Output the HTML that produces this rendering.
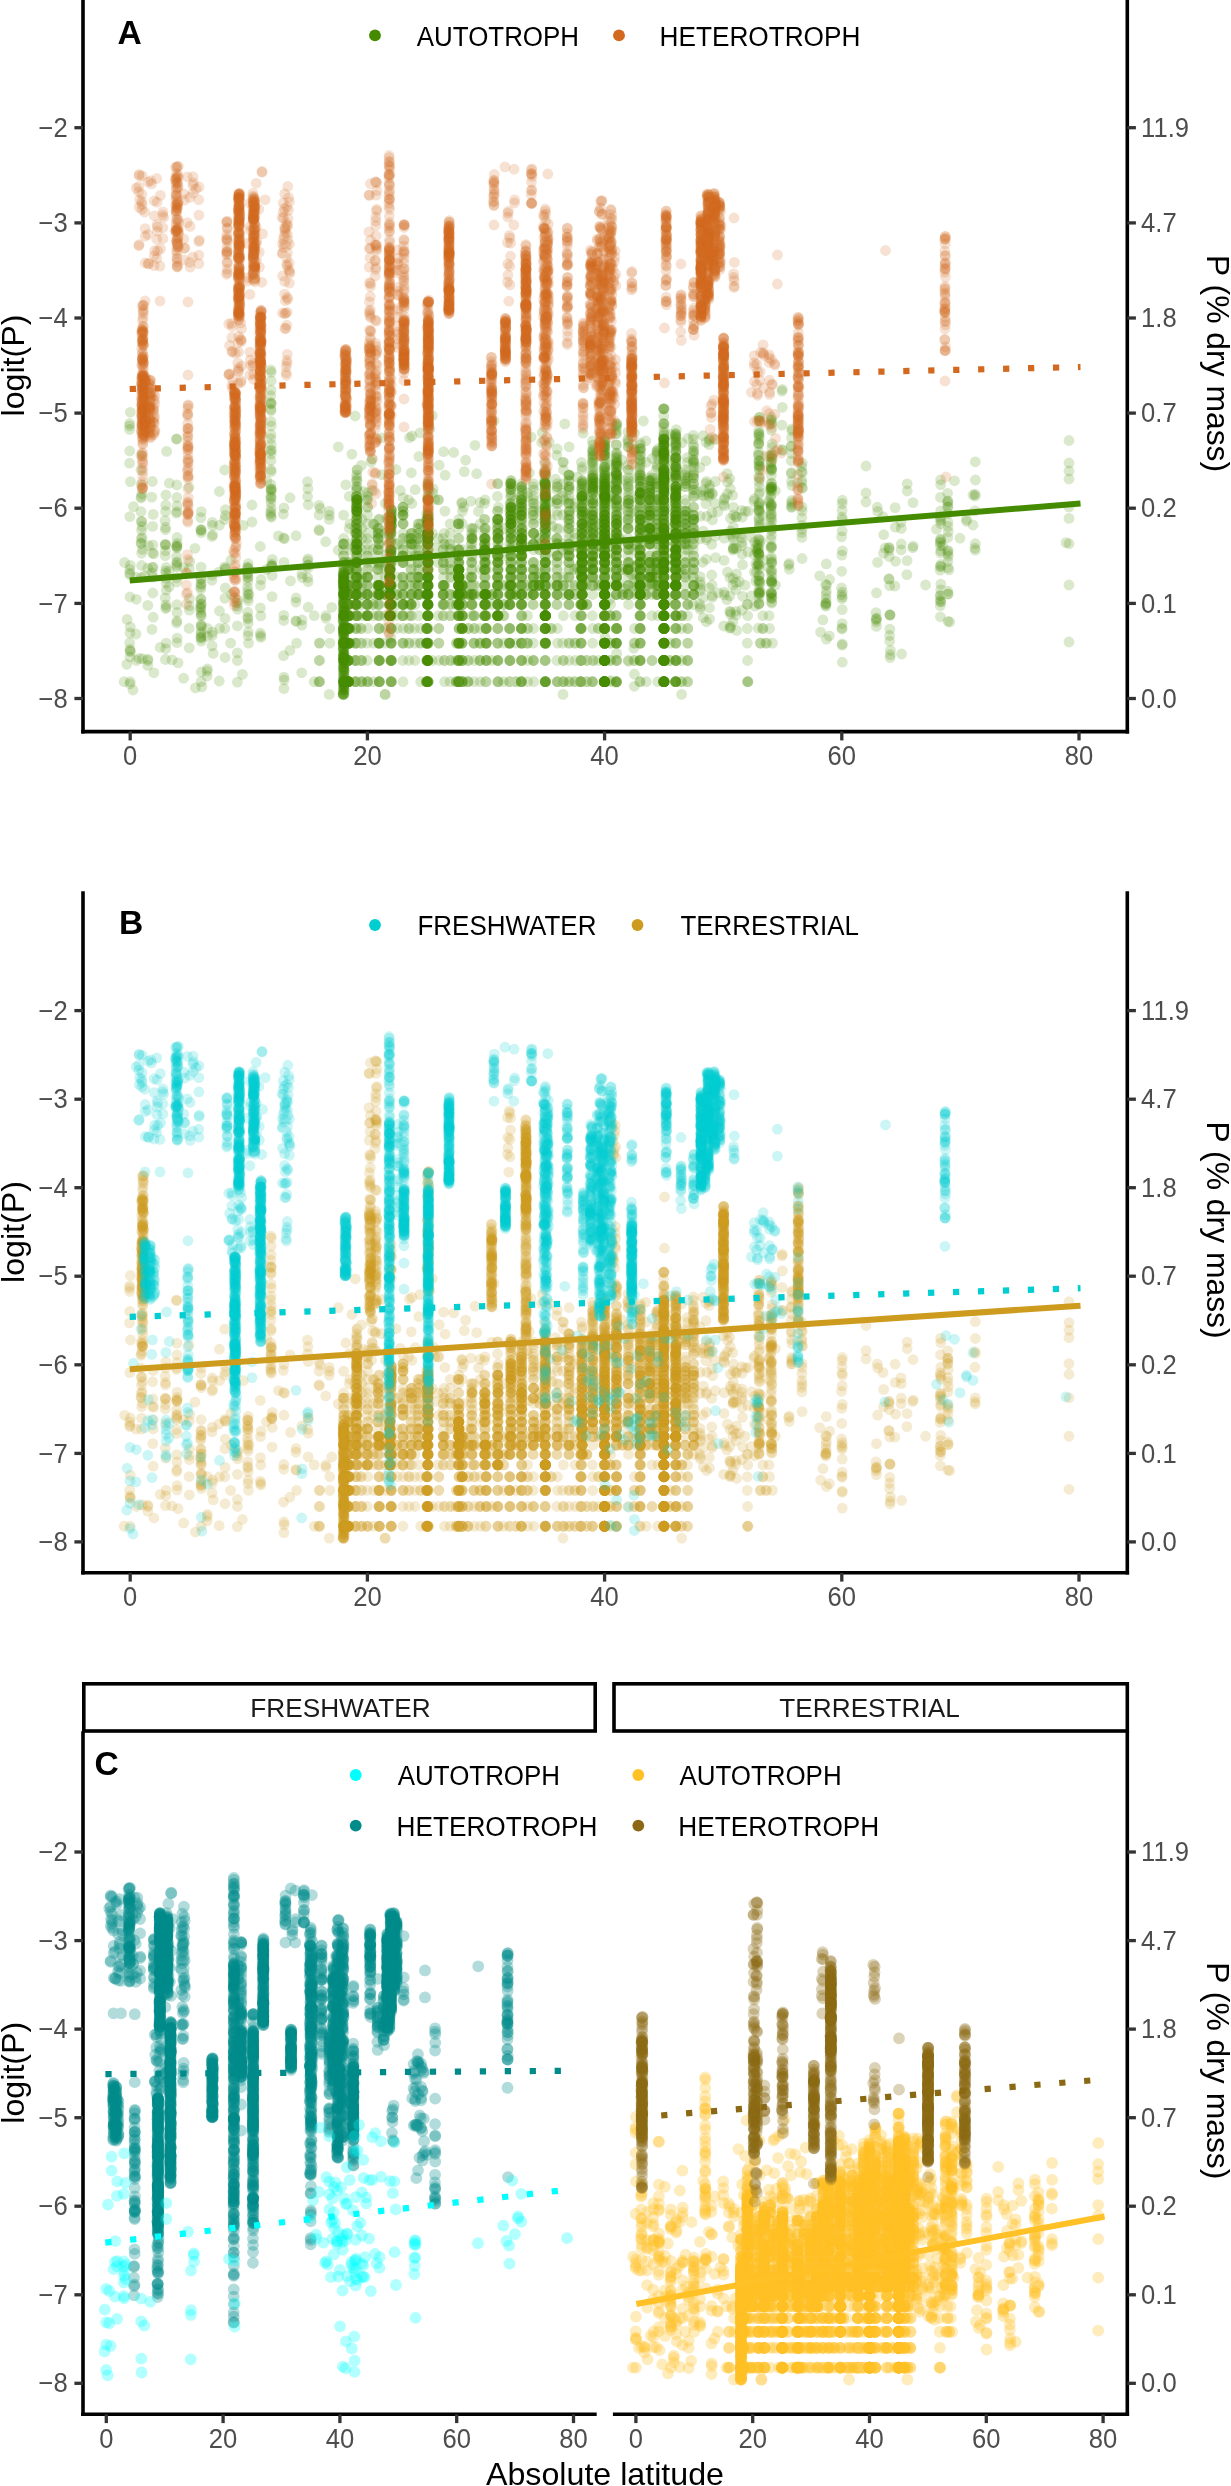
<!DOCTYPE html><html><head><meta charset="utf-8"><style>html,body{margin:0;padding:0;background:#fff}svg{display:block;will-change:transform}</style></head><body><svg width="1231" height="2486" viewBox="0 0 1231 2486"><style>.tk{font-family:"Liberation Sans",sans-serif;font-size:26.9px;fill:#4D4D4D}.lg{font-family:"Liberation Sans",sans-serif;font-size:27px;fill:#000}.st{font-family:"Liberation Sans",sans-serif;font-size:26.7px;fill:#1A1A1A}.ti{font-family:"Liberation Sans",sans-serif;font-size:32.2px;fill:#000}.tg{font-family:"Liberation Sans",sans-serif;font-weight:bold;font-size:33.6px;fill:#000}defs path{vector-effect:non-scaling-stroke}.pt{fill:none;stroke-linecap:round}</style><defs><path id="AT0" d="M124.6 562.5h0m16.7-65.9h0m11.8 70.9h0m23.7-128.3h0m.3 203.5h0m24.1-58.5h0m6 91.8h0m17.7-77.7h0m23-20.6h0m18.6-8.2h0m4.5-80.2h0m13 73.1h0m24.2 44.8h0m23.5 .1h0m11.4 86.8h0m.2-26.5h0m0-84h0m.1 34.9h0m.2-44h0m0 32.4h0m.1-12.4h0m0 87.2h0m.2-24.8h0m0-13.8h0m.1-11.7h0m4.2-15.7h0m.2 44.8h0m1-75.1h0m0 43.1h0m5.9-43.1h0m0 19.1h0m1-42h0m.3-59.1h0m.2 40.6h0m.3-24.6h0m0-49.6h0m4.2-4.4h0m6 216.3h0m.2-87.2h0m.1-98.1h0m10.3 98.1h0m.9-32h0m.4 32h0m.1 87.2h0m10.4-96.3h0m.1-22.9h0m.2 53.2h0m.1-21.2h0m0-17.4h0m.2-27.4h0m.9 78.8h0m.1-108.6h0m5.9 57.2h0m5.5-33.1h0m.3 60.5h0m5.7 38.6h0m2.7-66h0m6.9 0h0m0-53.3h0m8.6 119.3h0m.6-93.4h0m.2 27.4h0m.2-53.3h0m0-24h0m.1 115.9h0m.1 44.8h0m0-122h0m0 24h0m.1 32h0m11.1-129.3h0m4.2 104.3h0m1.1 91h0m5.5 21.2h0m8.2-38.6h0m.2-73.6h0m.1 25h0m.1-44.8h0m.1 35.7h0m.3 19.1h0m3.3 24h0m.3-43.1h0m5.2 96.3h0m3.6-104.6h0m3.5-131.8h0m9.4 140.1h0m.1-35.7h0m.5-49.9h0m.2 104.7h0m1-10h0m7.9-173.7h0m3.5 156.3h0m.2 38.6h0m.1-77.2h0m.2 122h0m.1-127.1h0m11.3 71.1h0m1.2-89.4h0m.4 54.4h0m.1 25h0m0-61.1h0m.1-46.7h0m10 173.8h0m0-164.1h0m0 66.1h0m.1-18.5h0m0-24.6h0m.2 75.1h0m9.6-157.5h0m2.1 107h0m.1 50.5h0m5.7-9.1h0m5.9-78.2h0m0 97.3h0m.1 11.2h0m0-38.6h0m.1 66h0m0-119.3h0m.1 25.9h0m.3-63h0m9.9-7.5h0m1.3 90.3h0m2.2-40.5h0m9.9-9.6h0m.2 50.1h0m0-122.6h0m5.9 122.6h0m6 59h0m.7-43.1h0m.1-74.3h0m.2 44.8h0m.1-59.5h0m0 98.1h0m.3-32h0m.1-29.1h0m4.8 16.3h0m5.1-25.9h0m.1-30.8h0m.3 62.9h0m.2-88.7h0m.1 109.9h0m11 104.6h0m.1-137.7h0m.2-24.6h0m.1 141.1h0m.1-170.7h0m0-46.9h0m.1 56.9h0m0 94.7h0m.1-17.4h0m0-21.2h0m0-80.8h0m.1 168h0m0-14.6h0m0-95.1h0m.1 71.1h0m5.5 77.2h0m5.6-66h0m.2-143.3h0m0 17.4h0m0 34h0m.2 53.3h0m.3-27.4h0m5.4 19.8h0m6.3-66.1h0m0 46.3h0m5.9-71.8h0m5.4 18.5h0m.1 27.4h0m.4 32.1h0m0 38.6h0m.2-119.4h0m0 102h0m0 38.6h0m5.2-21.2h0m3.8-66h0m.2-28.7h0m.3 62.7h0m.1 7h0m6.5-73.1h0m.1 98.1h0m.8-50.5h0m6.2 18.5h0m0-109.3h0m.1 123.9h0m0-138h0m0 204h0m0-104.6h0m.1 77.2h0m0-125.9h0m0 170.7h0m0-56h0m.1-126.6h0m.1 29.3h0m0 16.6h0m0-54h0m.1 79.9h0m0 44.8h0m.1 34h0m5.5 32h0m5.6-182.6h0m0 203.8h0m0-96.3h0m0-127.7h0m.2 66.1h0m0 80.7h0m0-35h0m.2-73.1h0m0 47.6h0m.3 11.9h0m.1-44.8h0m9.2-27.5h0m.1 54.9h0m2.5 66h0m5.5-139.7h0m.2 54.6h0m0 66h0m9.4-95.4h0m6.5 129.1h0m17.8-125.1h0m3.2 120.3h0m11.9-49.6h0m16.1-88h0m.1 76.6h0m.3 44h0m.5-180.1h0m11.9 71.8h0m.2 58.3h0m.2-124.6h0m.1 175.6h0m19.6-117h0m29.1 150.8h0m21.7-131.9h0m34.1 119.4h0m19.2-58.3h0m45-21.5h0m7.1-32.6h0m121.3-66.7h0"/><path id="AT1" d="M124.1 681.7h0m16.9-183.7h0m12.1 79.2h0m23.8-92.2h0m1.2 177.9h0m22.7-75.9h0m11.5-64.6h0m12.8 96.1h0m22.7-37.4h0m22.9-211.2h0m.6 119.8h0m12.5 125.6h0m30.4 .4h0m24.1-168.8h0m4.8 128.1h0m.2 57.9h0m.1-13.5h0m.2 48.3h0m.1-10.2h0m.1-14.4h0m.2-48.6h0m.1 87.2h0m0-73.3h0m.1-23.9h0m0 109.9h0m3.9-33.9h0m.3-44.8h0m.1 27.4h0m1.1-57.7h0m6.8-22.9h0m.3-87.4h0m.1 129.4h0m.1-101.1h0m.1 20.4h0m.1 61.6h0m0-41.4h0m4.8-24.6h0m5.4 75.1h0m.3-94.7h0m.2 181.9h0m9.9-87.2h0m.6-25h0m.1 35h0m.9 77.2h0m10.3-66h0m.1-30.3h0m.1-15.9h0m.4-19.8h0m0 27.4h0m.8 51.4h0m.2-34h0m.4-74.3h0m5.6 74.3h0m6 10h0m.1-54.8h0m5.9 93.4h0m2.1-57.7h0m6.9-8.3h0m.5-53.3h0m7.9 119.3h0m.9 17.4h0m0-44.8h0m.2-91.9h0m.1 61.6h0m0-46.9h0m.2 56h0m0-44.8h0m.2-49.9h0m.1 62.7h0m9.8-62.7h0m5.5 69.7h0m1 112.2h0m11.8-130.2h0m2 33.9h0m.1-35.7h0m.4 44.8h0m.1 10h0m0-35h0m2.9 91h0m.3-32h0m.3-43.1h0m5.3 96.3h0m3.6-104.6h0m5.3-103.4h0m7.8 29.7h0m.2 82h0m.1-35.7h0m.3 54.8h0m1.1-10h0m11.6-110.9h0m0 60.4h0m0 71.7h0m.1-38.6h0m.3 104.6h0m.1-143.2h0m11.2 66h0m1.2-117.8h0m0 28.4h0m.1 54.4h0m.1-36.1h0m.2 61.1h0m10.3-75.1h0m.1 141.1h0m.3-116.5h0m0 18.5h0m0-66.1h0m.1 98.1h0m11.5 0h0m0-50.5h0m.1-60.4h0m5.9 101.8h0m5.6-35.7h0m.3 27.4h0m.1-89.8h0m0 36.5h0m0 91.9h0m.1-11.2h0m0 38.6h0m.1-135.9h0m11.7-23.6h0m.1 85.9h0m5.5-107.2h0m6.3 12.8h0m.1 102h0m.1-53.3h0m5.8 61.6h0m5.7 57.7h0m.9-87.2h0m.1 29.5h0m.1-70.3h0m0 79.4h0m.1-94.7h0m.1 62.7h0m.1-29.1h0m4.2 36.1h0m6.1-13.6h0m.2 29.5h0m0-56.9h0m.2-35.5h0m.1-23.2h0m11 158.7h0m.1-95.1h0m0 61.1h0m.1-38.6h0m.1 21.2h0m0-57.7h0m.1 24.6h0m0 137.7h0m.1-191.9h0m.1 10h0m.1 104.7h0m0-159.6h0m.1 30.2h0m.1 185.4h0m.1-17.4h0m11-170.7h0m.1 77.3h0m0 78.8h0m.2-104.7h0m.2-30.8h0m0 84.1h0m.2-153.5h0m5.9 170.9h0m5.5-91.1h0m0 52.5h0m6.2-44.8h0m5.5-11.3h0m.2 115.9h0m.1-140.6h0m.2 119.4h0m0-66h0m.1 27.4h0m0 21.2h0m5.5 17.4h0m3.7-94.7h0m.1 28.7h0m.1 34h0m.1 14.6h0m6.4 17.4h0m.5-44.8h0m.1-53.3h0m6.6-43.2h0m0 24.7h0m.1 99.2h0m0-14.6h0m0-123.4h0m0 155.4h0m0-87.3h0m0 108.5h0m.1-125.9h0m0 48.7h0m.1 90h0m0-78.8h0m.1 93.4h0m0-38.6h0m0 56h0m.2-132h0m0-58.7h0m5.3 190.7h0m5.9-104.6h0m0-59.5h0m.1 47.6h0m0 41.4h0m0-15.9h0m.1 46.2h0m0-100.6h0m.1 166.6h0m.2-224h0m.2 20.2h0m0 50.6h0m9.1-41.8h0m.4 51.8h0m1.9 66h0m5.7-80.7h0m.7-56.6h0m0 118.2h0m9.5-89.9h0m3 126.3h0m21-49.8h0m5.5 49.5h0m12.1-36.4h0m13.9-31.8h0m.2 49.8h0m.1-185.5h0m.2 60.8h0m11.7 10.7h0m.1 59h0m.4-124.1h0m0 178h0m20.3-116.5h0m33.8 98.9h0m16.5-80.8h0m34 118.3h0m18.7-35.9h0m45.5-44.2h0m7.8-28.3h0m120.8-50.5h0"/><path id="AT2" d="M129.7 423.5h0m11.3 88.2h0m11.8 81.3h0m24.1-95.5h0m6.7 70.2h0m17.1 21.5h0m11.7-63.8h0m12.4 103.1h0m22.8-41.2h0m23.6-95.6h0m.1-119.5h0m12.4 248.3h0m30.5 61.2h0m24-131.5h0m4.9 69.2h0m.1 75.1h0m.2-100h0m0-9.9h0m0 73h0m.2 24.1h0m.1-73.1h0m.1-33.5h0m.1 93.5h0m.2-25.5h0m.2-10.2h0m3.7 27.6h0m.5-44.8h0m.1 27.4h0m.7-57.7h0m5.8-41.4h0m1.4 41.4h0m.1-61.6h0m0 80.7h0m.2-126.6h0m.3 25.5h0m.1 59.1h0m4.5-34h0m5.4-28.7h0m.2 94.7h0m4.6-135.5h0m5.8 145.5h0m.3-19.1h0m.1 19.1h0m1.2 77.2h0m10.4-112.2h0m0 25h0m.3 21.2h0m0-38.6h0m.8-56.5h0m.1 29.1h0m.5 78.8h0m.1-34h0m5.2 0h0m6 10h0m.3-54.8h0m5.8 110.8h0m2.9-66h0m6.4-9.1h0m3-61.6h0m5.3 119.3h0m0-48.6h0m.5 87.2h0m.6-157.9h0m0-24h0m.2 115.9h0m.1-53.2h0m.1 22.9h0m.1-46.9h0m0 11.2h0m10.8-49.9h0m4.7 77.3h0m10.2-124.6h0m2.7 142h0m2.2-38.6h0m.1 38.6h0m.2-9.1h0m0 19.1h0m.2-35h0m.1 91h0m2.9-32h0m0-43.1h0m8.8-84.3h0m.8 76h0m2.4-48.6h0m10.5 56.9h0m0-66h0m.2 85.1h0m0-54.8h0m1.3 54.8h0m11.4-120.9h0m0 93.5h0m.1-27.4h0m.2 66h0m.3-77.2h0m0 143.2h0m11.3-77.2h0m1.2-89.4h0m.1-25.3h0m.5 48.7h0m0 31h0m.1 25h0m10-25h0m.1-69.7h0m.2 104.7h0m.1 56h0m.2-141.1h0m.1 24.6h0m11.2-57.3h0m.1 107.8h0m.3-44.8h0m5.6 35.7h0m5.8-96.2h0m.1 115.3h0m.2-97h0m.1 135.6h0m0-93.4h0m.1-25.9h0m.1 53.3h0m.1 38.6h0m11.2-38.6h0m.3-90.4h0m6.3-24.4h0m5.2 12.8h0m.1 102h0m.3-53.3h0m5.6 61.6h0m6.6 57.7h0m.4-128h0m0 70.3h0m.1-29.5h0m.2-22.5h0m.3 29.1h0m0 32h0m0-94.7h0m4.2 85.6h0m6-29.5h0m.1-62.9h0m.2-20.6h0m0 113h0m.1-56.9h0m11.3-38.7h0m.1 170.7h0m0-104.6h0m.1-22.5h0m.1 43.7h0m0-132.2h0m.1 149.6h0m0-50.5h0m0-24.6h0m.1 123.7h0m0-139.7h0m.1 101.1h0m0-129.4h0m.1 206.6h0m.1-53.2h0m11.3-156.1h0m.1-48.8h0m.2 100.2h0m.1-27.4h0m0 80.7h0m0 51.4h0m0-78.8h0m6 44.8h0m5.9-91.1h0m0 59.1h0m5.8-18.5h0m5.4 71.7h0m.1-59.8h0m.1-80.8h0m0 119.4h0m.1-94.7h0m.3 28.7h0m0 48.6h0m6.1-114.8h0m2.9 100.2h0m0-59.1h0m.1 25.1h0m2.5 48.6h0m4.7-21.2h0m.2-56.1h0m1 94.7h0m5.7 66h0m0-170.7h0m.1 104.7h0m0 21.2h0m.1-162.5h0m0 16.6h0m0 134.7h0m.1-66h0m0 90h0m.2-189.4h0m0 38.8h0m0 71.8h0m.1 27.4h0m0-7.6h0m.1-41h0m0-21.3h0m0 174.5h0m5.7-153.2h0m5.4 56.9h0m0-29.5h0m.2-98.2h0m0 224h0m.1-137.7h0m.1-47.6h0m0 80.7h0m.1-99.2h0m.1 37.2h0m0 100.6h0m.1-87.2h0m9.2-41.8h0m.2 51.8h0m2 77.2h0m6.1-30.3h0m.1-56.9h0m0-56.1h0m12.2 31.3h0m6.5-10.5h0m17.4 102.7h0m.6 30.2h0m12.2-29.8h0m16.1-42.9h0m.2-132.7h0m0 183.3h0m.1-122.3h0m12.3-51.5h0m.1 126.8h0m.4 46.1h0m.1-112.3h0m19.8 9.6h0m34.3 103.1h0m16.1-93.1h0m34.3 116h0m24.6-104.1h0m39.4 20.6h0m7.6-20.8h0m121-51.1h0"/><path id="AT3" d="M129.5 425.9h0m12 95.5h0m11.7 95.8h0m23.8-111.3h0m6.6 172.3h0m17.4-79.3h0m11.7-64.1h0m12.4 122.7h0m22.7-66.3h0m23-95.3h0m.3-115.1h0m12.4 274.9h0m35.5-150.4h0m24.1 79.3h0m0 36h0m0 22.7h0m.1 14.7h0m0-48.8h0m.2-14.7h0m0 100.2h0m.1-61.6h0m.4 35.6h0m.2-92.9h0m0 106.1h0m1.7-197.1h0m2.3 196.9h0m.2-66h0m.3-30.3h0m.2 57.7h0m7.2-27.4h0m.3-53.2h0m.1-38.7h0m.4-16.6h0m.1 78.2h0m.2-41.4h0m0-63.3h0m4.8 57.8h0m5.2 56h0m.6-87.3h0m3.4-45.3h0m6.6 153.8h0m.6-30.3h0m1.2 19.1h0m5.9-101.1h0m4.4 66.1h0m0 25h0m.1 21.2h0m.2-38.6h0m1 51.4h0m.2-107.7h0m0 73.7h0m.1-44.8h0m5.2 44.8h0m6.5-38.6h0m.3 48.6h0m8-10h0m.5-158.6h0m6.2 92.6h0m.6 56.9h0m7.7 9.1h0m.1 87.2h0m.9-38.6h0m.4-87.2h0m.1 6.6h0m0 53.2h0m.1-30.3h0m0-61.6h0m0-12.7h0m.1 27.4h0m10.1 0h0m5.2 46.9h0m6.7-61.6h0m6.4 80.7h0m1.9 0h0m.2-48.6h0m.2 13.6h0m.1 25h0m.1 66h0m.1-75.1h0m2.9 43.1h0m.6-43.1h0m8.9-56.9h0m.2 56.9h0m2.4 0h0m10.4-35.7h0m.2-30.3h0m.3 85.1h0m0-19.1h0m1.1 19.1h0m11.4-19.1h0m0-89h0m0 53.3h0m.3 66h0m.3-77.2h0m6-10h0m5.2 100h0m.8-24h0m.5-35h0m0-50.1h0m.2-29.6h0m.4 48.7h0m10 66h0m.1 77.2h0m.2-112.2h0m0-45.7h0m.2-24h0m.3 44.2h0m11.3 18.5h0m.1 32h0m.3-104.7h0m5.6 95.6h0m5.7-77.4h0m0 15.8h0m0-34h0m.2 87.3h0m0 38.6h0m.2-11.2h0m.1-54.8h0m.2 93.4h0m11.1-66h0m.4-90.4h0m6.2-16.9h0m5.2 107.3h0m.5-102h0m.1 53.4h0m5.4 66h0m6.5 48.6h0m.6-87.2h0m.1-32.1h0m.2 61.6h0m0-52h0m0 61.1h0m.1-25h0m.3-69.7h0m4.5 85.6h0m5.6-29.5h0m.1-27.4h0m.3 56.9h0m.1-85.6h0m.1-24.7h0m11.1 168h0m0-165.2h0m0 25.5h0m.1 16h0m.1-72.5h0m0 213.6h0m.2-104.6h0m0-11.9h0m.1 84.5h0m0-34h0m0-61.1h0m.2 43.7h0m.1-84.1h0m0 111.5h0m0 77.2h0m11-209.3h0m.4 104.7h0m0-53.3h0m.2 25.9h0m0-124.5h0m0 203.3h0m.1-128.7h0m5.8 94.7h0m5.8-32h0m.1-59.1h0m5.7 46.3h0m5.7 27.4h0m0-99.2h0m.2 116.6h0m0-94.7h0m.5 115.9h0m0-87.2h0m.1 27.4h0m8.7-52.5h0m.1-25.5h0m.4 84.6h0m.1-34h0m2.5 48.6h0m4.6-21.2h0m.8-56.1h0m.2 115.9h0m5.5 12.8h0m0-138.7h0m0-11.9h0m.1 116.6h0m.1 10h0m0-48.6h0m0 59.8h0m0-87.2h0m.1 153.2h0m0-211.9h0m0-30.7h0m0 14.1h0m.1 207.3h0m0-91h0m.1-31h0m.2 38.6h0m0-69.9h0m5.9 55.3h0m5.4-12.8h0m.2 35.7h0m0 96.3h0m.1-166.6h0m0-34.4h0m0 135h0m0-87.2h0m0-32.1h0m.1 59.5h0m0-98.2h0m.2 119.4h0m8.8-33.1h0m.5-44.2h0m2.4 128.7h0m5.7-43.1h0m.1-110.3h0m.3 53.4h0m9.5 2.7h0m8.5-18.6h0m15 87.2h0m3.7 28h0m17.7-116.6h0m10.5 43.6h0m0 49.5h0m.4-183.5h0m0 66h0m11.8 4.4h0m.4 67.9h0m.8-115.3h0m.3 199.3h0m19.3-140.6h0m33.9 101.3h0m16.7-84.2h0m40.6-2.9h0m18.3 11.7h0m39 17.5h0m7.6-19.5h0m121.1-47.4h0"/><path id="AT4" d="M129.6 429.5h0m12 92.1h0m12.3 151.2h0m23.1-161.2h0m12-24.3h0m11.8 112.2h0m11.2-63h0m19 23.7h0m16.9 34h0m23.2-204.1h0m.2 107.5h0m12.6 179.5h0m36.2-168.7h0m23.1 113h0m.2 22.2h0m.1-49.1h0m.1-18.4h0m0 105.9h0m0-166.9h0m0 94.8h0m.2 23.6h0m.2-48.9h0m.1 73.4h0m.1 12.3h0m4-27.2h0m.1 38.6h0m.1-96.3h0m.1 30.3h0m.8-119.3h0m7 27.4h0m0-43.1h0m.2 88.8h0m0-25.5h0m.1 50.5h0m.4 21.2h0m.1-108.5h0m4.5 42.5h0m5.9 44.8h0m0-87.3h0m4.6-17h0m6.4 95.2h0m1 30.3h0m1.5-177.8h0m4 95.5h0m4.6 36.1h0m.1 46.2h0m.2-21.2h0m.3-17.4h0m.6-27.4h0m0 44.8h0m.3 48.6h0m.3-122.3h0m6 83.7h0m5.8-48.6h0m.1 48.6h0m8-131.7h0m.3 121.7h0m6.4-9.1h0m.2-56.9h0m8.1 66h0m.4-80.9h0m.4 168.1h0m.4-38.6h0m.1-57.7h0m.1-46.9h0m0 17.4h0m.1 59.8h0m.1-87.2h0m.3 34h0m10 0h0m5.3 22.9h0m6.7-52h0m6.4 71.1h0m1.8-48.6h0m0 104.6h0m.1-91h0m.1 25h0m.3-9.1h0m.1 30.3h0m3 27.4h0m.5-57.7h0m9.2 0h0m.2-56.9h0m2.4 56.9h0m10.2 19.1h0m.2-76h0m.4 21.2h0m.1 35.7h0m1.2 30.3h0m11.2 0h0m.2-30.3h0m.1-74.3h0m0 38.6h0m.3-5.7h0m5.7 11.9h0m6 72.6h0m.1-24h0m.7-66h0m.1-48.7h0m.1 87.3h0m.4-57.7h0m10 4.4h0m.2-24h0m.1 69.7h0m.1 112.2h0m0-137.7h0m.1 60.5h0m11.4 0h0m.4-42h0m.1-66.1h0m5.2 89h0m5.9 19.1h0m.1-27.4h0m.5-53.3h0m.1-13.2h0m0 105.1h0m.1 27.4h0m.1-151.7h0m0 58.3h0m11.2-59.9h0m.5 87.3h0m5.9-93.5h0m5.4 44.9h0m.2-53.4h0m.4 110.3h0m5.5 9.1h0m6 48.6h0m.9-119.3h0m.1 32.1h0m.2 29.5h0m0-52h0m.1 36.1h0m.2 25h0m.1-91.1h0m4.2 101.1h0m5.9-129.4h0m.2 80.8h0m.1-56.1h0m0 94.7h0m.3-61.1h0m11 109.7h0m.2 38.6h0m0-188.7h0m0 111.5h0m.2 24h0m0-181.6h0m.1 147.6h0m.1-91.1h0m.1 157.1h0m0-141.1h0m0 43.1h0m0-29.1h0m.1 43.7h0m0-99.2h0m0 66.1h0m11.3-68.9h0m0 74.6h0m0-25.9h0m.1-97h0m.1 201.7h0m.1-51.4h0m.2-77.3h0m11.3 62.7h0m.1-130.6h0m.4 75.3h0m5.5 78.2h0m6 30.3h0m0-87.2h0m.1 48.6h0m0-21.2h0m.1 38.6h0m.2-94.7h0m.1-21.9h0m8.8 29.3h0m.2 21.3h0m.1 34h0m.1-81.8h0m1.9 96.4h0m5.1-69.9h0m.4 48.7h0m.6 125.8h0m5.9-211.9h0m0 190.7h0m.1-179.8h0m0 47.8h0m0 27.4h0m.1-17.4h0m0 31h0m.1 25h0m.1-155.4h0m0 146.3h0m.1-74.3h0m0 170.6h0m.1-77.2h0m0-111.5h0m.1 122.7h0m0-162.5h0m0 175.3h0m5.9 14.6h0m5.2 38.6h0m.1-166.6h0m.1 40.8h0m.1-69.2h0m0 129h0m0-30.3h0m.2-35.7h0m0-21.2h0m.1-32.1h0m0-38.7h0m.1 119.4h0m9.2-33.1h0m.2-40.6h0m2.2 125.1h0m5.6-100h0m0-53.4h0m.1 119.4h0m9.4-32.2h0m9.7-42.4h0m17.2 91.5h0m6.1-94.6h0m12.2 35.1h0m10.9-121.5h0m.1 124.6h0m.5-62.9h0m.7 151h0m11.1-148.6h0m.5 67.2h0m.1-114.1h0m3.5 43.1h0m16.3 14h0m33.9 100.4h0m16.6-74.2h0m41.5 3.8h0m17.6 9.3h0m39.5 6.7h0m7.5-19.1h0m120.7-24.6h0"/><path id="AT5" d="M129.7 451h0m11.8 79.3h0m18.7 117.1h0m16.2-134.3h0m13.3 48.5h0m11.7 42.4h0m10.9-28.7h0m19.2 19.2h0m17.5 0h0m21.8-95.6h0m0-103.2h0m13.4 284.3h0m34.9-165h0m24.1 61.6h0m.3 8.8h0m.1-46.9h0m0 105.3h0m.1 27.2h0m.1-76.5h0m0 27.2h0m.1 61h0m.1-72h0m0 22.8h0m0 24.8h0m4.2 23.4h0m.2-66h0m.2-21.2h0m.1 48.6h0m1.2-119.3h0m6.5 70.7h0m0-25h0m.1 46.2h0m.2-108.5h0m.1 21.3h0m.2-41.8h0m.2 57.3h0m4.1 33.1h0m5.6 17.4h0m.6-79.4h0m5.8 8.7h0m4.9 61.6h0m.8 30.3h0m2.7-141h0m3 87.8h0m5 7h0m.1 46.2h0m.1-21.2h0m.3-17.4h0m.1 27.4h0m.6-82.5h0m.1 121.1h0m.3-92h0m5.3 64.6h0m6.2-59.8h0m.2 48.6h0m8.2-10h0m.7-91h0m6.2 81.9h0m.1-52h0m8.3 61.1h0m.4 87.2h0m.7-112.2h0m.4 15.9h0m0-46.9h0m0-10h0m.1 87.2h0m0-59.8h0m.1-40.8h0m.1 128h0m10-27.4h0m4.7-30.3h0m7.2-41.4h0m6.3 99.1h0m1.8 17.4h0m0-66h0m.3-38.6h0m.3 59.8h0m.1-30.3h0m0-8.3h0m3.1 66h0m0-57.7h0m9.5 0h0m.1-52h0m2.8 82.3h0m9.9-21.2h0m.2 10h0m.1-76h0m.4 27.4h0m1.2 72.6h0m11.2-117.4h0m0 104.6h0m0-30.3h0m.1-35.7h0m.5 0h0m5.6 35.7h0m6.2 43.1h0m.2-24h0m.6-27.4h0m.2-84.1h0m.1 26.4h0m.2 19.1h0m10 143.2h0m.1-77.2h0m.1-60.5h0m.1-44.2h0m.3 69.7h0m.1-41h0m11.2 76h0m.1-42h0m.2-62.7h0m8.9-67.3h0m2.8 144.6h0m.2-53.3h0m0 136.7h0m.2-168.6h0m.1 112.6h0m0 11.2h0m0-104.6h0m.1 38.6h0m11.3-49.9h0m.4 85.6h0m5.3-89h0m5.9 32.1h0m.3-47.8h0m0 113.8h0m6.1 21.2h0m5.8-30.3h0m.4 75.1h0m.6-98h0m0-34h0m.3-25.1h0m0 66.1h0m.2-31h0m0 56h0m4.5 10h0m5.6 11.2h0m.2-82.3h0m0 22.5h0m.3-56.1h0m.1-21.9h0m11.1 203.8h0m.3-87.2h0m.1-75.1h0m0 24.6h0m0 41.4h0m.1 19.1h0m0 56h0m.1-98h0m.1 66h0m0-125.1h0m0-56.5h0m0 86.5h0m0-40.4h0m.1 150.1h0m0-165.2h0m11.4 21.9h0m.2-69.6h0m.2 119.5h0m0-74.6h0m0 110.3h0m.1 43.1h0m0-100h0m11.2-17.4h0m0-72h0m.7 123.4h0m5.9 32h0m5.1-38.6h0m.1 72.6h0m.2-34h0m.1-113.8h0m.1 96.4h0m.1-77.3h0m.2 28.7h0m9-47.8h0m.3 88.8h0m.1-36.1h0m.1-26.2h0m1.8 78.2h0m4.7-29.5h0m.7-48.7h0m1.2-47.2h0m5.1 68.5h0m0 100h0m.1-12.8h0m.1-135h0m0 113.8h0m.1-83.4h0m0 74.3h0m0-115.6h0m.1-30.7h0m.1 99.4h0m.1-45.5h0m0 188.7h0m0-77.2h0m.1-151.3h0m0 102.7h0m0 13.6h0m0 91h0m11.2-164.1h0m.1 119.3h0m.1-100.6h0m.1 47.4h0m0-102.5h0m.1 117.1h0m0-143.4h0m.2 151.7h0m0-35.7h0m0-16.3h0m.1-46.7h0m5.7-43.8h0m3.2 101.1h0m.4-32.9h0m2.6 132h0m5.6-165.2h0m0 55.5h0m.3 61.1h0m9.3 3.1h0m8.5-53.2h0m18.1 83.7h0m6.9-111.2h0m10.8 87.6h0m11.3-46.2h0m.1-124.9h0m.2 60.8h0m1.5 148.9h0m10.3-146.5h0m.7 65.9h0m.3-107.7h0m3.5 130.3h0m16.2-77.9h0m34.3 99h0m16.5-55.4h0m41.1 2.4h0m17.6-3.3h0m39.5 3h0m7.2-15.5h0m121.2-19h0"/><path id="AT6" d="M129.5 463.2h0m11.8 75.5h0m24.4-33.6h0m11.4 32.4h0m12.2 31.2h0m11.6 35.5h0m11.1-23.9h0m18.6 62.8h0m17.2-45.1h0m22.8-195.6h0m.3 100.3h0m13 185.9h0m35.1-158.9h0m24.3 64.8h0m.1-50.5h0m.1 90.1h0m0-57.3h0m.2 8.6h0m.1 85.6h0m.2-25.5h0m.1-34.7h0m.1 72.2h0m0-23.9h0m.1-35.8h0m3.7 58.4h0m.1-66h0m.4-21.2h0m.7-66h0m.7 114.6h0m6.5-135.9h0m.1-20.5h0m.1 41.8h0m0 66h0m.1-44.8h0m.2 19.8h0m.2 46.2h0m4.7-38.6h0m5.3-53.3h0m.2 80.7h0m6.3-80.7h0m4.4 61.6h0m.9 43.1h0m.4-109.1h0m5.7 43.1h0m4.6 32h0m.2-25h0m.2 46.2h0m.1-11.2h0m.1-19.1h0m.7-34.3h0m0-26.6h0m.5 118.6h0m5.9-14.6h0m5.3-72.6h0m.6 59.8h0m7.9-21.2h0m.5-61.1h0m7 61.1h0m.1-61.1h0m7.9 61.1h0m.2 87.2h0m.8-143.2h0m.1 77.2h0m0 27.4h0m.1-128h0m.1 54.4h0m.1-13.6h0m0-27.4h0m.1 56.9h0m10.8 43.1h0m4.5-43.1h0m6.6-41.4h0m6.5 99.1h0m1.8-27.4h0m.2 44.8h0m0-104.6h0m.1 29.5h0m.1-8.3h0m.3 17.4h0m3-9.1h0m.1 57.7h0m9.5-48.6h0m.2-59.1h0m2.6 93.1h0m10.3-72.6h0m.5 38.6h0m.3-66h0m.2 76h0m.7 24h0m11.1-12.8h0m.1-30.3h0m.2-29.5h0m0-36.5h0m.3 30.3h0m5.8 35.7h0m5.8 43.1h0m.4 32h0m.5-122h0m0-42.1h0m0 80.7h0m.5-57.7h0m10.1 9.1h0m0 76h0m0-101.1h0m.1 40.6h0m0 25.5h0m.1 112.2h0m12.1-178.3h0m0 125.1h0m.2-59h0m11.2 7.6h0m.1-27.4h0m0-86.3h0m.1 47.7h0m.1 93.4h0m0 56h0m.1-132h0m.1 87.2h0m.1-123.5h0m11.5 7.6h0m.2 85.6h0m7.2-85.9h0m4.4 33.9h0m.2-52.7h0m.2 113.8h0m5.6 48.6h0m6.5 17.4h0m.4-66h0m.1-32h0m0-34h0m.3 66h0m.2-87.3h0m0 62.3h0m.1-31h0m4.7 66h0m5.3-42h0m.1-84.6h0m.1 150.6h0m.3-95.1h0m.2-30h0m11.1 125.1h0m.1-150.6h0m.1 203.8h0m.1-162.3h0m.1 66h0m0-52h0m0-30h0m.1 46.3h0m.1-100.7h0m0 44h0m.1 111.5h0m.1-10h0m0-32h0m0 80.6h0m0 17.4h0m11.2-75.1h0m0-56.9h0m.1-94.8h0m.1 66.1h0m0 56.1h0m.3 72.6h0m.1-153.4h0m11 36h0m.1-70.1h0m.1 128.5h0m6.5 59h0m5.3-72.6h0m.1-52.5h0m0 25.1h0m0 56.9h0m.3-104.7h0m.1 147.8h0m.2-34h0m8.9-61.1h0m.2-52.7h0m.1 26.5h0m0 62.3h0m2.1 25h0m4.9-83.4h0m.3 51.4h0m1.3-81.8h0m5.2-39.7h0m.2 144.4h0m0 30.3h0m0-160.3h0m0 83.1h0m.1-45.5h0m0 188.7h0m0-170.6h0m.1 58.4h0m0 25h0m.2-66h0m.1 27.4h0m0-83.5h0m.1 188.1h0m0-179.8h0m0 123.8h0m0 24h0m11.1-132.1h0m.1 37h0m.1-99.7h0m0 28.6h0m.2 123.1h0m0-70.3h0m.1-28.4h0m.2 90.4h0m0 38.6h0m0-66h0m0 12.8h0m5.6-51.4h0m3.2 0h0m.6 38.6h0m1.9 93.4h0m5.9-48.6h0m0-116.6h0m.6 55.5h0m9.4 84.3h0m8.4-42.7h0m18.6-86.3h0m5.9 44.9h0m11.2 70.9h0m11.2-40.7h0m.4-130.3h0m.1 69.2h0m3.8 13h0m8.4-11.8h0m.1-48.5h0m.3 107.9h0m10.6-174h0m9.2 117.9h0m31.4 112.7h0m19.4-27.8h0m46.8-44.5h0m12.5 106.4h0m39.3-89.6h0m6.8-13.1h0m121.3-7.6h0"/><path id="AT7" d="M129.8 516.6h0m11.3 26.4h0m24.5-31.5h0m11.6 31.9h0m12.2 55.2h0m11.2 8.6h0m11.8 24.9h0m25.4-32h0m10.5 .7h0m22.7-197.2h0m.1 104.6h0m18.8 142.2h0m29.4-119.6h0m23.9 115.5h0m.2-11.7h0m.2-57.6h0m.1-33h0m.1 79.8h0m0-29.3h0m.2-8.8h0m0 98.2h0m.1-72.7h0m.1 48.2h0m0 11.8h0m4.2 10.5h0m0-87.2h0m1-50.5h0m.1 71.7h0m.3 27.4h0m6.5-73.6h0m.1-62.3h0m.1 21.3h0m.1 87.2h0m.1-21.2h0m0-44.8h0m.2-59.9h0m4.9 95.6h0m5.4-52h0m.2 71.1h0m5.9-71.1h0m5.6-14h0m.5 109.1h0m.1-43.1h0m5.7-15.9h0m4.6 7.6h0m0 38.6h0m.2-21.2h0m0-9.1h0m.3 19.1h0m.5-51.3h0m0 89.9h0m.2-118.5h0m9.3-34.1h0m2.2 65.4h0m.1 59.8h0m8.4-11.2h0m.6-71.1h0m7 61.1h0m.1-56h0m7.9 56h0m.2 87.2h0m.7-125.8h0m.2 29.5h0m.2-56.9h0m0 41h0m0 46.2h0m.1-100.6h0m.1 23.4h0m.3 104.6h0m10.4-14.6h0m4.6-43.1h0m7.2-35.7h0m5.4 110.8h0m2.4 0h0m0-75.1h0m.1-8.3h0m.3 38.6h0m.3-21.2h0m0-32h0m3 80.6h0m.3-48.6h0m9.1 0h0m.7-56h0m2.2 90h0m10.1-34h0m.1-61.1h0m0 82.3h0m.1-59.8h0m1.6 72.6h0m11.2-109.1h0m.1 66h0m.1-29.5h0m.2 59.8h0m.3-66h0m5.8 54.8h0m5.4 38.6h0m.7 17.4h0m.7-141.1h0m.3 57.7h0m0-80.7h0m1.6 47.1h0m8.5 138.2h0m.1-132h0m.2-46.3h0m.1 73.7h0m.3-48.6h0m0 76h0m11.3 38.6h0m.2-139.7h0m.1 66.1h0m11.5 91h0m0-148.9h0m.2-40.4h0m.1 57.3h0m0 48.6h0m.1 27.4h0m.1 11.2h0m.1-66h0m.1-56.1h0m11.1 91.8h0m.3-85.6h0m5.6 15.3h0m6.3 79.4h0m.1-56h0m0-51.8h0m6.2 156.4h0m5.2 17.4h0m1.2-66h0m.2-61.1h0m.1 29.1h0m.1-55.3h0m.1 62.3h0m.2-25.5h0m0 50.5h0m4.6 66h0m5.4-157.1h0m.2 139.7h0m.2-109.7h0m.1-55.5h0m.1 84.6h0m11.3-55.3h0m0 174.5h0m0-21.2h0m0-66h0m.1-61.1h0m0 95.1h0m0-147.8h0m0 43.1h0m.1 25.9h0m0-98.6h0m0 209.4h0m.1-164.1h0m.1 66.1h0m.1 42h0m0-19.1h0m11.3-29.5h0m0-122.2h0m0 209.4h0m.6-57.7h0m0-85.6h0m.1-24.7h0m0 53.4h0m11.1 41h0m.2-54.4h0m.3-72.2h0m5.9 200.2h0m5.6-135.9h0m.1 26.2h0m.2 95.1h0m.1-34h0m0-113.8h0m.1 81.8h0m0 22.9h0m9.1-104.7h0m0 52.7h0m.1-22.3h0m.4 66h0m1.9 38.6h0m4.7-104.6h0m.3 51.4h0m1.3-62.7h0m5.3 160.7h0m0-205.1h0m.1 25.3h0m0 88.8h0m.1-76.5h0m.1-20.6h0m0 56.1h0m.1 76h0m0 24h0m.1-34h0m.1-56h0m0 17.4h0m.1-114.9h0m0 70.1h0m0 170.6h0m0-96.3h0m.1 30.3h0m11.2-115.9h0m0-64.4h0m.1 127.1h0m.1-47.4h0m0 70.3h0m.2-8.3h0m.1-114.8h0m.1 24.4h0m0 129h0m0-66h0m.1-16.3h0m5.3 10.6h0m3.5-32.9h0m.1 44.8h0m2.7 104.6h0m5.8-127.1h0m.2 61.1h0m.1-110.9h0m15.5-44.6h0m2.7 146h0m20.6-89.7h0m3.8 53.1h0m11.2 67.3h0m11-180.4h0m.3 129.4h0m.4-61.5h0m3.9 56.7h0m7.9-55.4h0m.3-47.2h0m.3 113.3h0m10.2-179.4h0m19.8 75.3h0m24.5 97.4h0m16.1 33h0m46.5-49h0m18.3-64.1h0m33.1 82.4h0m7.6-12.4h0m121.1 31.2h0"/><path id="AT8" d="M129.8 569.5h0m11.4-25.8h0m23.9-23.1h0m11.6 25.3h0m12.5 60h0m11.4 3.7h0m11.7 25.9h0m25.1-32.6h0m10.4 9.3h0m23-100.5h0m.5-108.1h0m18.8 94.1h0m29.2 145.4h0m23.9 28.8h0m.2-45.7h0m.1 58.1h0m.1-107h0m0 34.4h0m.1-67.7h0m0 103.6h0m.1-53.1h0m0 41.7h0m.2-50.1h0m.2 73.3h0m4.2-64.9h0m.2 48.6h0m.2 38.6h0m.5-66h0m.5-66h0m5.3-21.2h0m.4 66h0m.7-25h0m.3-79.7h0m0 17.4h0m.2 42.5h0m.1 66h0m5-21.2h0m5.4-56h0m0 66h0m5.7-54.8h0m5.5-21.2h0m.6 100h0m.1-43.1h0m6.2-8.3h0m4.5 38.6h0m.1-21.2h0m.1-17.4h0m.2 8.3h0m1-32.1h0m.1 89.8h0m.1-118.2h0m0 79.6h0m11.3 11.2h0m.2-53.2h0m.3-64.7h0m7.7 106.7h0m.5-71.1h0m7.2 5.1h0m.1 56h0m8.1 87.2h0m.8-96.3h0m.1 57.7h0m.2-27.4h0m0-59.8h0m.1 48.6h0m0-66h0m.2-23.4h0m0 54.4h0m.1-36.1h0m10.6 109.7h0m5.9-57.7h0m5.4-35.7h0m5.8 132h0m2.3-21.2h0m.1-44.8h0m0-21.2h0m.3-32h0m.2 22.9h0m.2-8.3h0m3.5 17.4h0m0 66h0m8.9-66h0m.6-56h0m2 104.6h0m10.6-104.6h0m0 77.2h0m.1-59.8h0m.3 38.6h0m.9 34h0m11.5-12.8h0m.1-59.8h0m.2 29.5h0m.1-66h0m.2 30.3h0m5.8 54.8h0m5.5 38.6h0m1.1-66h0m.2-57.7h0m.5-16h0m.1 40.6h0m4.4-44.2h0m5.8 28.7h0m.1 48.6h0m.1-27.4h0m.2-46.3h0m0 101.1h0m.2-35h0m11 0h0m.1 91h0m.5-153.3h0m11.1-13.5h0m.1 18.3h0m.1-40.8h0m0 114.2h0m.3 96.3h0m0-53.2h0m.2-24h0m.2-54.8h0m0-21.2h0m11.2-25.1h0m0 82h0m6.3-41.4h0m5.5-57.3h0m.1 57.3h0m.2 50.5h0m6.3 66h0m5.4 0h0m1-98h0m.1 42h0m.1-66h0m.1 56h0m0-25h0m.2-25.5h0m.2-32.9h0m4.2 149.4h0m5.9-122h0m0-60.6h0m.2 84.6h0m.3 98h0m.1-157.1h0m11.2 157.1h0m0 21.2h0m0-77.2h0m.1-80.7h0m0-72.7h0m.3 177.4h0m0-132.1h0m.1 37h0m0 52h0m.1-104.7h0m0 26.5h0m0 55.3h0m0 32h0m0-44.8h0m5.6-84.9h0m5.6 63.7h0m.1 56.9h0m0 57.7h0m.1-87.2h0m.1-80.8h0m.1-30.2h0m0 58.5h0m11.8-56.5h0m.1 72.5h0m0 50.1h0m6.2 73.6h0m5.2-109.7h0m0 52h0m0-22.9h0m.3-55.3h0m0 121.3h0m.1-144.9h0m.1 110.9h0m9.1-110.9h0m.1 54.9h0m.1-27.4h0m.3 66h0m2.3 83.4h0m4.5-98h0m0-47.4h0m1.3 54.4h0m5.6 35h0m0-35h0m.1-126.6h0m.1 151.6h0m0-83.4h0m0 17.4h0m0-73.1h0m.1 83.1h0m.1-57.8h0m0-8.3h0m.1 156.1h0m0 32h0m0-167.5h0m0 62.9h0m.1 59.8h0m0-30.3h0m0 96.3h0m11.2-195h0m0 98.7h0m.1-85.6h0m.1 62.7h0m0-29.1h0m.1 16.3h0m.1-114.3h0m.1 193.1h0m0-51.4h0m.2-57.7h0m.1-54.6h0m5 104.7h0m4.3-7h0m0-47.4h0m2.2 145.4h0m5.8-176.9h0m.2 54.9h0m.1 56h0m15.5-154h0m3 154.9h0m21.1-88h0m3.1 66.5h0m10.8 54.6h0m11.8-63.4h0m0-60.2h0m.3-68.1h0m3.4 178.9h0m8.3-45.1h0m.2-64.7h0m.8-47.9h0m10.3-50.7h0m19.3 64.3h0m27.9 107.9h0m12.6 30.1h0m47-59.4h0m18-59.2h0m33.5 75.8h0m7.6-10.6h0m120.7 85.8h0"/><path id="AT9" d="M129.7 573.1h0m11.9-19.8h0m23.9-25.9h0m11.5 18.5h0m12.4 64.3h0m11.6 2.5h0m11.1 33.1h0m25.2-39.6h0m10.3 11.1h0m23.2-103.7h0m.1-104.3h0m19.6 171.6h0m29.2 62.2h0m23.6-30.7h0m.1 35.3h0m.1-103.7h0m.1 93.7h0m.1-41.8h0m.1 31.1h0m.1 57.7h0m0-9.7h0m.1-97.4h0m.1 9.2h0m.1 73.2h0m4.2-97.5h0m0 80.6h0m.1-48.6h0m0 87.2h0m1.5-66h0m5.2-66h0m.6 78.8h0m.1-34h0m.8-17.4h0m0-80.7h0m0 14.7h0m.4 17.4h0m4.3 66h0m5.8 10h0m.4-60.5h0m5.7 18.5h0m5.5-34h0m.4 114.6h0m.4-57.7h0m5.4 9.1h0m4.5 21.2h0m.2-38.6h0m.3 17.4h0m.1-9.1h0m.7 75.1h0m.4-107h0m0-27.6h0m.1 78.6h0m11.6 11.2h0m0-53.2h0m.2-55.3h0m8.1 31.3h0m.1 66h0m7-10h0m.3-56h0m7.7 143.2h0m.8-21.2h0m.4-91h0m.1 46.2h0m0-59.8h0m.1 48.6h0m.2-66h0m.2-19.1h0m0 14h0m.1 52h0m10.7 57.7h0m5.5-57.7h0m5.7-22.9h0m6.6 119.2h0m1.6-87.2h0m.2-32h0m0 22.9h0m0 30.3h0m.2-38.6h0m3.3 104.6h0m0-21.2h0m.5-66h0m9.4-56h0m0 56h0m2.5 66h0m10.1-66h0m.1-56h0m0 77.2h0m.2-59.8h0m1.3 87.2h0m11.4-57.7h0m.1 30.3h0m.2-59.8h0m.1-36.5h0m.3 36.5h0m5.7 59.8h0m5.9 27.4h0m.7-94.4h0m0-24.9h0m.1-20.4h0m.1 73.7h0m4.7-62h0m5.9 34.6h0m0 66h0m.1-112.3h0m.1 73.7h0m.5-43.7h0m7.3-60.5h0m4 38.2h0m.1 149.4h0m.3-91h0m11.2-74.9h0m.2 121.1h0m.2-59.8h0m0-81.7h0m.1 37.9h0m0 73.3h0m.1 96.3h0m.1-153.2h0m0 100h0m12-43.1h0m0-82h0m5.3 46.3h0m6-5.7h0m.3-57.3h0m0 107.8h0m5.4 87.2h0m6.2 0h0m1-112.2h0m.1-31h0m.1 66h0m.2-93.4h0m0 83.4h0m.1-44.8h0m.1 27.4h0m4.6 104.6h0m5.4-143.2h0m.6 24h0m0-59.1h0m0-22.7h0m.1 179.8h0m11.3-66h0m0-44.8h0m0 35.7h0m0-78.2h0m0 97.3h0m.2-123.8h0m0-27.5h0m.1 85.3h0m0-14.7h0m0 157.9h0m.1-53.2h0m.1-66h0m0-66.1h0m0 164.1h0m5.6-182.6h0m5.7 78h0m.1-78h0m0-33h0m.1 88.5h0m.2 109.7h0m0-57.7h0m.2-78.2h0m11.2 12.2h0m.2 50.1h0m.1-122.6h0m6.2 213.6h0m5.5-153.3h0m.1 55.3h0m0 66h0m.2-43.1h0m.2-98.7h0m0 46.7h0m.1 61.1h0m8.7-56h0m.2-51.8h0m.1 90.4h0m0-66h0m2.3 149.4h0m4.7-145.4h0m.1 47.4h0m1.6 22.9h0m5.2-15.9h0m.2 46.2h0m0-172.8h0m0 151.6h0m0-9.1h0m0 19.1h0m.1-48.6h0m0-27.4h0m.1 153.2h0m0-188.7h0m.1 18.1h0m0-30.4h0m.1-25.3h0m0 205.1h0m0-122h0m.1-66.1h0m.1 156.1h0m11.1-43.1h0m.1 43.1h0m0-109.1h0m.1-19.6h0m.2-32.6h0m0-29.9h0m0 112.4h0m.1 27.4h0m.1-43.7h0m.1 29.1h0m0-75.8h0m5.3 129h0m3.6-100.6h0m.5 47.4h0m1.8 98h0m5.9-56h0m.2-66h0m.2-51.8h0m12.5-44.6h0m6.1 155.3h0m21.4-82.3h0m2.1 67.3h0m11.6 60.7h0m11.6-136.3h0m.1-67h0m.1 129.2h0m3.9 59.5h0m8.4-166.5h0m0 44h0m.1 67h0m10.5-147.9h0m19.9 55.1h0m24.7 105h0m15.6 38.4h0m47-67.1h0m17.9 4.1h0m33 9.5h0m7.8-8.8h0"/><path id="AT10" d="M129.7 642.7h0m11.9-77.2h0m23.9-35.7h0m11.3 17.3h0m12.3 81.3h0m12.1-13.2h0m12 38.2h0m24.3-44.1h0m10.5 9.6h0m22.9-102.9h0m.2-105.3h0m25 187.3h0m23.1 62.5h0m24-12.3h0m.2 12.3h0m0-110.8h0m.1 37.5h0m.1 87.9h0m0-77.8h0m.1 42.5h0m.1-12.8h0m.1 57.9h0m0-70.6h0m.2-36h0m3.9-15.8h0m.1 53.2h0m0 66h0m.1-87.2h0m.3 48.6h0m6.9-14.6h0m.5-34h0m.6-98.1h0m.1 53.3h0m.2 27.4h0m0-43.7h0m.2-22.3h0m4.2 93.4h0m6.1-54.8h0m.2 54.8h0m5.7-10h0m4.9-61.1h0m.8 109.7h0m.4-57.7h0m5.5 9.1h0m5-17.4h0m.1 17.4h0m.2-9.1h0m.6-30.6h0m.3 49.7h0m.3-95.2h0m.2 16.7h0m0 134.5h0m11.3-153.3h0m.5 121.3h0m.1-66h0m7.7 42h0m.3-66h0m7.1 5.5h0m.1 50.5h0m8.4 66h0m.6-141.1h0m0 19.1h0m0 46.9h0m.1-52h0m.1 148.3h0m.1-77.2h0m.2-48.6h0m.1 59.8h0m0-46.2h0m10.7 91h0m4.6-66h0m6.8-32h0m5.9 119.2h0m2.2-87.2h0m.2-32h0m.2 22.9h0m0 96.3h0m0-66h0m.1-38.6h0m3.3 83.4h0m.2-66h0m9.1-56h0m.3 56h0m2.4 87.2h0m10.3-87.2h0m.5-56h0m.2 77.2h0m0-53.2h0m1 80.6h0m11.4-87.2h0m.1 59.8h0m0-96.3h0m.3 75.1h0m.1-38.6h0m5.5 59.8h0m5.9 27.4h0m.6-139.7h0m.5 46.3h0m.5-25.9h0m.2 61.6h0m4.8-8.3h0m4.5-70.3h0m.8 70.3h0m.3-27.4h0m.1 66h0m.1-82.3h0m5.3-40.4h0m5.9 18.1h0m0 66h0m.7 83.4h0m11.1-44.8h0m.1-119.3h0m0 132.1h0m0-100h0m.1-53.4h0m0 80.8h0m0 29.5h0m.2-72.7h0m.3 169h0m11.3-170.6h0m.1 74.3h0m5.9-35.7h0m5.7-5.7h0m.3 50.5h0m0-104.7h0m5.8 191.9h0m5.8-77.2h0m0 77.2h0m1.3-143.2h0m0 31h0m.2 25h0m0-83.4h0m.2 38.6h0m.1 27.4h0m4.2 104.6h0m6-119.2h0m.1 119.2h0m0-143.2h0m.3-57.8h0m.1 26.5h0m11.2 87.3h0m.1 34h0m0-90h0m0-83.1h0m.1 107.1h0m0 119.2h0m.1-174.5h0m0 153.3h0m0-136.7h0m.1-43.1h0m.1 123.8h0m.1-54.8h0m.1-53.3h0m0 89h0m5.7-98.7h0m5.5 98.7h0m.1-52h0m.1 109.7h0m0-87.2h0m.2-78h0m.3-24.7h0m0 54h0m11.1 12.2h0m.3 50.1h0m.2-104.7h0m11.4 120.6h0m.1-74.3h0m.1 22.3h0m.1 61.1h0m0-107.8h0m.1-43.8h0m0 200.2h0m.1-80.6h0m9.1-47.4h0m.4 62h0m.1-38.6h0m0-51.8h0m6.9 75.8h0m.3-43.1h0m.9-70.4h0m5.6 232.7h0m0-170.6h0m0-102.3h0m.1 87.6h0m0-51.5h0m.1 198.2h0m0-114.6h0m0 87.2h0m.1-11.2h0m.1-10h0m0 66h0m.1-104.6h0m0 13.6h0m.1-114.1h0m0 88.6h0m0 41.4h0m0-113h0m0 11.2h0m11.2 35.8h0m.1-19.6h0m0 49.9h0m0 27.4h0m.1-14.6h0m0-29.1h0m.2-66.2h0m0 19.5h0m.1 141.8h0m.1-191.2h0m0 148.1h0m5.9 30.3h0m3.1-100.6h0m.4 54.4h0m2.2 112.2h0m5.8-137.7h0m.3-54.2h0m6.1-22.4h0m9.3-22.7h0m6.1 58.7h0m15.2 14.8h0m5.6 71.5h0m11.6 70.8h0m11.1-217.4h0m.4 66.6h0m.1 65.8h0m3.5 53h0m8.3-120.9h0m.1-45.1h0m.8 114.1h0m10.5-126.9h0m19.3 32.8h0m24.6 108.4h0m15.8 38.1h0m46.8-50.3h0m18-4.1h0m33.9 9.5h0m7.2-16.5h0"/><path id="AT11" d="M129.9 649.4h0m11.5-72.1h0m23.9-33.2h0m11.5 3.7h0m12.5 100.1h0m11.8-32.2h0m18.3-124.2h0m18 134.4h0m10.8-2.9h0m22.8-201.5h0m.4 95.8h0m24.5 84.8h0m23.7 58.4h0m23.8-104.6h0m.2 104.6h0m.1-20.5h0m0-12.8h0m.1-12.8h0m0-15.6h0m0 76.3h0m0-87.3h0m.2 97.9h0m0-36.3h0m.2-70.5h0m4.3-16.4h0m0 119.2h0m.2-38.6h0m.1-48.6h0m.9 21.2h0m6-21.2h0m.9-17.4h0m.2-43.7h0m.1-37h0m0 14.7h0m.2 38.6h0m.1 78.8h0m4.5-12.8h0m5.5-11.2h0m.6-48.6h0m5.6 48.6h0m5.1-71.1h0m.4 109.7h0m.4-57.7h0m6.1 9.1h0m4.3 0h0m0-17.4h0m1-21h0m.3 48.4h0m.1-95.2h0m0 151.2h0m.3-75.1h0m.2-58.5h0m11.2 35.6h0m.2-55.3h0m.3 135.9h0m8-38.6h0m.1-66h0m7.2 11.2h0m0 44.8h0m8.1 34h0m.2 32h0m.6-56h0m0-66h0m.4 46.9h0m.1-52h0m.1-14h0m0 162.3h0m0-125.8h0m.1 13.6h0m14.7 25h0m.7-142.8h0m6.7 117.8h0m8 7.6h0m.6 8.3h0m0 96.3h0m.1-119.2h0m.1 32h0m2.8-92.2h0m0 126.2h0m.3-34h0m.3 87.2h0m9.6-143.2h0m1.7 56h0m6.3-92.2h0m4.8 60.2h0m0-24h0m.3 56h0m0 21.2h0m1 27.4h0m11.3-123.7h0m.2 36.5h0m.1 72.6h0m.1-34h0m.1-32h0m5.9 80.6h0m5.5 0h0m1.2-57.7h0m.1-78.2h0m.2 42.5h0m0-25.9h0m4.8 70.7h0m6-87.3h0m.1 69.9h0m0-43.7h0m.1 82.3h0m0-66h0m5.8-53.3h0m5.5 18.7h0m.2 62h0m.4 104.6h0m10.6-151.4h0m.7 98.2h0m.1-43.1h0m0 30.3h0m0 66h0m.1-125.8h0m.1-59.5h0m.2-21.1h0m.1 38.5h0m11.5 80.7h0m.2-79.4h0m5.6 62h0m5.8 17.4h0m.3-44.8h0m.2-59.9h0m11.6 191.9h0m.2-77.2h0m.2-142.2h0m.4 81.7h0m.3 25.5h0m0-19.8h0m.3-34.6h0m0 79.4h0m.1-17.4h0m9.9-38.6h0m.1-97.5h0m0 240.7h0m0-119.2h0m.2-51.4h0m.2-30.4h0m11.5 113.8h0m0 87.2h0m0-119.2h0m.1 98h0m.1-32h0m.1-24h0m.1-93.4h0m0-55.7h0m.1 68.4h0m.1 61.6h0m0-89h0m0 53.3h0m0-11.2h0m.1-54.9h0m5.1 12.8h0m6.1-43.2h0m0 80.2h0m.2-22.3h0m.1 74.3h0m0-104.7h0m.1 81.8h0m.1 80.6h0m11.3-119.3h0m.1-54h0m.2 99.7h0m11.5-7h0m.2-24h0m.2-93.6h0m0 140.5h0m0 9.1h0m.1-107.8h0m.1 156.4h0m.2-128h0m8.7 23.4h0m.1-23.4h0m.1-28.4h0m.1 90.4h0m7.1-126h0m.1 68.3h0m.4 50.1h0m6.4-54.4h0m.1-31.5h0m0-11.2h0m.1-27.5h0m0 198.2h0m0-114.6h0m0-70.8h0m.1 104.8h0m0-66.1h0m.1 73.1h0m.1 15.9h0m0-176.6h0m.1 195.7h0m0-60.5h0m0 137.7h0m.1-66h0m0-21.2h0m0 66h0m11.1-221.4h0m0 64.3h0m.2 59.1h0m0-12.8h0m.2 27.4h0m.1-43.7h0m0-14h0m0 66h0m0-118.2h0m.1 22.6h0m0 138.7h0m5.9-12.8h0m3-96.3h0m.2 50.1h0m2.4 112.2h0m5.7-137.7h0m.2-54.2h0m7.3 2.4h0m5.3-31.4h0m9.3 75.3h0m18-9.3h0m2.5 84.5h0m12.1 70.4h0m10.7-171.9h0m.3-66.3h0m.1 132.1h0m6.8 67.5h0m5.1-177.8h0m.2 44.8h0m.7 70.3h0m10.6-130h0m19.6 56.5h0m24.1 87.6h0m16.2 49.5h0m46.7-64.8h0m24-76.6h0m27.7 87.2h0m7.1 1.4h0"/><path id="AT12" d="M130.3 412.3h0m11.9 114.1h0m23.5 18.4h0m10.9 11.8h0m18.4-8.3h0m6.4 76.4h0m18.1-99.4h0m17.9 127.6h0m10.9-20.9h0m22.9-206.1h0m1.1 133.5h0m23.5 61.4h0m23.5 60.9h0m23.9-101.9h0m0 69.8h0m.3 10.9h0m.1-45.7h0m.1-15.6h0m.1 41.2h0m.1-11.9h0m.1-72.6h0m0 119.9h0m0-87.7h0m0 97.9h0m4.2-91.5h0m.2 34h0m0-59h0m0 73.6h0m.3 38.6h0m6.7-87.2h0m.5 48.6h0m.3-146.7h0m.2 37h0m.4 43.7h0m.2-27.4h0m.1-38.6h0m4.1 117.4h0m5.9-72.6h0m.4 59.8h0m5.4-11.2h0m5.5-71.1h0m.7 52h0m.2 57.7h0m5.6-48.6h0m4.7-17.4h0m.3 17.4h0m.3-66h0m.5 132h0m.1-56h0m.5-47.1h0m0 28h0m.1-75.3h0m11.3 67h0m.2 66h0m.4-132h0m8 32.9h0m0 71.7h0m7.2-66h0m.2 66h0m8.1 44.8h0m.3-32h0m.4 53.2h0m0-148.3h0m.5 71.1h0m.2-27.4h0m0-57.7h0m0 36.5h0m0-17.4h0m.1 46.9h0m15 9.1h0m1.8-119.3h0m5.6 94.3h0m7.6 0h0m.2 7.6h0m.3 8.3h0m0 96.3h0m3-178.3h0m.1 125.1h0m.1-34h0m.1 87.2h0m0-77.2h0m9.4-60.5h0m2.5 50.5h0m4.5-83h0m6 27h0m.2 56h0m.1 21.2h0m.2-53.2h0m1.3 80.6h0m11.2-119.3h0m.1 104.7h0m.1-34h0m.2-38.6h0m.3 6.6h0m5.3 119.2h0m6-38.6h0m1-87.2h0m.2-48.7h0m.4 78.2h0m.2-61.6h0m4.6 70.7h0m5.3 34h0m0-43.1h0m.2-52h0m.2-26.2h0m.2 42.5h0m7.3-3h0m4-31.6h0m.3 62h0m8.3-134.6h0m3.3 37.1h0m0 136.1h0m.3-82.3h0m.1 29.1h0m.1 119.2h0m0-96.3h0m0-71.2h0m.1-17.8h0m0 132.1h0m11.4-100h0m.4 66h0m6.1-9.1h0m5.3-35.7h0m.1 54.8h0m.4-108.1h0m11.2 185.3h0m.4-77.2h0m1-35h0m0-25.5h0m0-63.3h0m.2 69h0m0 27.4h0m0 27.4h0m.4-89.4h0m9.9-31.5h0m.1 198.1h0m0-112.2h0m0-58.4h0m.2 27.4h0m.2-93.6h0m11.4 215.6h0m0-136.7h0m0-12.7h0m.1 74.3h0m.1-35.7h0m.1 44.8h0m0 10h0m0-108.1h0m.1-12.8h0m0 159.5h0m.1-80.6h0m0 119.2h0m.1-143.2h0m0-83.1h0m5.9 41h0m5.3 146.7h0m.4-57.7h0m.1-52h0m.1-78h0m0 107.1h0m.1-51.4h0m0-30.4h0m11.5 96.4h0m.1-48.6h0m.1-58.7h0m11.3 68.7h0m.2 46.9h0m0-136.4h0m.2 194.1h0m0-48.6h0m.1-79.4h0m.2 47.4h0m0-75.8h0m8.8 51.8h0m.4 38.6h0m.2-62h0m0-25.3h0m6.9 79.7h0m.1-45.7h0m.2-72.7h0m6.3 164.6h0m.1-206.9h0m.1 185.7h0m.1-110.9h0m0-8.5h0m0 21.3h0m.1 108.1h0m0-42h0m.1-29.1h0m0-88.5h0m0 140.5h0m.1-15.9h0m0-109.5h0m.1 84h0m0-28.9h0m0 128h0m.1 38.6h0m.1-21.2h0m11.2-66h0m0-127.3h0m.1 118.2h0m.2 57.7h0m.1-202.1h0m.1 78.4h0m0 43.1h0m0-12.8h0m.1-46.3h0m0 30h0m0-43.6h0m5.4 138.7h0m3.6-109.1h0m.3 57.7h0m7.8-27.4h0m.2-114.3h0m0 57.6h0m7.1 2h0m5.5-11.7h0m18.7 14.7h0m5.7 33.1h0m5.7 83.8h0m11.9 66.8h0m10.5-101.5h0m.1-135.8h0m.5 66.6h0m9.7-54.9h0m2.4 124.9h0m.2-67.2h0m.1-45.7h0m17.7 95.3h0m12.7-45.7h0m24.2 81h0m16 46.5h0m47.6-59.4h0m23.5-39.7h0m27.4 49.2h0m7.6-1.4h0"/><path id="AT13" d="M130.4 481.6h0m11.7 55.8h0m23.1 7.6h0m11.8 16.8h0m18.4 126.1h0m5.6-62.3h0m17.8-53.5h0m18.6 88.4h0m10.6-24.7h0m23-201.3h0m.8 129.5h0m24.5 57.4h0m23.4 60.3h0m23.5-32.1h0m.1-69.4h0m.1 35.5h0m.2 44.8h0m0-19.2h0m.2 45h0m0-57.8h0m.1-29.1h0m0-36.9h0m.2 116.1h0m.1-90.4h0m3.8 54.9h0m.1-48.6h0m.1 87.2h0m.1-53.2h0m.1-59h0m6.9 73.6h0m.2-48.6h0m.2-17.4h0m.7-27.4h0m.2-16.3h0m.3-22.3h0m.2-11.3h0m3.9 128.7h0m6.3-66h0m.3 53.2h0m5.8 0h0m4.7-77.2h0m.8 104.6h0m.7-57.7h0m5.3 30.3h0m4.8-21.2h0m.1-17.4h0m.9-48.4h0m.2 30h0m.4 26.7h0m.1-74.9h0m.1 150h0m0-56h0m11.1-27.4h0m.3 66h0m.1-132h0m8.3 32.9h0m.2 71.7h0m7.2-59.8h0m1.7 72.6h0m6.5 0h0m.1 32h0m.6-116.5h0m.1 11.9h0m.1 125.8h0m0-96.3h0m.1 19.1h0m0-85.1h0m.1 14h0m.2 43.7h0m15.2 17.4h0m1.5-83.4h0m5.9 66h0m7.5-7.6h0m.1 7.6h0m.5 27.4h0m0-85.1h0m.2 162.3h0m0-96.3h0m2.9 43.1h0m.1 53.2h0m.5-77.2h0m8.8-60.5h0m2.6 50.5h0m6.2-70.7h0m4.3 14.7h0m.4 24h0m.3 32h0m.5 21.2h0m.4 27.4h0m11.4-48.6h0m.1-70.7h0m0 38.7h0m.3 66h0m.3-59h0m11.5 91h0m.1-149.4h0m1.3 12.7h0m.2-16.6h0m0 78.2h0m0-29.5h0m4.7 38.6h0m5.6-38.6h0m0 72.6h0m.1-121.3h0m.1 26.2h0m0 52h0m5.5 0h0m6.2-8.3h0m.1-57.7h0m5.7-8.3h0m5.7 74.3h0m0-88.6h0m0 184.9h0m0-200.2h0m.2 147h0m0-66h0m.1-29.1h0m.3 82.3h0m.1-100.6h0m11.1 23.4h0m.1 56h0m6-9.1h0m5.9-85.6h0m0 104.7h0m.5-54.8h0m11.3 132h0m.5-77.2h0m.6-27.4h0m.2-93.5h0m.1 60.4h0m0-28.9h0m.1 40.8h0m0 21.2h0m.1 27.4h0m10.4-155.5h0m0 95h0m.3-60.4h0m.1 85.9h0m0-58.4h0m6.1-64.2h0m5.1 234.8h0m0-143.2h0m.1 24h0m.1-107.1h0m.1 55.7h0m.1-14.7h0m0 164.1h0m.1-176.9h0m0 159.5h0m.2-57.7h0m.1 19.1h0m0-48.6h0m0 38.6h0m0-70.7h0m5.6-20.4h0m5.6 82h0m.1-127.7h0m.1 104.8h0m0 80.6h0m.1-162.4h0m0 34.4h0m.3 18.3h0m11.3-4.9h0m.1-50.6h0m.4 107.5h0m11.2-22.9h0m.2-47.4h0m0 70.3h0m0 9.1h0m0 48.6h0m0-104.6h0m.4-48.7h0m.1-40.8h0m6.1 136.4h0m2.8-70.3h0m.5-25.3h0m0 48.7h0m6.9 31h0m.1-116.3h0m1 70.6h0m5.6 136.7h0m0-176.9h0m0-8.5h0m.1 58.3h0m.2 36.1h0m0 112.2h0m.1-96.3h0m0-125.4h0m0 39.8h0m0 115.9h0m0-206.9h0m0 153.7h0m.1 32h0m.1-50.5h0m0 60.5h0m0-89.4h0m.1 128h0m.1-198.2h0m11.1-2h0m.2 142.5h0m.1-82h0m0 59.1h0m0-29.1h0m0-66.2h0m.1 52.2h0m.1 123.7h0m.1-93.4h0m0-59.9h0m.1 104.7h0m5.4 66h0m3.9-83.4h0m.2-53.3h0m7.7-84.7h0m.2 57.3h0m.2 59.5h0m6.7-39.7h0m9.2-30.9h0m14.7 14.4h0m6.4 34.7h0m5.9 96h0m10.7 51.3h0m11.4-230h0m.4 129.4h0m.3-69.1h0m10.3-22.7h0m1.4 25.8h0m.1-46.9h0m.1 112.9h0m17.3-16.1h0m13.2-39.7h0m24.4 77.2h0m16.1 59.7h0m47.6-47.5h0m22.8-66.9h0m27.4 48.1h0m7.8-1.8h0"/><path id="AT14" d="M130.3 565.4h0m12.2-16h0m22.9 1.4h0m11.3 12.2h0m24.6-51.4h0m.1 115.2h0m18.1 1.7h0m17.9 53.6h0m11.1-39h0m22.3-204.5h0m1 127.1h0m24.8 77.4h0m22.4 38.6h0m24.1-92.8h0m.2 53.3h0m0 36.5h0m0-63h0m.1 71.6h0m.1-26.8h0m.1-32h0m.1-48.2h0m0 69.4h0m0-49.4h0m.1-37.8h0m4.1 80.6h0m0 38.6h0m.1-77.2h0m0 24h0m.5-59h0m7.3 73.6h0m0-66h0m.8-66h0m0 83.4h0m0-61.1h0m0 16.3h0m.5-49.9h0m4.1 143.3h0m6.3-27.4h0m.1-46.2h0m6 73.6h0m4.8-104.6h0m.5 46.9h0m.3 57.7h0m6.2-14.6h0m4.2-51.4h0m.3 27.4h0m1.1-74h0m0 130h0m.1-75.1h0m.2-24.8h0m.2 43.9h0m.1-91.8h0m11.2 147.8h0m.2-145.4h0m.1 62h0m8.5-33.1h0m3.6-54.3h0m3.4 66.2h0m1.8 87.2h0m6.4-14.6h0m.7-51.4h0m.1-43.7h0m.1 71.1h0m.1 56h0m0-66h0m.1-50.5h0m.2 137.7h0m.1-162.3h0m.1 36.5h0m14.9 38.6h0m1.1-61.1h0m6.5 43.7h0m7.6 0h0m0 104.6h0m.1-157.9h0m.3 45.7h0m.1 15.9h0m0 19.1h0m.2 24h0m3.5 53.2h0m0-77.2h0m9.1-54.8h0m.4 54.8h0m8.4-35h0m4-7h0m.5 32h0m.6-56h0m.2 77.2h0m.6 44.8h0m11.2-98h0m.1 42h0m.1 38.6h0m.2-114.6h0m0 41h0m11.5 91h0m.2-116.5h0m1 41.4h0m.2-61.6h0m.1 32.1h0m.3-48.7h0m4.6 135.9h0m5.5-14.6h0m.2-117.4h0m.1 74.3h0m0-29.5h0m.2-17.4h0m5.2 46.9h0m6.5-8.3h0m.1-53.3h0m5.9 14.7h0m4.6-55.8h0m.9 145.8h0m.2-66h0m0 53.2h0m.1-82.3h0m0-36.6h0m0 18.3h0m.2 79.4h0m.1 87.2h0m11.4-87.2h0m.2-56h0m6.1 46.9h0m5.3-82h0m.1 46.3h0m.4 54.8h0m11.8 0h0m.7-117.8h0m.2 90.4h0m0-33.1h0m.1 33.1h0m.1-109.9h0m0 137.3h0m.2-48.6h0m.1-36.5h0m10.1-4.3h0m.2 54.4h0m.1-118.4h0m.3 32.5h0m0 60.4h0m5.8-20.2h0m5.4 136.7h0m0-164.1h0m0 59.5h0m0-72.3h0m0 159.5h0m.1-104.6h0m0-80.8h0m.1 224h0m.1-119.2h0m0-38.7h0m.2-12.7h0m0 104.6h0m0-21.2h0m.1-9.1h0m5.4-15.9h0m5.9-7h0m.1-104.8h0m0 127.7h0m0-70.3h0m.3 18.3h0m0-52.7h0m.2 179.8h0m11.1-75.1h0m.1-56.9h0m.7-47.8h0m11.3 179.8h0m0-66h0m0-56h0m0 31h0m.1-54.4h0m0-22.1h0m.3 92.4h0m.1-134.3h0m5.7 134.3h0m3.3-95.6h0m.4 25.3h0m.1 23.4h0m6.5-10h0m.3-73.1h0m.3 114.1h0m6.5-36.1h0m0-18.3h0m0-55.1h0m0 15.1h0m.1-59.2h0m0 169.5h0m0-85.6h0m.1 128.7h0m0-84.5h0m0 25.5h0m.1 112.2h0m.1-38.6h0m0-198.2h0m0 41.8h0m.1 117.8h0m0-42h0m0 32h0m.2 66h0m11.1-66h0m.4-151.6h0m0 46.9h0m0 72.7h0m0-12.8h0m0-46.3h0m0 139.7h0m.1-57.7h0m.1-115.6h0m.1 49.6h0m0 14h0m5.7 148.3h0m3.2-157.9h0m.1 61.6h0m8.3-140.5h0m.1 111h0m.3-59.5h0m6.2 42.4h0m9.3-50.4h0m14.6 15.6h0m9.3 33.1h0m8.5-26.8h0m12.1-9.2h0m4.7-46h0m.5 62.3h0m.5 63.8h0m9.4-80.5h0m2.5 16.6h0m.1-48h0m.3 113.1h0m17.5-13.2h0m12.4-36.6h0m27.6 103.3h0m36.7-169.9h0m24 149h0m35.6-30h0m14.8 14.7h0m7.6 21.6h0"/><path id="AT15" d="M130 574.7h0m12.4 84h0m22.8-103.1h0m11.4 9.7h0m24.2-47.7h0m.1 116.4h0m18.3 47h0m24-155.6h0m17.1 21.1h0m11-101.9h0m.6 121.2h0m30 8.1h0m23.8-32.2h0m17.6 137.3h0m.1-36.5h0m0-62.1h0m.2 21.9h0m0 58.2h0m.1-98h0m.1 126.4h0m.1-73.2h0m0 12.8h0m.1-39.6h0m.1 64.7h0m3.6-10.5h0m.4 38.6h0m.2-53.2h0m0-59h0m.3 35h0m6.8-71.1h0m.9 109.7h0m.1-66h0m.2 17.4h0m.1-83.4h0m0 44.8h0m.1-56.1h0m4.8 143.3h0m5.9-73.6h0m0 46.2h0m5.9 66h0m4.7-143.2h0m.1 56h0m1.1 48.6h0m5.7 0h0m4.8-66h0m0 27.4h0m1-72.3h0m0 53.2h0m.6 75.1h0m0-56h0m.1-42.7h0m0-47.8h0m11.1 71.4h0m.4 96.3h0m.2-166.6h0m8.4 28.9h0m2.9 0h0m3.7 18.5h0m2.4 80.6h0m6.5-14.6h0m.5-84.5h0m0-10.6h0m.1 43.7h0m.1-21.2h0m.1 48.6h0m0-85.1h0m.1 75.1h0m.1 66h0m.2 21.2h0m14.8-143.2h0m.2 56h0m6.8 0h0m8.3-70.7h0m.2 53.3h0m.3 104.6h0m.1-112.2h0m0 35h0m.2 24h0m2.8-43.1h0m.4 19.1h0m6.2-27.4h0m3.3-27.4h0m.2 54.8h0m7.5-10h0m4.9-50.5h0m.2 25.5h0m.4 25h0m.6 34h0m.7 32h0m11.1-132h0m0 34h0m.2 80.6h0m.3-38.6h0m0-19.1h0m11.4 96.3h0m.6-96.3h0m.6 0h0m.2-29.5h0m.1-32.1h0m.2-16.6h0m4.7 174.5h0m5.5-53.2h0m.1-72.6h0m.2 29.5h0m.3-74.3h0m.1 27.4h0m5.7 56h0m5.6-70.7h0m.3 61.6h0m5.7-46.9h0m5.5 77.2h0m.1-21.2h0m.1 87.2h0m0-166.6h0m.2 113.4h0m0-145.5h0m.1 13.8h0m.4 65.7h0m0-29.1h0m11.6 10.6h0m.2 50.5h0m5.7 0h0m5.7 48.6h0m0-87.2h0m.4-52.5h0m12 40.6h0m.1-54.2h0m.5 125.9h0m0-38.6h0m.3-107.3h0m0 86.1h0m0-36.5h0m.1 57.7h0m0 27.4h0m10.3-120.9h0m.1-32.5h0m0 64h0m.1 54.4h0m.2-25.5h0m5.7-10.6h0m5.7 148.3h0m0-112.2h0m0 46.2h0m.2 44.8h0m.1-104.6h0m0 87.2h0m.1-159.5h0m0 44.9h0m0 66h0m.1-56h0m0 46.9h0m0-89h0m0-36.4h0m.1 51.1h0m5.1 74.3h0m6-46.9h0m.4 24h0m.1 22.9h0m.1-125.4h0m.1 200.5h0m0-145.4h0m0-31.5h0m11.2 44.9h0m.1-44.9h0m.3 101.8h0m11.5 75.1h0m.1-167.5h0m0 92.4h0m0-130h0m.2 114.1h0m0-25.5h0m.1-24.6h0m0 75.1h0m5.8 0h0m3.6-75.1h0m.2-26.4h0m0 51h0m7 33.1h0m.2-112.3h0m0 63.7h0m6.5 41h0m0-109.5h0m0-36.4h0m.1 258.1h0m0-162.3h0m.1 141.1h0m0-17.4h0m0-109.7h0m0-33.6h0m.1 62.7h0m0 32h0m0 34h0m.1-84.5h0m.1 60.5h0m0-19.1h0m0-140.5h0m.1 30.2h0m0 11.6h0m11.2 16.7h0m0 46.3h0m.1 110.8h0m0-66h0m.1-56h0m.1 24h0m.2-43.1h0m.1 66h0m0-140.5h0m.1 44.9h0m0-20h0m5.2 211.9h0m4.3-87.2h0m0-70.7h0m8-76.9h0m.2 60.3h0m0 55.3h0m6.2 14.1h0m9.3-83.2h0m15 12.5h0m9.1 34h0m8.4-5.8h0m9.7 3h0m7-81.9h0m.4 64.4h0m1.3 63h0m9.1-79.9h0m2 16.3h0m.4-49.2h0m.1 113h0m20.1-154h0m10 108.6h0m24.5 101.7h0m39.6-146.1h0m23.8 136.1h0m50.8-149.3h0m.2 121.9h0m8.9 20.3h0"/><path id="AT16" d="M130.3 626.9h0m17.6 32.2h0m17.7-88.1h0m11.3-4h0m23.9-37.4h0m.5 107.2h0m23.4-166.8h0m17.7 204.4h0m18.7-94.9h0m10.2-129.6h0m.5 116.3h0m35.7-84.5h0m18.4 134h0m17.4-49h0m.1 113.4h0m.1 9h0m0-99.5h0m.1 26.1h0m0 26.8h0m.1-40.1h0m.1 51.4h0m0-73.2h0m.2 47.9h0m.1 34.1h0m4-93.1h0m0 91h0m.3-56h0m.1 77.2h0m.1-53.2h0m7.2 32h0m.4-66h0m.3-56h0m.1 17.4h0m.1 21.2h0m.1-66h0m.3-11.3h0m4.4 160.7h0m5.8-44.8h0m.1-38.6h0m6.6-52.6h0m4.1 70h0m.3-50.5h0m.5 116.5h0m6.3 33.9h0m4.7-109h0m.1 19.1h0m.8-71.6h0m.2-18.8h0m.2 71.3h0m.1 96.3h0m.3-77.2h0m0-42.1h0m11.4-47.3h0m.3 70.3h0m6.2-147.7h0m2.1 106.3h0m3.5 11.9h0m3.1 6.6h0m2.5 119.2h0m5.8-53.2h0m.2-109.1h0m.2 36.5h0m.7 38.6h0m.1 66h0m0-116.5h0m.2 33.1h0m0-43.7h0m0 148.3h0m.1-77.2h0m15.5-60.5h0m0 60.5h0m6.6-10h0m8.5-70.7h0m0 157.9h0m0-112.2h0m.1 7.6h0m.1 27.4h0m.1 24h0m3.1-43.1h0m.4 30.3h0m6.2-21.2h0m2.8-38.6h0m.5 48.6h0m8.3 24h0m4.3-59h0m.4 25h0m.2-50.5h0m.9 84.5h0m0 32h0m11.5-17.4h0m0-114.6h0m0 76h0m.3-42h0m.3 32h0m11.7 87.2h0m.1-96.3h0m.9-61.6h0m.1 61.6h0m0-78.2h0m.4 48.7h0m4.6 125.8h0m5.3-96.3h0m0-29.5h0m.1-17.4h0m.3 90h0m.2-117.4h0m5.8 104.6h0m5.8-30.3h0m0-52h0m5.9 10.6h0m5.6 71.7h0m.1-21.2h0m0-32h0m0-79.1h0m.1 55.1h0m.4 90h0m.1-130.3h0m.1 17.9h0m3.5-73.7h0m7.9 162.1h0m.2-60.5h0m6.1 71.7h0m5.3-112.3h0m.4 52.5h0m.2 87.2h0m11.6-27.4h0m.8-122.7h0m.2 84.1h0m.1-27.4h0m.2-25.9h0m0 53.3h0m.1-21.2h0m0 48.6h0m.1-123.8h0m10.1-27.5h0m.1 90.8h0m0-28.9h0m.1 54.4h0m.2-82.8h0m5.8 98.7h0m5.5-56.9h0m.2 27.4h0m0-59.5h0m0 42.1h0m0 143.2h0m.1-87.2h0m0 48.6h0m.1 17.4h0m.1-75.1h0m0-15.9h0m.1-82.8h0m0 28.4h0m.1-50.3h0m.1 150.9h0m5.6-11.2h0m5.6 56h0m0-98h0m.1-78.9h0m0 31.5h0m.1 70.3h0m0-123.1h0m.2 76.2h0m11.5 0h0m0 56h0m.2-107.8h0m11.6 32.7h0m.1 141.1h0m.1-75.1h0m.1-41.4h0m0 25.5h0m.2-76.5h0m.1-37.6h0m.1 139.1h0m5.6 87.2h0m3.3-137.7h0m.2-51h0m.3 26.4h0m6.6 57.7h0m.4-109.9h0m.1 61.3h0m6.4 132h0m0 21.2h0m0-234.8h0m.3 72.5h0m0 66h0m0 57.7h0m.1-168h0m0 68.9h0m.1 25.5h0m0 46.2h0m0-82.3h0m0-33.6h0m0 62.7h0m0-138.9h0m.1 63.1h0m0-26.7h0m.1 144.5h0m0 24h0m11.2-138.7h0m0 29.6h0m.1 75.1h0m.1-44.8h0m0-77.3h0m.2-27.5h0m0 93.6h0m.1 122h0m0-153.3h0m.1 78.2h0m0-15.9h0m5.6 124.9h0m3.6-99.9h0m.3-70.7h0m7.9-16.6h0m0-56.1h0m.5 111.4h0m6.5 19.4h0m8.6-87.1h0m15.2 43.3h0m9.2 9.5h0m8.3-9.6h0m9.4 58h0m7.6-135.4h0m.5 123.5h0m.1-61.7h0m9.6 2.1h0m2.6-53.8h0m.2 112.5h0m.2-61.1h0m19.9-91.3h0m10.4 32h0m39.8 54.4h0m24-15.2h0m23.6 133.5h0m51-33.7h0m.1-117.2h0m34.6-22.8h0"/><path id="AT17" d="M130.2 650.9h0m17.7 9.6h0m17.4-62.7h0m11.2-19.9h0m24.4 59.3h0m.2-107.5h0m24.3-20h0m22.8 53.9h0m12.3 21.8h0m10.3-134.6h0m1.4 124.7h0m35.7-86.7h0m18 129.5h0m17.3-37.2h0m0 22.1h0m.3 25.3h0m.1 52.7h0m0-27.4h0m.3-38.1h0m.1-48.2h0m.2 22.6h0m0 52.9h0m0 47h0m0-27.2h0m3.6-93.3h0m.6 112.2h0m0-77.2h0m.2 56h0m1.2-32h0m5.9 32h0m1-56h0m0-48.6h0m.1 21.2h0m.1-77.3h0m0 11.3h0m.1 27.4h0m4.1 122h0m6.6-44.8h0m.1-38.6h0m10.1-48.6h0m1.4 132h0m.1-116.5h0m.1 50.5h0m5.5 99.9h0m4.5-109h0m.3 19.1h0m.4 11.2h0m.1-21.2h0m.5-32h0m.1-47.5h0m.5 18.1h0m.1 148.6h0m11.3-166.6h0m0 70.3h0m5.9-85.6h0m2.9 49.9h0m3.5 35.7h0m3.1-22.9h0m8.2 66h0m.2-109.1h0m.9 24.6h0m.1 50.5h0m0-61.1h0m0 43.7h0m.3 83.4h0m.1-56h0m.1-42h0m1.8-134h0m2.3-12.9h0m11 188.9h0m1.6-60.5h0m5.7 50.5h0m8.1-70.7h0m0 80.7h0m0 38.6h0m.2-48.6h0m.2-17.4h0m0-7.6h0m.2 112.2h0m3.4-66h0m5.2-21.2h0m4 10h0m.5-47.7h0m8 86.3h0m4.3-73.6h0m.3-25.5h0m.9 50.5h0m.1 48.6h0m.4 17.4h0m11.2 0h0m.3-127.1h0m.2 71.1h0m0-42h0m0 32h0m11.6-9.1h0m1 0h0m.2-78.2h0m.3 16.6h0m0 38.7h0m.1-81.8h0m10.1 104.7h0m0-46.9h0m.1 90h0m0-117.4h0m.4-27.5h0m.2 72.3h0m5.6 72.6h0m5.6-95.1h0m.3 52h0m6.1-35.7h0m5.3-66.1h0m.1 78.9h0m.2-24h0m0-21.6h0m0 77.6h0m.2 34h0m.1-12.8h0m.3-117.3h0m5.2 21h0m3.5 32.1h0m2.4 53h0m5.8 38.6h0m6.2-87.2h0m.2 104.6h0m0-149.4h0m11.9 104.6h0m.8-119.3h0m.1 53.3h0m0 27.4h0m.2-21.2h0m.1-32.1h0m.1 53.3h0m.1-93.5h0m.1 120.9h0m10-89.4h0m0 28.9h0m.5-57.3h0m0-31.3h0m.1 114.1h0m5.7 15.9h0m5.6-56.9h0m.1 66h0m0-25h0m0-73.1h0m0-29.2h0m0 175.9h0m0-87.2h0m0-17.4h0m.1-23.4h0m.2-28.4h0m.1 129h0m0 66h0m.1-96.3h0m.1 75.1h0m5-44.8h0m6-46.2h0m0 112.2h0m.1-195h0m.2 51.8h0m0 46.9h0m.2-66h0m.1-57.1h0m11.4 24.4h0m.1 57.3h0m.2 50.5h0m11.4-44.8h0m.1 44.8h0m.2-101.5h0m.1-33h0m.2 125.4h0m0 75.1h0m.1-141.1h0m0 50.1h0m9.2-25.5h0m0-51h0m0 30.8h0m2.3-48.7h0m4.4-5.3h0m.1 63.6h0m.1 43.7h0m6.9 8.3h0m.1-15.9h0m0-82.8h0m0-8.8h0m.1-31h0m0 234.8h0m0-181.9h0m0-37.5h0m.1 153.4h0m0-96.3h0m0 14h0m0 95.1h0m.1-204.9h0m.1 219.5h0m.1 17.4h0m0-98h0m0-18.5h0m.1 60.5h0m11.3-132.1h0m.1 97.1h0m0-122.6h0m.2 213.6h0m0-122h0m0-31.3h0m.2 78.2h0m.1-92.4h0m0 62.9h0m0 38.6h0m.1-75.1h0m8.7 75.1h0m.3-66h0m.4-58.7h0m7.6 92.7h0m.4-47.4h0m.1-64h0m6.6 133.5h0m8.5-88.1h0m15.3 63.9h0m9.5-11.7h0m8.3-6h0m12.5-43.9h0m4.5 91h0m.4-129.1h0m.1 64.4h0m9.4 42.4h0m2.1-41.8h0m.2 67.1h0m.3-117.2h0m20.1-37.9h0m10.8 34.8h0m39.3 64.4h0m35.7-29.7h0m12.4 134h0m50.6-35.5h0m.2-108.3h0m34.9-17.4h0"/><path id="AT18" d="M130.4 651.6h0m17.3 13.8h0m18-56.9h0m11.1-26.5h0m24.3 56.4h0m.2-107.8h0m24.1-15.1h0m22.3 51.6h0m12.7 40.8h0m10.8-153.9h0m.9 142.6h0m35.5-100.1h0m21.7 14.6h0m13.8 70.3h0m.2 72.6h0m.2-62h0m.1 11.3h0m0 25.9h0m0 13.9h0m.2 19.9h0m.1-47.3h0m0-47.6h0m.2 113.1h0m.1 8.8h0m3.8-8.3h0m.4-21.2h0m.1-56h0m0 24h0m1.1-59h0m5.9 91h0m1.1-145.4h0m.1 70.3h0m.1 19.1h0m.1-48.6h0m.1-56.1h0m.1 38.7h0m4.6 122h0m5.3-44.8h0m.7-38.6h0m10.1-38.6h0m1.5 5.5h0m.1 50.5h0m.2 66h0m7.2-142.7h0m2.7 86.7h0m.1-19.1h0m.4 30.3h0m.2-46.2h0m.1 25h0m.6 87.2h0m.1-147.5h0m.2-17.2h0m11.8 6.8h0m.2 61.6h0m5.9-46.9h0m1.8 17.4h0m4.3 48.6h0m3.2-35h0m9.2 35h0m.2-71.1h0m.1-49.8h0m.1 93.5h0m0-14.6h0m.1 32h0m0 66h0m0-116.5h0m.1-20.2h0m.1 104.7h0m4.9-139.6h0m9.9 60.8h0m.3 54.8h0m7.2 0h0m8-76h0m0 66h0m0-25h0m0 35h0m.2-27.4h0m.1 66h0m3.1-27.4h0m3.7-155.5h0m2.2 134.3h0m3.6 10h0m.1-42h0m8.1 80.6h0m5-99.1h0m0 25.5h0m1 25h0m.1 87.2h0m.6 0h0m11.2-21.2h0m.1-56h0m.2-71.1h0m.1 36.1h0m.2 35h0m11.5-10h0m1-9.1h0m.1-104.7h0m0 47.8h0m.1 34h0m.4-51.4h0m10.1 44.8h0m.1-69.2h0m0 156.4h0m.2-128h0m0 79.4h0m.1-56h0m5.7 90h0m5.6-43.1h0m.7-52h0m5.7 16.3h0m5.4 44.8h0m0 34h0m.2-90h0m.2 77.2h0m.1-53.2h0m.1-45h0m0-33.9h0m.1 16.5h0m6.4 26.1h0m5.4 29.7h0m0 72.6h0m6 32h0m5.6-104.6h0m.3 125.8h0m0-170.6h0m11.7 104.6h0m.7-38.6h0m0-27.4h0m.2-53.3h0m.1 27.4h0m.1-40.2h0m.2 101.8h0m.1-29.5h0m4.1-66.1h0m6.2 54.2h0m.1-57.3h0m.1 82.8h0m.2-50.1h0m0-64h0m5.3 173.1h0m6-113.4h0m0-28.4h0m.2 82.8h0m0 15.9h0m0-29.5h0m.1 59.8h0m0-87.2h0m0 153.2h0m0-87.2h0m0 66h0m0-193.3h0m.2 71.3h0m0-42.1h0m.2 146.7h0m5.2-27.4h0m5.8-129h0m0 51.8h0m0 31h0m.2-50.1h0m.1 75.1h0m.1 87.2h0m.3-219.4h0m11.4 81.7h0m.3 50.5h0m.2-104.7h0m11.1 114.7h0m.2-35h0m0-109.5h0m.1 200.5h0m.1-75.1h0m0-66h0m.4-26.4h0m0 56.7h0m8.9-5.7h0m.2-15.5h0m.2-32.1h0m2-15.7h0m4.6-2.8h0m.3 55.5h0m.1 52h0m6.5 96.3h0m.1-66h0m0-96.3h0m0 85.1h0m.1 56h0m0-110.8h0m0-87.4h0m.1 15.6h0m0-51.1h0m.2 150.3h0m.2 66h0m0-109.7h0m0-33.6h0m.1 85.6h0m0-136.4h0m0 179.5h0m.1-66h0m0-75.8h0m11.2 107.8h0m.1-38.6h0m.1-17.4h0m.1 31h0m.1 91h0m0-75.1h0m.2-92.4h0m0 30.8h0m0-76.9h0m0 28.2h0m0 32.1h0m9.1 21.3h0m.4-56.1h0m1.6-14.7h0m6.3 57.4h0m.1-61.9h0m.1 116.3h0m6.4 18.9h0m6.6-72.1h0m17.5 75.8h0m9.2-43.4h0m8.5-3.3h0m12.8-3.4h0m4.6-15.1h0m.2-65.2h0m1 130.1h0m8.6 23.9h0m2.1-22.7h0m.5-109.8h0m.2 45.2h0m19.6-82.5h0m10.5 41.8h0m39.8 67.4h0m36-43.6h0m12.2 103.6h0m50.4 1.7h0m.4-105.9h0m34.3-16.7h0"/><path id="AT19" d="M130.2 681.7h0m23-167.3h0m12.6 134.4h0m11-44.1h0m24.4-72h0m.1 108.5h0m23.4-121.7h0m22.9 48.2h0m13.2 48.2h0m10.1-155.4h0m7.5 75.4h0m29.8-31.1h0m21.1 10.3h0m13.9 115.1h0m.1-38h0m.1 98h0m.1-86.9h0m.1-31.2h0m0 91h0m.1-81.5h0m.1 61.5h0m0-27.4h0m.1 65.6h0m0-26.7h0m3.8-26.1h0m.5-24h0m.1-27.4h0m.1 104.6h0m.3-21.2h0m6.8 0h0m1-56h0m0-42h0m.3-47.4h0m.1-15.3h0m.1 38.7h0m.1 46.9h0m4.7 96.3h0m5.4-66h0m0-38.6h0m10.6-27.4h0m.5 0h0m.6 110.8h0m.5-66h0m10.2 10h0m0-80.7h0m.2 61.6h0m.2-15.9h0m0 25h0m.8-76.9h0m.1 164.1h0m.3-66h0m0-77.2h0m11.6 56h0m.1-70.7h0m6.1 61.6h0m1.9-22.9h0m3.7 66h0m4.1-59h0m8.7 59h0m.1-104.7h0m.1 136.7h0m.3-176.9h0m.1 78.9h0m0-18.5h0m0 33.1h0m.1 17.4h0m.1-61.1h0m.1 71.1h0m4.4-111.5h0m10.2 111.5h0m.3-54.8h0m7.3 54.8h0m7.9 0h0m0-10h0m0-17.4h0m.6-38.6h0m0 31h0m.2 73.6h0m2.9-27.4h0m2.2-144.1h0m4.2 156.9h0m3.2-12.8h0m.1-53.2h0m8.6 80.6h0m3.9-96.3h0m.9 22.7h0m.4 112.2h0m.2-87.2h0m6 0h0m5.7-25h0m.2-36.1h0m.1 71.1h0m.1 56h0m.1-56h0m11.6-10h0m1.1-83.4h0m.1 51.4h0m0-78.9h0m.2 44.9h0m.1 56.9h0m10.1-70.3h0m.4 40.8h0m0-69.2h0m0 51.8h0m.1 104.6h0m.2-48.6h0m5.5 48.6h0m6.3-109.7h0m.1 52h0m5.9-15.9h0m5.1-51.7h0m.2 76.7h0m0-93h0m.2 37h0m.2-54.9h0m.1 78.9h0m.1 80.6h0m.1-27.4h0m5.6-30.3h0m6.2 57.7h0m0-87.2h0m5.8 104.6h0m5.6 21.2h0m.5-125.8h0m0-44.8h0m11.3 38.6h0m.3 78.8h0m.7-132.1h0m.1 80.7h0m.2 8.3h0m.1-22.9h0m.1-75.8h0m.3 37.1h0m4.4-8.7h0m5.5-57.4h0m.1 111.8h0m0-82.8h0m.6 32.7h0m0 30.3h0m5.2 78.8h0m6.1 32h0m0-75.1h0m0 30.3h0m0-129h0m.1 82.8h0m0 73.6h0m0-87.2h0m.1-40.8h0m.1 89.4h0m0-66h0m0-71.3h0m.1 29.2h0m.1 32.1h0m.1 153.2h0m5.5-66h0m5.7-21.2h0m.1-56h0m0-73.7h0m.2 216.9h0m0-112.2h0m0-50.1h0m.1-29.6h0m11.5 104.7h0m.4-50.5h0m.1-51h0m11.2 188.7h0m.1-162.3h0m.1 66h0m.2-123.1h0m.1 30.7h0m0 56.7h0m.1 54.8h0m.1-35h0m8.9-41h0m.5 15.5h0m.1-47.6h0m0 3.4h0m6.4 38.7h0m.2-54.9h0m.1 101.8h0m6.9-66h0m0 43.1h0m.1 98h0m0-44.8h0m0-115.9h0m0-48.7h0m.1-19.2h0m.1 117.8h0m0-16.3h0m0-71.1h0m.1 114.8h0m0 51.4h0m.1-138.7h0m0 153.3h0m0 38.6h0m0-96.3h0m.1 19.1h0m.1-126.6h0m11.1 91.6h0m.1-45.7h0m.2 61.6h0m0-29.5h0m.1-17.4h0m0 56h0m0-101.5h0m.1-41.9h0m.1 56.1h0m.1-32.1h0m0 185.4h0m8.8-185.4h0m0 58.3h0m2.6-71.1h0m5.8 52.8h0m0-59.7h0m.1 114.1h0m6.8 21.2h0m6.2-53h0m18.1 57.2h0m8.5-44.8h0m9 4h0m15-1.7h0m1.6-13.7h0m.1-73.9h0m.7 127.3h0m10.2 36.4h0m1.6-144.9h0m.3 109.6h0m.1-62.9h0m19.5-83.8h0m11.3 41.7h0m39.3 83.1h0m35.9-8.9h0m12.8 88h0m49.9-133.4h0m7.3-23.7h0m27.6 2.7h0"/><path id="AT20" d="M135.8 577.1h0m16.8-50.7h0m12.8 133.1h0m11.6-47h0m24.1 69.2h0m0-114.6h0m23.7-.3h0m23.3 1.9h0m12.2 64.5h0m10.7-163.5h0m12.9 38.2h0m24.2 57.1h0m21.2-45.6h0m14.1 111h0m.1 62h0m.2-49.3h0m.1-27.4h0m0 66h0m0-88.7h0m.1 71.5h0m0-82.2h0m.1 21.3h0m0 51.3h0m.1-82.6h0m3.9 4.8h0m.1 51.4h0m.1 32h0m.1 21.2h0m.3-77.2h0m6.8 77.2h0m0-77.2h0m.9-60.5h0m.1-44.2h0m.2 62.7h0m.2 22.9h0m.2-70.3h0m4.8 166.6h0m5.6-104.6h0m.4 51.4h0m10-59h0m.4-19.8h0m1 110.8h0m.3-66h0m10.2-66h0m0 76h0m.1-19.1h0m.3 9.1h0m.2-25h0m.3-51.8h0m.1 98h0m.2-73.8h0m.5 139.8h0m11.4-87.2h0m.6-70.7h0m5.5 80.7h0m2.1-35h0m4.1 73.6h0m3.2-66h0m8.6 66h0m.6-38.6h0m0 56h0m.1-66h0m.2-61.1h0m.1-46.7h0m0 37.1h0m0 20.2h0m.2 33.1h0m.1-14.6h0m4-29.1h0m11.4 22.5h0m1.1 48.6h0m5.4 11.2h0m8.2-77.2h0m.3 31h0m.2 73.6h0m0-66h0m.1 17.4h0m.2 10h0m3.4 11.2h0m1.2-108.5h0m4.6 121.3h0m3.4-66h0m2.3 53.2h0m6.1 44.8h0m4.6-110.8h0m.1 54.8h0m.1-35h0m1.4-7h0m5.9 32h0m5.4 87.2h0m.3-77.2h0m0-66h0m0 31h0m.3 35h0m11.4-10h0m.4-9.1h0m.5-101.8h0m.2 78.9h0m.1-51.4h0m.4 17.4h0m10-13.4h0m.1 79.4h0m0-56h0m.1 104.6h0m.1-156.4h0m.3 69.2h0m5.3 87.2h0m5.9-57.7h0m.6-52h0m5.6 43.7h0m5.7-74.4h0m.1-19.1h0m.3 159.5h0m0-48.6h0m.1-25h0m.1 46.2h0m.1-71.7h0m0-24.6h0m5.9 109.1h0m5.3-72.6h0m0 104.6h0m6.5 21.2h0m5.4-119.2h0m.7-47.4h0m5.5-11.7h0m5.7 125.1h0m.1-78.8h0m1 27.4h0m.2-80.7h0m.2 27.4h0m.1 38.7h0m.1-72.7h0m0 95.6h0m4.2-66h0m5.8 57.7h0m.4-87.3h0m0 29.6h0m.2-59.4h0m.2 89.7h0m5.2 110.8h0m5.8 21.2h0m.1-66h0m0-145.9h0m.1 190.7h0m.1-75.1h0m.1-85.6h0m0 143.3h0m0-128h0m.1 89.4h0m0-35h0m0-13.6h0m0-17.4h0m0-10h0m.2-41.8h0m5.8 156.4h0m5.6-48.6h0m.1-129.7h0m.1 104.7h0m0 112.2h0m.2-191.9h0m0 29.6h0m.1 24.6h0m11.2 0h0m.3-47.6h0m.3 108.1h0m11.4-54.8h0m0 19.8h0m0 15.9h0m.1 19.1h0m0-111.5h0m.2 188.7h0m.3-162.3h0m0-54.6h0m9 91.1h0m.2-59.5h0m.1 32.1h0m.2-17.4h0m6.4-27.5h0m.5 54.9h0m1.1 46.9h0m5.6-61.6h0m0 25.9h0m0 27.4h0m.1 27.4h0m0 24h0m.1-12.8h0m0 27.4h0m0 17.4h0m.1-160.7h0m0 62.7h0m0 22.9h0m.1-107.5h0m0-44.2h0m0 31.1h0m.1 216.9h0m.1-191.9h0m0 43.6h0m0-82.3h0m11.2 72.7h0m0 80.7h0m0-35h0m.1-58.4h0m.2 74.3h0m0-29.5h0m.1-62.9h0m0 45.5h0m.1-87.4h0m.2 209.4h0m0-185.4h0m9.3 2.8h0m.1 55.5h0m1.7-22.3h0m6.2-51.1h0m0 109.5h0m.2-50.1h0m6.1 84.6h0m6.6-64.2h0m17.4 86.2h0m6.3-48.3h0m9.3 3.9h0m14.9-26.9h0m4.6 37.8h0m.2-52.5h0m.4-74h0m7.3 177.1h0m4.8-107.8h0m.2-48.4h0m.1 106.9h0m20.1-140.1h0m10.2 57.3h0m39.5 76.9h0m34.9 5h0m13.8 61.8h0m50.1-135.2h0m7.2-18.5h0m27.3 9.9h0"/><path id="AT21" d="M136.5 660.5h0m16.3-115.5h0m13.4 98.1h0m10.8-22.1h0m24-42.2h0m6.6 49.7h0m17.8-60h0m22.3 4.8h0m13 62.3h0m10.5-163.9h0m12.2 42.5h0m24.7 51h0m21.7 63.3h0m13.4 65.1h0m.2-89.4h0m0 26.4h0m.1-58.1h0m0 20.8h0m.1 63h0m.1-73.9h0m0 33.7h0m.1 48.6h0m.1 17h0m.2-38.6h0m3.9 17.4h0m.1-56h0m0-19.1h0m.3 43.1h0m3.5-174.4h0m3.5 150.4h0m.3 77.2h0m.8-181.9h0m0 85.6h0m.1-22.9h0m.2-43.1h0m.2 24.6h0m4.4 137.7h0m5.7-38.6h0m.3-57.7h0m10.3-15.9h0m.5-19.8h0m.8 44.8h0m.5 66h0m10-75.1h0m0-52h0m.1 82.3h0m.4-21.2h0m.3-25h0m.4-27.4h0m0 73.6h0m.6-97.7h0m4.7-48.5h0m7.2 125h0m.1-61.1h0m5.9 82.3h0m1.9-46.2h0m3.8 91h0m3.8-83.4h0m8 66h0m.9-80.6h0m0-38.7h0m.1 70.7h0m.2-17.4h0m.1-33.1h0m0 116.5h0m0-56h0m.1-71.1h0m.1-44h0m4.1 171.1h0m11.2-98h0m0 53.2h0m7.3 0h0m7.6-66h0m.3 93.4h0m0-73.6h0m.3 7.6h0m.1 27.4h0m0-10h0m3 21.2h0m.4-104.6h0m6.1 149.4h0m3.4-91h0m1.8 46.2h0m6.2 44.8h0m4.8-83.4h0m.2-27.4h0m0 54.8h0m1.4-35h0m5.6 25h0m5.7 10h0m.1-27.4h0m0-38.6h0m.4 77.2h0m.1-108.5h0m11.4 87.3h0m.9-66h0m.1 66h0m.4-110.9h0m.1 27.5h0m0 58.4h0m10-31h0m.2 56h0m.1-79.4h0m.1 128h0m0-87.2h0m.3-66.1h0m5.6 153.3h0m6-48.6h0m.2-50.5h0m5.3 33.1h0m6-57.7h0m0 24.6h0m0-40.6h0m0 66.1h0m0 73.6h0m.1-48.6h0m.1 21.2h0m.5-131.2h0m5.2 144h0m6.2-72.6h0m.2 125.8h0m6.2 0h0m5.6-119.2h0m.1-47.4h0m5.5-7.9h0m5.9 121.3h0m1.2-51.4h0m.1-21.2h0m0-59.5h0m.3-3.4h0m0 92.4h0m.1-56.9h0m0 34h0m4.1-38.7h0m6.2-61.5h0m0 57.1h0m.1 57.7h0m.1-87.3h0m.1 59.9h0m11.3-21.2h0m0 132h0m.1-145.4h0m.1 166.6h0m0-112.2h0m0-69.7h0m.1-13.1h0m0-16.9h0m0 145.9h0m0-11.2h0m0-167.2h0m.1 205.8h0m0-87.2h0m0-17.4h0m.4 46.9h0m5.7 57.7h0m5.6-153.3h0m0 54.2h0m.1-79.2h0m.2 216.9h0m.1-112.2h0m0 25h0m.1-75.1h0m11.3 141.1h0m.2-160.7h0m.3 44.2h0m11.2 41.4h0m0-118.2h0m.3 82.5h0m.2-30.3h0m.1-26.4h0m0 111.5h0m0-35h0m5.4-128.5h0m3.5 58.8h0m.6 56.1h0m0-27.4h0m.2-13.4h0m6.4 23.4h0m0-51.8h0m1.4 98.7h0m5.7-118.2h0m0 148.5h0m0-66h0m0 12.8h0m0 14.6h0m.2-141.7h0m.1 15.7h0m0 26.8h0m0 182.6h0m.1-17.4h0m0-109.7h0m.1-30h0m0-13.6h0m.1 114.7h0m0-80.7h0m.1 104.7h0m.1-43.1h0m5.3-125.4h0m5.7 144.5h0m.2-129.4h0m0 36h0m.1 27.4h0m0-87.4h0m.1 72.7h0m.1 32.1h0m0 125.8h0m.1-185.3h0m0 89h0m.1-15.9h0m8.9-88.8h0m.3 52.7h0m2 10.6h0m5.9-24.6h0m.1 57.7h0m.3-117.1h0m6.6 146.9h0m6.1-47.7h0m20.9-85.5h0m6 104.8h0m8.6 31.6h0m15.3-44.4h0m1.7 27.2h0m.6-126.4h0m1.3 74.2h0m10.4-1.4h0m.3 55.8h0m.1-108.2h0m0-69.4h0m19.8 43.3h0m10.9 68.3h0m39.5 65.7h0m34.3 17.8h0m14.1 45h0m50.7-136.9h0m7.2-19.3h0m27.3 42.3h0"/><path id="AT22" d="M141.1 484.6h0m11.4 68.4h0m19.5 106.9h0m4.6-36.9h0m24.5-43.8h0m6.3 89.7h0m18-100.1h0m22.2 5.6h0m13.2 63h0m10.1-152.9h0m12.7 53.5h0m24.1 39.6h0m22.1 65.5h0m13.4 50.8h0m.1-50.8h0m.1-70.6h0m.1 32.7h0m0 11.5h0m0 13.9h0m.1 51.1h0m.1-15.1h0m.2-83.7h0m0 73.6h0m.4-63h0m3.4 67h0m.5-32h0m.2-43.1h0m.2 19.1h0m6.6-188.5h0m0 265.7h0m.6-96.3h0m0 19.1h0m.7-42h0m.1-43.1h0m.3-16h0m.1 40.6h0m7.2-52.4h0m3 93.8h0m.1 75.1h0m10.7-83.4h0m.4-21.2h0m.8 125.8h0m.4-87.2h0m9.1-59.5h0m1 80.7h0m.3-30.3h0m.1 9.1h0m0-25h0m.5-26.6h0m.1 72.8h0m.1-97.4h0m6.6 25.7h0m5.6-5.5h0m.3 56h0m5.9 34h0m2-51.4h0m6.8 0h0m2-144.3h0m6.7 210.3h0m.7 17.4h0m.1-66h0m.2 10h0m.1-27.4h0m0-53.3h0m.1 9.6h0m.1 29.1h0m.1-66.1h0m.1 47.6h0m6.5-44.6h0m8.4 116.3h0m.1-53.2h0m7.4 98h0m7.8-66h0m.2-25h0m.1 35h0m.1-27.4h0m.3-27.4h0m.1 93.4h0m3.1-119.3h0m.1 104.7h0m5.5 32h0m3.6-91h0m2.4 73.6h0m5.8 17.4h0m5.1-56h0m.3-54.8h0m0 27.4h0m1 17.4h0m5.5 10h0m6.1-27.4h0m.2-38.6h0m0 66h0m.1-85.1h0m.1 96.3h0m11.9-21.2h0m.5-110.9h0m.2 85.9h0m.1 25h0m.3-61.1h0m.2-18.3h0m10 0h0m0 47.4h0m.1-24h0m.2 104.6h0m.1-153.3h0m.2 104.7h0m5.9 66h0m5.3-116.5h0m.4 50.5h0m5.6-9.1h0m5.8 57.7h0m.1-73.6h0m0 25h0m.1-50.5h0m.4-39.2h0m0-18.4h0m.1 129.3h0m0-96.3h0m11.4 43.1h0m.2-113.5h0m.2 232.7h0m5.8 0h0m5.6-162.3h0m0 43.1h0m6-29.1h0m6.5 95.1h0m.4-43.1h0m.1-29.5h0m.1-48.7h0m.3 55.3h0m0-34h0m.1 56.9h0m0-89h0m4.7 32.1h0m5.3-66.2h0m.1 87.4h0m.1-59.9h0m.2 34h0m.1 53.3h0m11.5 66h0m.1-153.3h0m0 125.9h0m.1-71.7h0m0 11.9h0m.1 104.6h0m0 21.2h0m.1-112.2h0m0-54.4h0m.1-74.1h0m0 58.8h0m0 85.6h0m0 19.1h0m.2-132.1h0m0 56.1h0m5.4 132h0m6.1-44.8h0m.1-125.9h0m.1-22.6h0m0 56.6h0m0 20.2h0m0 33.1h0m5.3-117.1h0m6.3 39.8h0m.4 49.9h0m5.2 110.8h0m5.8-75.1h0m0-35.7h0m.1 27.4h0m.1-107.3h0m.2 23.2h0m.1 111.5h0m.4-80.7h0m5.3-8.7h0m3.6 47.4h0m.2-62.7h0m0 28.7h0m.3 0h0m6.6-41.8h0m.6 107.8h0m.7-56h0m5.6-60.6h0m.1 150.6h0m0-158.7h0m.1 124.7h0m0-157.2h0m0 167.2h0m0 56h0m.1-110.8h0m.1 66h0m0-125.9h0m0 34h0m0 9.6h0m.1-82.3h0m0 52.3h0m.1 139.7h0m.1-66h0m0-14.6h0m5.2-92.7h0m6 41.3h0m0 12.7h0m.1 32.1h0m0-80.8h0m0 94.4h0m0 15.9h0m.1 19.1h0m.1-108.1h0m.1-43.2h0m.1 228.5h0m.2-137.7h0m8.9-10.6h0m.6-52.7h0m2.5 69h0m5.2 27.4h0m.2-114.8h0m.2 57.1h0m6.4 89.6h0m9.2-20.9h0m20.5-109.3h0m3.1 106.3h0m12.4-73.8h0m9.1 60.9h0m4.8-28.8h0m.1 50.4h0m0-124.9h0m12 18.2h0m0 110.2h0m.2-177.5h0m0 126h0m20-73.4h0m10.6 86.1h0m39.8 40.3h0m34.8 19.2h0m18.4-110.4h0m45.7 16h0m7-20.3h0m27.1 44.8h0"/><path id="AT23" d="M141.9 493.8h0m11.9 60.1h0m22.6-115.1h0m.7 199.3h0m23.9-54.2h0m6.1 87.3h0m18.2-83.2h0m22.7-11h0m18.9-96.1h0m4.3 7.8h0m13.3 50h0m23.7 43.1h0m21 112.6h0m14-37.8h0m.1 37.5h0m.1-27h0m.1-94.3h0m.1 108.9h0m.2-51.1h0m.1 12.5h0m0-36.5h0m0-23.2h0m.2 33.7h0m.1-23h0m3.8 66.4h0m.2-44.8h0m.2-30.3h0m1.2 43.1h0m5.7-43.1h0m.3 19.1h0m.1 77.2h0m.7-137.7h0m.1-24.6h0m.3 43.1h0m0-59.1h0m.3-33.6h0m10.2 23.2h0m0 92.4h0m.2 96.3h0m10.2-96.3h0m.7-22.9h0m.9 32h0m.1 87.2h0m7.1-126.6h0m3 30.3h0m.1 30.3h0m.6-46.2h0m.1 25h0m.3-51.5h0m.6 72.7h0m0-96.7h0m6.2 25h0m5.8 60.5h0m.1-66h0m5.3 90h0m2.4-51.4h0m7.8 0h0m.1-120.6h0m7.5 186.6h0m1.2-146.7h0m0 27.4h0m.3 25.9h0m0-16.3h0m0 61.1h0m.1-32h0m.1 53.2h0m.1 44.8h0m0-83.4h0m6.2-29.2h0m8.7 14.6h0m1.2 98h0m6.2 0h0m8-83.4h0m.4 66h0m.1-48.6h0m0-44.8h0m0 19.8h0m.1 35h0m3.3 24h0m.3-78.8h0m5.6 132h0m3.7-104.6h0m1.8 66h0m6.5 38.6h0m4.6-77.2h0m0-27.4h0m.3-27.4h0m.9 44.8h0m5.6 66h0m5.9-83.4h0m.1 38.6h0m.3-77.2h0m.2 77.2h0m0-82.3h0m11.4 71.1h0m1-71.1h0m.3 61.1h0m0-79.4h0m.3-31.5h0m.1 85.9h0m10-7h0m.1-47.4h0m0 79.4h0m.2 66h0m.1-122h0m.1-45.5h0m5.9 188.7h0m5.5-87.2h0m.3-50.5h0m6 41.4h0m5.5-78.2h0m0-20.7h0m.1 108h0m.1-74.7h0m.2 123.3h0m.1-27.4h0m0-71.7h0m.1 25.5h0m11.2-114.1h0m.1 107.1h0m.4 119.2h0m5.7 12.7h0m6-124.9h0m.3-50.1h0m5.5 19.1h0m6.4 90h0m.6-43.1h0m.1-78.2h0m0 48.7h0m.1 29.5h0m.1-89h0m.3 66.1h0m0-34h0m4.3 4.9h0m5.7-9.6h0m.1 53.3h0m0-112.3h0m.3 25h0m.1 66.1h0m11.4-83.5h0m0 188.1h0m.1-83.4h0m.1 66h0m0-153.3h0m0 66.1h0m.1 59.8h0m0-174.7h0m0 103h0m0-24.6h0m.1 75.1h0m.1-94.7h0m.1 28.7h0m0 76h0m.1 77.2h0m5.3-21.2h0m5.8-44.8h0m.1-38.6h0m.4-27.4h0m.2-82.5h0m0 56.6h0m0-34h0m5.7 79.7h0m5.4-19.8h0m.8-49.9h0m5.7-48.7h0m5.5 45.3h0m.1-24h0m.2 122.1h0m0-38.6h0m.2-32.1h0m.1 53.3h0m.1 27.4h0m5.1-42h0m3.6-62.7h0m.3 62.7h0m0-34h0m.4 15.5h0m6.5 50.5h0m.1-50.5h0m.5-57.3h0m6.5 90.4h0m.1-107.3h0m0 20h0m0-38.7h0m0 153.4h0m.1-165.4h0m0 84.7h0m0 14.7h0m.1 104.6h0m0-139.7h0m0 59.1h0m.1 98h0m0-110.8h0m.1-71.8h0m.1 137.8h0m0-21.2h0m.2 34h0m5.5-90h0m5.5 5.5h0m0 11.9h0m.2-59.5h0m.1 185.3h0m.1-203.8h0m0 126.6h0m0-19.1h0m.1-61.6h0m0 45.7h0m0-58.4h0m0-53.4h0m9.6 75.7h0m.1-49.8h0m2 120.9h0m6-142.2h0m0 57.1h0m.3 66h0m9.2-149.7h0m6.4 172.1h0m18-125.9h0m3 130h0m11.9-94.6h0m12.3 88.9h0m3.9-57.8h0m.8-78.1h0m.1 123.7h0m11.4-47.4h0m0-126.5h0m.6 67.2h0m.1 110.8h0m19.7-124.5h0m28.4 102.2h0m22.2 52.1h0m34.1-8.9h0m19.3-91.8h0m45.3 11.6h0m7.4-32.3h0m27.3 43.7h0"/><path id="AF0" d="M130 597h0m35.8 7.8h0m141.8-44h0m282-17.8h0m26.9-37.1h0m20.4 70h0m26.9-32.9h0m92 38.1h0"/><path id="AF1" d="M127.1 619.4h0m39.5-168h0m141.7 116.4h0m278 16.7h0m29.4-39.4h0m18.9 33.6h0m32.8 20.7h0m90.7-54h0"/><path id="AF2" d="M130 633h0m39.3-149.8h0m210 81.8h0m213.3-77.4h0m24.1 165.8h0m20-67.1h0m33.7-152h0m87.8 114.6h0"/><path id="AF3" d="M130 657h0m36.1-89.5h0m224.6-.6h0m201.1-52h0m24.4 167.5h0m20.5-88.9h0m33.5-113.5h0m88 148.2h0"/><path id="AF4" d="M126.8 664.3h0m42.4-93.2h0m222 41.5h0m201.5-81.1h0m26-65.1h0m15.7 207.8h0m41.9-244.5h0m208.7 118.3h0"/><path id="AF5" d="M130 684h0m36-105.8h0m224.8 59.4h0m201.3-77.5h0m26.8-54.7h0m15.4 180.9h0m41.5-126.9h0m260.7-30.2h0"/><path id="AF6" d="M133.5 506.6h0m32.6 76.3h0m378.1-62.2h0m51.1-38.1h0m24.4 55.2h0m20.8-89.3h0m38.6 121h0m263.7-23.9h0"/><path id="AF7" d="M133 690h0m36.1-103.2h0m380.9-84.8h0m44.8 24.1h0m23.9 12.1h0m21.4-8.5h0m45.2 33.2h0m262.9-12.3h0"/><path id="AF8" d="M136.3 599.3h0m29.9-9.1h0m390.1-51.4h0m42.2-47.3h0m20.9 91.8h0m21 4.2h0m44.7-13h0m263.8-4.6h0"/><path id="AF9" d="M136 634h0m30.3-26.7h0m390.2-64.1h0m44.6-7h0m23.6-56h0m18.7-59.2h0m44.5 17.5h0m266.6 42.3h0"/><path id="AF10" d="M141 455h0m59.9 152.5h0m361-114.7h0m36.7 52.9h0m26.4 43.3h0m24.2-95.6h0m38.8-16.7h0m272 61.5h0"/><path id="AF11" d="M141 470h0m60.2 161.9h0m363.6-208h0m33.8 122.3h0m29.7 22.3h0m17.9-42.6h0m60.3-44.6h0m260.1 38h0"/><path id="AF12" d="M139 658.4h0m62.3 13.6h0m369.6-124.6h0m27.6 1.5h0m29.5 22.6h0m21.1-31.8h0m63.1-45.5h0m254.2 27.1h0"/><path id="AF13" d="M144.8 575.8h0m57.1 111.1h0m375.2-209.8h0m24.1 106.7h0m27.4 77.3h0m20.9-91.1h0m65.6-130.5h0m257.9 55.5h0"/><path id="AF14" d="M148.5 545.7h0m58.9 90.7h0m369.6-68.8h0m27.5 9.1h0m26.6-64h0m18.3 71.4h0m65.9-102.6h0m257.7 43.5h0"/><path id="AF15" d="M147.8 568.2h0m71.7 42.8h0m354.9-41.8h0m30.6 68.1h0m26.7-62.7h0m20.5-116.1h0m65.6 53.2h0m348.2 30.9h0"/><path id="AF16" d="M147.8 605.4h0m104.2-100.4h0m328.1 66h0m26.9-83.3h0m26.8 160.6h0m18.6-170.5h0m63.1 79.8h0"/><path id="AF17" d="M152.4 481.5h0m99.6 40.5h0m331.1-88.8h0m24.6 110.3h0m26.7-110.6h0m17.4 139h0m66.6 21h0"/><path id="AF18" d="M151.8 497.1h0m144.2 38.6h0m287-53.9h0m30 17.9h0m21.5-50.2h0m17.4 134.5h0m104.8-39.1h0"/><path id="AF19" d="M152.5 567.2h0m149.4 57.9h0m281.4-129.9h0m27.3 44.2h0m26.4-41h0m20.9 .6h0m97.8 49.3h0"/><path id="AF20" d="M152.1 572.9h0m149.6 99.9h0m281.6-161.3h0m26.7 34.8h0m26.7-1.9h0m18.8 18.7h0m101.8-12.7h0"/><path id="AF21" d="M152 629.4h0m150.2-51.9h0m287.1-77.6h0m21.2 55.2h0m26.9 9.4h0m17.4 19.9h0m103-20.9h0"/><path id="AF22" d="M165.9 494.9h0m136.1 125.1h0m287.5-97.1h0m20.6 76.1h0m26.8-32.6h0m21.2-61.2h0m97.7 58.6h0"/><path id="AF23" d="M165.8 573.3h0m142.2-14.4h0m278.7-33.3h0m23.8 155h0m23.9-113.9h0m30.2-86.4h0m91.9 91.9h0"/><path id="HT0" d="M141.9 330.9h0m0 85.8h0m.2 9.5h0m.1-91.4h0m.1 133.4h0m.3-81.7h0m.2 20.2h0m0-46.1h0m226.4-11.9h0m.2 64.4h0m.7-75.7h0m.1 106.5h0m.3-44.1h0m5.3-154.7h0m.1 136.6h0m.7 58h0m51.1-60.1h0m1.2-64.9h0m62.4 53.4h0m.2 49.8h0m.1-26.7h0m.3 52.6h0m33.7-45.6h0m0-56.2h0m.2-33.7h0m.1 140.2h0m0-161.5h0m0-30.3h0m.1 46.8h0m0-34.2h0m.1 63.2h0m0 68.7h0m.2 47.9h0m86.3-53.4h0m110.6 18.1h0m0-12.9h0m.2 43.6h0m.1-59.7h0m0-28.9h0m0 70.6h0m.1-80.6h0m.2 24.5h0m74.1-32.5h0m.1 85h0m.1-69.5h0m.1 33.3h0m.2 74.3h0"/><path id="HT1" d="M141.5 332.5h0m.4 90.9h0m.2 3.3h0m0-90.3h0m.6 134.7h0m.1-83.8h0m.6 20.4h0m0-45.7h0m226 52.8h0m.6-66h0m.4 96.5h0m.1-106h0m.2 60.8h0m5.2 41.7h0m.5-195.2h0m.2 135.4h0m51.6 .8h0m.5-64.5h0m62.9 50.5h0m.1 77h0m0-27.3h0m.2-27.1h0m33.8 8.1h0m.1-112.5h0m0 55.6h0m.1-33.4h0m0-50.5h0m0 190.8h0m.2-177h0m0 128.9h0m.1 48.8h0m0-146h0m.1 30.2h0m88.9-83.6h0m108 194.4h0m.1-74h0m.1 29.7h0m.1-16.1h0m.1 43.3h0m.1-14.2h0m.1-67.7h0m.1 10.2h0m74.1 10.1h0m0-12.2h0m.1 107.5h0m.3-37.9h0m.2-36.9h0"/><path id="HT2" d="M141.6 347.9h0m.2 77.9h0m.3 .9h0m.1-18.2h0m.2-20.4h0m.4 87.6h0m.4-137.4h0m.2 24.3h0m225.9 53.7h0m.3-64.9h0m.8-5.6h0m.2 104.3h0m.4-48.7h0m4.8 41.1h0m.1-57.9h0m.6-135.9h0m51.7 73.1h0m.8 61.9h0m62.2 36.1h0m.2-48.4h0m.3 74.4h0m.1-53.1h0m33.9-104.5h0m0-28.4h0m0 52.8h0m.1 137.8h0m.1-107h0m0 57.6h0m.2-126h0m0 60.6h0m.2 68.1h0m0 47.1h0m.1-146.3h0m88.4-47.6h0m108.4 128h0m.3 16h0m0 47.7h0m.1-76.1h0m.1-25.8h0m0 67.4h0m0 14.5h0m.1-71.8h0m74.1 20.3h0m.1 47h0m.1-68.9h0m.3 107.5h0m.1-75.6h0"/><path id="HT3" d="M141.5 430.4h0m.1-65.2h0m.6 23.4h0m.2 93.3h0m.3-72.8h0m.3-69.7h0m.1 89h0m.2-64.7h0m226.1 55h0m.3-66.6h0m.7 50.4h0m.1 48.2h0m.5-101.7h0m4.3 93.5h0m.3-57.1h0m.8-134.6h0m51.9 133.1h0m.1-59.7h0m62.9 68.7h0m.1 27.7h0m.4 25.6h0m.2-74.3h0m33.8-108.9h0m0 189.8h0m0-106.5h0m0-57.9h0m.1 30h0m0 83.3h0m.1-65.4h0m0 68.8h0m.1-100h0m0 147.4h0m.1-175h0m88.2-16h0m108.7 152.9h0m.1-40.9h0m.1-26.7h0m0 39.6h0m0 62.3h0m.1-91.7h0m.3 45h0m0 27.9h0m74.2-33.7h0m.5 28.4h0m0-68.7h0m.1 33.8h0"/><path id="HT4" d="M141.6 430.8h0m.2-53.1h0m.3 12.1h0m.2 38.6h0m.1-88.6h0m.4 145.2h0m.2-75.7h0m.3-45.3h0m226.4-11.7h0m0 67.4h0m.6 32.1h0m.2-47.4h0m.3-52.8h0m4.7-91h0m0 212.1h0m.3-82.4h0m52.1-2.4h0m.4-63.4h0m63.3 159.5h0m.1-63.2h0m.1-27.5h0m0-20.3h0m33.9-80h0m.1 27.8h0m0 133.2h0m0-50.1h0m0-57.2h0m0-83.6h0m.3 142.8h0m0 47.6h0m.1-116.9h0m.1-57.7h0m0 28.3h0m89.5-33.1h0m107.3 175.5h0m.1-34h0m.1-41.1h0m.1 12h0m0 15.6h0m0-54.9h0m.2 84.7h0m.3-74.7h0m74 48.8h0m.2 18.6h0m.3-68.5h0m.1 38.9h0"/><path id="HT5" d="M141.7 379.3h0m0 53.8h0m.5-69h0m.2 123.1h0m.3-57.5h0m.1-89.7h0m.2 69.4h0m.2-18.4h0m226.7 33.5h0m0-66.1h0m.2 93.4h0m.4-98h0m.4 51.2h0m4.2-144.3h0m0 134.6h0m.1 78.6h0m51.9-146h0m1.6 61h0m62.8 31.9h0m.2-47.6h0m.3 20.9h0m17.3-158.7h0m16.4 57.8h0m0 169.7h0m.1-115.4h0m.1 56.7h0m0-138.4h0m0 58.6h0m.1 130.7h0m.1-45.9h0m.1-70h0m0-59.2h0m.1 28.8h0m87.7-32.1h0m109.2 155.3h0m0-15.6h0m0-69.1h0m.1 10.9h0m.2 44h0m.1-15.5h0m.2 63.1h0m.1-74.8h0m74 40.4h0m.5-59.1h0m.1 71.5h0m.2-32.2h0"/><path id="HT6" d="M141.8 379.4h0m.4 108.7h0m.3-148h0m.2 51h0m.1 18.5h0m.1-42.3h0m.1 63.3h0m.5-125.6h0m225.7 129.6h0m.1-75.8h0m.9 46.3h0m.6-51.3h0m1.7 105h0m1.6 32.1h0m1.7-223.7h0m.1 129.1h0m51.9-5.1h0m.5-62.1h0m63.4 92.2h0m0-47.6h0m.2 21h0m18-156.8h0m15.8 87.3h0m.1 28.3h0m0 52.2h0m.1-137.9h0m.1 26.6h0m0 173.3h0m0-11.8h0m.1-45.5h0m0-101.4h0m.2-28.1h0m.1 60.8h0m89.5-56.1h0m107.2 116.9h0m.1-44h0m0 17.2h0m.1 59h0m.1 15.7h0m.1-103h0m.2 69.1h0m.2-29.5h0m74 40.4h0m.2-28.8h0m.3-37.6h0m0 67.4h0"/><path id="HT7" d="M141.7 383.1h0m.5-41.6h0m.1 147h0m.6-57h0m.1-39.7h0m0 18.9h0m.3-105.4h0m.1 63.5h0m226.5 66h0m0-73.6h0m.4-6.5h0m.6 51.8h0m1.9 65.6h0m2.9-202.6h0m.3 224.1h0m.8-97.2h0m51-4.9h0m.7-51.7h0m63 83.3h0m.3-27.8h0m0-21h0m15.7-131.7h0m18.1 167.9h0m0 60.2h0m.1-175.9h0m.1 30.5h0m0-56.3h0m0 84.7h0m.3 57h0m0 51.3h0m.1-181h0m.1 28.6h0m0 32.3h0m89.2 17.8h0m107.6 56.9h0m.1-69h0m.1 28.2h0m0 75.4h0m0-92.2h0m.1 28.2h0m.4 47.8h0m.1-32.1h0m74 30.4h0m.6-71.2h0m0 67.1h0m.2-26.3h0"/><path id="HT8" d="M141.6 384h0m.6 49.8h0m0-127.7h0m.4 66.6h0m.1 115.9h0m.1-146.3h0m.1 68.5h0m.1-16.8h0m226.3 41.6h0m.4-73.6h0m.6-6.3h0m.3 51.3h0m1.5 76.8h0m3-82.6h0m0-125.2h0m15.9 102.6h0m37.4-29h0m.2 48h0m62.8-23.2h0m.3 49.6h0m.1-26.9h0m16-133h0m17.9 61.5h0m.1 31.7h0m.2 114.9h0m0-177.4h0m0-25.2h0m0 141h0m.1-127.8h0m0 180.3h0m.1-119.7h0m0-29.2h0m.1 97.2h0m88.7-44.8h0m108.2 69.4h0m0-47.6h0m.1 63h0m.2-91.7h0m0 57.7h0m.1-40.4h0m.2-29.1h0m0 55.4h0m74.1 46.7h0m.2-44.8h0m.5-42.9h0m0 67.6h0"/><path id="HT9" d="M141.6 385h0m.6-42.6h0m.2 68.8h0m.2-15.9h0m.1 38.8h0m.6-124.5h0m0 64.7h0m225.8 66.7h0m.2-245.9h0m.3 169.4h0m1.2-3.5h0m.2 49.1h0m1.3 75.1h0m2.9-165h0m1.8 81h0m14.3-16.1h0m36.2-32.7h0m1.2 45.6h0m62.9 .3h0m0 26.5h0m.3-50.1h0m18-108.6h0m15.7 59.7h0m.2-27.3h0m0-28.3h0m0 87.2h0m.1 56.6h0m0 59h0m.1-158.8h0m.1 151h0m.3-182.1h0m0 129.1h0m0-61.7h0m89.2 22.2h0m107.5 4.6h0m0-17.2h0m.2 92.4h0m0-64h0m.2-40.5h0m.1 88.3h0m0-32.4h0m.1 14.3h0m74.4-53h0m.4-47.4h0m.1 88h0m.1 24.6h0"/><path id="HT10" d="M141.6 391.1h0m1.1 23.1h0m.1-39.6h0m.4-63.1h0m0 123.4h0m.1-39.2h0m.1-52h0m225.7-148.5h0m.5 250.3h0m.1-72.2h0m.4 38.1h0m.8-45.2h0m.7 137.2h0m3.9-97.1h0m1-85.3h0m14.9 71h0m35.8-38.2h0m.1 46.6h0m63.9 25h0m.5-27h0m.3-23.4h0m16-99.9h0m17.6 200.4h0m.1-148.9h0m.1 32.7h0m0-88.8h0m.1 146.2h0m0-115.1h0m.1 51.6h0m.1-36.6h0m0-31.8h0m.1 182.4h0m.1-53.8h0m88.9-32.3h0m108.1 37.3h0m.1-40.6h0m.1 59.2h0m.1-45.8h0m.2 61.3h0m0-92.1h0m0-11.2h0m.1 55.3h0m74.2 26.5h0m.3-24.4h0m.2-87.6h0m0 46.9h0"/><path id="HT11" d="M141.7 391.2h0m.7-15.5h0m0 38.8h0m.7 20.9h0m0-90.5h0m.1-31.5h0m.1 83.7h0m225.7-165.2h0m.1 142.8h0m.4 71.7h0m.5-79.8h0m.2 49.5h0m5.4-234.3h0m.2 161.5h0m.7 65h0m14.6-16.2h0m35.9 12.2h0m1.6-48.6h0m63.1 73.8h0m.1-54.1h0m0 24.9h0m15.7-118.2h0m18.2 140.7h0m.1-118.7h0m0 57.9h0m0-90.4h0m.1 205h0m0-146h0m.2-13.7h0m.1 40.5h0m.1-68.9h0m0 134h0m.1 45.2h0m89.2-84.1h0m107.6 35h0m.1-26.5h0m.1 45.3h0m.1-86h0m.1 54h0m.1-42.3h0m.1 14.8h0m.1 76.8h0m74.2-133.4h0m.1 45.6h0m.1 64.3h0m.3-22.8h0"/><path id="HT12" d="M141.8 396h0m.3-20.2h0m.2 61.9h0m.3-20.6h0m.2-19.9h0m.2-52.2h0m0-27.4h0m226.4-69.1h0m.4 199.8h0m.1-73.5h0m.4-7.8h0m.4 49.3h0m4.8-70h0m0 64.7h0m.4-229h0m15.4 223.1h0m35.7 .2h0m.9-43.9h0m63.6 14.7h0m.1 54.3h0m.4-26.9h0m17.9-118.6h0m15.8 19.3h0m.1-32.3h0m0 91.2h0m0 116.7h0m0-148.9h0m.1 93.1h0m.1 45.5h0m.1-45h0m.1-105.7h0m0-30.2h0m0 69.3h0m88.1 39.7h0m108.8-5.1h0m.1 62.4h0m0-17.4h0m0-59.4h0m.1 27.6h0m.2-42.1h0m.2 56h0m.1-67.7h0m74.4 80.7h0m0-24.2h0m.3-84.5h0m.1 43.8h0"/><path id="HT13" d="M141.7 397.7h0m.7 19.4h0m.1-96.7h0m.2 55.5h0m.1 62.7h0m.2-41h0m.5-52h0m225.7-78.5h0m.5 112.5h0m.7-195.9h0m.2 234.5h0m.2-46.2h0m5.8-21.9h0m.2 61.1h0m.1-228.2h0m14.2 223.2h0m36.5-.5h0m.5-43.7h0m63.3 68.7h0m.3-52.6h0m.2 25.4h0m16.9-102.3h0m16.8 3.1h0m0 122.8h0m.1-153.4h0m.1 94.3h0m0-33.4h0m.3 24.6h0m.1 110.7h0m0-179.9h0m0 29.9h0m.1-63.5h0m0 172.7h0m88.3-24.9h0m108.5 15.4h0m.3-66.7h0m0 103.4h0m.1-77.6h0m.1 58.9h0m.1-72.6h0m.1 27.8h0m.1 13.2h0m74.1 5.4h0m.3-87.4h0m.1 110h0m.1-65.2h0"/><path id="HT14" d="M141.9 399.7h0m.3-23.5h0m.3-23.4h0m0 64.6h0m.2 22.7h0m.1-41.7h0m.1-72h0m226.7-43.8h0m.2 98.2h0m.6-140.6h0m.2 183.2h0m.3-46.2h0m4.2 35.4h0m1.7-222.1h0m.1 161.3h0m14 54.4h0m37-41.2h0m.4 44.3h0m62.9-30.4h0m.4 51.9h0m.3-27.2h0m18.7-160.5h0m15 185.5h0m.1-56.6h0m.1-97.7h0m.1 60.5h0m0-30.3h0m.1 166h0m0-211.3h0m.1 100.5h0m.2-33.2h0m0-36.2h0m0 144.2h0m87.8-14.1h0m109-.4h0m.1-40.6h0m.1 58.4h0m0-30.8h0m.3-54h0m0 103.8h0m.1-91.7h0m.1 27.8h0m74.3 42.5h0m0-21.8h0m.5-88.3h0m.1 47.2h0"/><path id="HT15" d="M141.8 400h0m.5-47.2h0m.1 46.8h0m.1 19.6h0m.2-42.6h0m.1 67h0m.6-116.8h0m226-24.9h0m.5 81.5h0m.3-135.2h0m.2 176.9h0m.4-45.7h0m4.9 33.3h0m.4-217.5h0m0 158.8h0m15.2 61.2h0m35.8-49.6h0m1.6 50.9h0m62.9 15.2h0m0-51.3h0m.2 23.8h0m18.7-148h0m15.2 118.9h0m.1-37.1h0m.1 91.6h0m0-124.5h0m.1-29.5h0m0 86.6h0m.1 72.7h0m0-174.7h0m.1 67.6h0m0-37.2h0m.2 185.3h0m138.1-147.9h0m58.8 52.6h0m.1 39.5h0m.1-13.1h0m0-13.5h0m.1 45h0m.1-85.2h0m0 104.2h0m0-91.1h0m74.4 70.4h0m.3-22.9h0m0-76.7h0m.3 35.5h0"/><path id="HT16" d="M141.8 403.8h0m.5-74.5h0m.3 47.4h0m.1 67.3h0m0-23.6h0m.2-20.1h0m0-44h0m226.4-44.9h0m0 76.9h0m.7-130.6h0m.4 167.6h0m.2-39.2h0m4.8-31.5h0m.9 61.1h0m.4-206.4h0m51.7 156.9h0m.4-66.1h0m0 125.1h0m62.4-43h0m.1 22.4h0m.3 29.8h0m34-158.2h0m0 29h0m0 74.1h0m.2-134.6h0m.1 93.4h0m.1 91.8h0m.1-66.2h0m.1 114.4h0m0-40.9h0m.1-146.2h0m0-27.7h0m0 65.8h0m138.2 53.9h0m58.7 25.9h0m0 49.4h0m0-62.2h0m.1 42.5h0m.1-16.9h0m.1-40.7h0m.2-27.4h0m0 13.5h0m74.5 48.3h0m.2-77.5h0m.1 36.3h0m.1 62.8h0"/><path id="HT17" d="M141.6 405.2h0m.4 15.5h0m.4-90.8h0m0 122.8h0m.8-74.8h0m.1 22.5h0m.2-43.9h0m226.4-43h0m0 85.4h0m.2-11.6h0m.3 39h0m.2-142.7h0m4.9 79.8h0m.6 54.8h0m.5-207.3h0m51.2 90.5h0m.6 67.3h0m.1 61.2h0m62.9-45.8h0m0 51.1h0m.5-29.9h0m33.7-128h0m0 28.4h0m0 75.7h0m.2-43.2h0m0 92.1h0m.2-184.4h0m0 17.8h0m0 65.4h0m0-37.7h0m.2 147.3h0m.1-65.3h0m85.9-124.5h0m111 173.3h0m.2-13h0m0 49.4h0m0-91.4h0m.1-13.4h0m.1-15.8h0m0 103.2h0m.1-43.7h0m.1-15h0m74.3-5.8h0m0 39.1h0m.1 22.3h0m.4-97.8h0"/><path id="HT18" d="M141.9 406h0m.3 47.5h0m0-122.5h0m0 26.2h0m.1 63.8h0m.3-20.3h0m.8-21.7h0m225.7 23.5h0m.7-86.8h0m.6-29.3h0m.3 146.3h0m.1-44.3h0m4.8 30.2h0m.2-201.5h0m1 147.7h0m50.8 4.3h0m1.1-67.4h0m62.6 85.4h0m0 20.5h0m.2-50.3h0m.2 79.7h0m34-157.8h0m.1 26.7h0m0 126h0m.1-93.5h0m0 46h0m0-134.1h0m.1 13.8h0m.2 176.7h0m.1-111.3h0m0 48.3h0m0-85.3h0m86.8-24h0m110.1 153.9h0m.1-68.3h0m0 104.6h0m0-60.3h0m.3 11.3h0m0-71.7h0m.1 29.4h0m0 73.9h0m.1-58.2h0m74.3-5.2h0m.2 38.5h0m.1 24.8h0m.1-96.4h0"/><path id="HT19" d="M141.9 410.5h0m.1-28.1h0m.3 19.6h0m0 21.5h0m0 32.2h0m0-97.2h0m.8-27.3h0m226.5-1.3h0m.2 78.1h0m.3-14.7h0m.2-96.8h0m.2 136.8h0m5.3-212.3h0m.6 200.9h0m0-51h0m51.3-1h0m.7-67.7h0m62.9 55.2h0m.4 52.1h0m.1-22.2h0m.2 49.7h0m33.7-156h0m.1 57.5h0m0 95.8h0m0-182.8h0m.1 54.7h0m.1 79.8h0m.1-56.4h0m.1-65h0m0 116.9h0m.1 60.8h0m.1-149.4h0m87.1-12.1h0m109.8 117.7h0m.1 24.7h0m0-12.2h0m.1-72.8h0m.2 29.4h0m0 15.7h0m.2 58.4h0m0-87.5h0m0 104.9h0m74.2-41.9h0m.1-72.2h0m.2 99.7h0m0-65.8h0"/><path id="HT20" d="M141.5 411h0m.8 45.5h0m.1-53.2h0m.1-20.4h0m.2-50.8h0m.2 26.5h0m0 65.5h0m226.3-80.8h0m0 64.7h0m1.1-98.1h0m.5 83.4h0m.1 40.1h0m4.8-207.8h0m0 148.1h0m.2 50.8h0m51.3-120.6h0m.5 66.1h0m63.8 41.4h0m0-49.8h0m0 76.7h0m.3-50.1h0m33.8-136.4h0m.1 188.8h0m0-53.8h0m.1-47.8h0m.1-32.6h0m0-24.3h0m.1-14.7h0m.1 177.2h0m.1-62h0m.1-52.6h0m0-36.2h0m87.4-10.7h0m109.4 141.3h0m.3 35.1h0m0-48.5h0m.1-12.1h0m0-44.5h0m0 13.8h0m.2 15.6h0m0 58.7h0m0-103.6h0m74.4 78.5h0m.2 27.6h0m.2-98.7h0m.2 33.6h0"/><path id="HT21" d="M141.9 414.2h0m.2-9.5h0m.1 54.7h0m.2-34.7h0m.1-65.7h0m.7 26.5h0m.3-53.1h0m225.8 12.9h0m.3 62.9h0m.9 31.1h0m.1-44.7h0m.2-76.8h0m4.4 111h0m.1-54.2h0m.8-138.8h0m51.5 70.4h0m1.1 70.6h0m62.9 34.9h0m.2-22h0m.2-25.4h0m0 75.7h0m33.6-184.9h0m.2 27.3h0m0 158.7h0m0-134.5h0m.1 33.4h0m0 51.4h0m.1-123h0m.1 28.9h0m0 148.1h0m.3-52.3h0m0-62.7h0m85.8 45.4h0m110.9 68.1h0m.1-44.8h0m.1-15.2h0m0-29.3h0m.2 14.3h0m.1 56.3h0m.2-82.9h0m0 69.1h0m.1 48.8h0m74.2-109h0m.3 33.2h0m0 66.9h0m.1-31.8h0"/><path id="HT22" d="M141.9 414.4h0m.4-54.3h0m0 45.7h0m0-20.2h0m.5 76.5h0m.1-37h0m.1-92.4h0m226.3 15h0m.1 62.4h0m1.2 29.3h0m.1-44.4h0m.2-64h0m4.2 46.8h0m.2 60.1h0m.1-193.1h0m52.2 67.5h0m.3 65.6h0m63.6 35.3h0m0-23h0m0-25h0m.4 76.1h0m33.8-186.2h0m0 190.2h0m.1-161.7h0m0 23.3h0m.1 85.2h0m.1-51.9h0m.1-71.7h0m0 29.2h0m0 148.3h0m.1-51.8h0m.1-63.4h0m86.7 60.7h0m110.1 69h0m.1-91h0m.2 42.1h0m0 14.8h0m.1-42.4h0m.1-29h0m.1-11.1h0m0 100h0m.2-43.9h0m74.2-13.8h0m0 69.8h0m.1-36.1h0m.5-67.4h0"/><path id="HT23" d="M141.6 416.1h0m.4 9h0m.1-38.8h0m.2-26.1h0m0-26.8h0m.3 72.9h0m.2 57.3h0m226.4-115.6h0m.3 62.4h0m.8-79h0m.1 108.8h0m.3-42.1h0m5.7-17.7h0m0-135.5h0m.2 194.2h0m51-125.6h0m1.2 66h0m62.4-13.2h0m.2 48.9h0m.2-24.9h0m.2 52h0m33.8-156.7h0m0-30.3h0m.2 140.4h0m0-88.8h0m.1 34.1h0m.1 106.3h0m0-144.4h0m.1 145.7h0m.2-179.7h0m0 130.7h0m.1-68.3h0m87 62.4h0m109.7 6.4h0m.2-15.4h0m0 59.3h0m.1-99h0m.1 81.4h0m0 50.6h0m.1-64.8h0m.1-42.3h0m0-14.5h0m74.3 31.2h0m.5 33.7h0m0 39.2h0m.2-106.7h0"/><path id="HF0" d="M136.2 188.1h0m8.8 217.3h0m.5-25h0m2.6-198.5h0m1 236.3h0m1-9h0m7.1-177.9h0m18.7 .6h0m.9-65.3h0m.9 37.7h0m.5 23.8h0m8.4 375.9h0m1.2-188h0m0 60.5h0m39.2-236.6h0m4.9 145.5h0m2.3 216.2h0m.1-186.6h0m.1 73h0m.6 47.6h0m0-20.1h0m.3-69.4h0m.1 26.5h0m.3-74.3h0m.1 101.3h0m0-43.7h0m.1-25.1h0m2.6-133.7h0m0 14.7h0m.4-27.9h0m.2-50.9h0m.1-28.6h0m.1 43.1h0m.3 19.7h0m.2-49.4h0m1.7 148.2h0m8.9-6.1h0m2.9-128.4h0m.1 26h0m.5-48.6h0m.2 10h0m.9 33.1h0m4.8 124.2h0m.4-54.7h0m0 118.2h0m.1-102h0m.1 11.8h0m.2 73h0m.1 31.9h0m.1-92.2h0m.1 106.6h0m0-78.6h0m0 17.8h0m1-235.8h0m22.5 36.4h0m2.8 103.7h0m.6-125.9h0m57.7 224.9h0m.2-44.5h0m.3 21.4h0m0-4.1h0m42.7 114.8h0m.3-88.8h0m.1-29.5h0m.2 89.3h0m0-37.3h0m0 102.2h0m0-207.9h0m.1-35.2h0m0-44.5h0m.1 102.7h0m.1-175.1h0m0 92.2h0m8.3 41.5h0m5.8 52.6h0m0-29h0m.5-28.8h0m.1 47.6h0m.1-99.6h0m23.5 123.3h0m.1 17.6h0m.2 15.9h0m0 14.7h0m0-118.9h0m.1 27.6h0m.1 28.9h0m.1 106.3h0m0 33.2h0m.1-156.5h0m0 103h0m.1 85.2h0m20-270h0m0 22.1h0m0 25.5h0m0-60.7h0m.1 48.5h0m.3-63.5h0m45.2-42.8h0m11.2 156.4h0m0 11.7h0m.2-29.4h0m25.9-126.2h0m13.1 155h0m.1-81.5h0m.4 197.3h0m.2-168.5h0m.5 30h0m0-88.8h0m.1 151.5h0m.2 74.3h0m1-92.8h0m.5-136.1h0m.1 88.2h0m.5-61.1h0m.2 29h0m18.7-15.5h0m16.1 38.8h0m.1 43.8h0m7-22h0m.4 26.5h0m.4-88.8h0m.6-28h0m.2 62.1h0m5.2 39.4h0m.1-70.6h0m1.8 85.6h0m.4-25.1h0m.1-106.9h0m.1 40.3h0m.1 124.1h0m1.7 30.2h0m.2-121.4h0m.4 9.1h0m.2 39.3h0m.1-146.6h0m.2 69.8h0m5.5 115.5h0m.4-59.2h0m.6-64.4h0m.2-46.6h0m.8-7.2h0m0 171.4h0m.1-123.9h0m1.1 60.6h0m20.2 91.4h0m.1-148.4h0m0 87.9h0m.3 14.9h0m.1 31h0m.1 30.4h0m.1-46.1h0m34-180.3h0m.1 28.4h0m.1 65.7h0m27.4-10.7h0m6.8 14.5h0m.4-20.9h0m0-66.3h0m.1 12.9h0m.1 39.6h0m.1-22.9h0m0 14.3h0m4 27.2h0m1.9-49.9h0m.2-15.4h0m.3 23.8h0m.3 33h0m0-20.5h0m.3-68.9h0m.5 16.6h0m.1 88.1h0m3.3 104.6h0m1.7-171.4h0m.6 23.3h0m.3-46.6h0m.1 25.5h0m.5 41.4h0m3.5-48.6h0m.6 26.2h0m37.3 110.4h0m12.4-6.3h0m12.2 95.1h0m16.8 52.8h0m147.1-209.2h0"/><path id="HF1" d="M139.1 174.4h0m6.6 232.3h0m0-25.5h0m2.2-146.7h0m1.7 184.7h0m3.8-8.8h0m3.4-171.1h0m19.2-34.6h0m1.1-37.5h0m.9 70.2h0m.4-5.9h0m9.3 192h0m.5 53.2h0m4.9-300h0m34.2 64.9h0m5.1 146.5h0m1.8 112.6h0m.1-27h0m.3-74.3h0m.1 116.8h0m.1-83.3h0m.1 13.7h0m.6 90.7h0m0-80.3h0m.1 32.5h0m.1-74.4h0m.1 187.4h0m2.4-369.5h0m.2 135.2h0m0-70.8h0m.4 14.7h0m.1-107.4h0m.1 43.3h0m.3 20h0m.1-49.7h0m.2 67.5h0m13.4-76.9h0m.1 154.3h0m.2-128.1h0m.1 22.9h0m.7-.3h0m.2-34.7h0m4.6-13.8h0m.9 231.4h0m.4-32.6h0m.1-16.5h0m0 63h0m0-77.4h0m.1-54.3h0m0 15.7h0m.1 13.6h0m.1 72.3h0m.1-61.6h0m.2 106.3h0m22.3-257h0m3.6 113.1h0m1.8-127.6h0m56.3 213.8h0m.4-22.3h0m.3-19.7h0m.5 19.9h0m42.7 109.7h0m.1-64.9h0m.1-258.5h0m.1 153.6h0m0 52.4h0m0-113.5h0m.1 205.6h0m0-226.4h0m0 294.4h0m.1-249.4h0m.1 57.8h0m.1 63.1h0m8.4-96h0m5.9 33.8h0m.1-98.6h0m.1 109.2h0m0-29.3h0m.4-26.7h0m23.5 102.8h0m0-16.1h0m.2-16.6h0m.1-12.7h0m0-52.6h0m.1 224.1h0m0-202.8h0m0 135.2h0m.1-20h0m0 53.1h0m.2-77.1h0m0-79h0m20.1-58.5h0m0-51.8h0m0 16.6h0m.1 59.5h0m.1-46.9h0m.3 34.3h0m45-103.3h0m10.9 165.2h0m.2-29.5h0m.3 18.2h0m26.3-143.9h0m11.9 154.5h0m.2 44.9h0m.1-126.4h0m.2-30.1h0m.1 61h0m1.3 167.2h0m.2-138.9h0m.3 45.6h0m0-42.4h0m1.5-95h0m.1 55.5h0m.2-28.9h0m19 14.5h0m.2-57.3h0m15.9 139.8h0m.4-43.3h0m6.7 20.6h0m0 27.3h0m.3-55.5h0m.9-56.2h0m.5 22.4h0m5.5 4.1h0m.4 71.2h0m.9 46h0m1.5-162.8h0m.2 38.2h0m.5 67.1h0m.1 24.2h0m.2 64.1h0m.4-122.7h0m.5-27.5h0m.1 76.6h0m.2-131.4h0m1.5 92.6h0m4.5-45.8h0m.5 65.2h0m.6-109.4h0m.3 166.7h0m.3-127.5h0m.1 58.1h0m.6-104.7h0m.6 168.5h0m20.2 13.4h0m0-44.6h0m.1 13.4h0m0 15.1h0m.2 52.6h0m0-21.7h0m.1-139.2h0m34.2-71.4h0m.2 29.2h0m14.6 23.3h0m12.5 32.4h0m7.3-74.3h0m.1 87.8h0m.2-74.2h0m0 30.6h0m.2 23.6h0m0-38.8h0m.1 23h0m3.3 19.1h0m2.3-98.4h0m.3 69.6h0m.3-51.6h0m.8 38.6h0m.1-23.7h0m.2 15.3h0m.1 42h0m2.2 120.8h0m2.4-172.4h0m.4-39.8h0m.5 16.9h0m.5 66.7h0m.2-20.7h0m.1-20.5h0m3.4 18.2h0m.7-25.2h0m35.1 137h0m15-3.5h0m28.6-45.4h0m87.6-66.6h0m59.8 51.6h0"/><path id="HF2" d="M139.2 175.6h0m5.2 231.4h0m.4-25.4h0m3.5-118.1h0m1.1 158.8h0m4.4-8.9h0m.8-162.7h0m21-83.3h0m1.7 70.2h0m.2-32.8h0m.9 28.8h0m9.9 194.6h0m0 50.9h0m5.2-296.3h0m33.3 64.7h0m6.8 303.2h0m.9-116.8h0m0 84.8h0m.1 87.1h0m.1-116.1h0m.2 11.6h0m.2-54.5h0m.4-47.3h0m.1 16.5h0m0 58.5h0m.1 63.1h0m.1-80.3h0m2.5-86.8h0m.1-152.2h0m.1 31.3h0m0 36.6h0m0-17.8h0m.1 29.5h0m0-64.4h0m.1 78.7h0m.5-106.9h0m11.4 160h0m2.5-107h0m.4-48.1h0m.2 25.2h0m1.1-11.4h0m1.7 36.1h0m2.8-8h0m.5 125h0m.1 31h0m0-55.6h0m0 102.1h0m0-91.7h0m.1 79.4h0m.2-103.7h0m.2-14.6h0m.3 69.6h0m.1 77.4h0m0-46.3h0m21.3-207.1h0m5.2 136.7h0m2.1-152.5h0m56 188.3h0m.2 21.5h0m.3-42h0m.2 21.3h0m42.6 108.8h0m.2 43.5h0m.1-189.7h0m0 29.4h0m.2-205.3h0m.1 259.2h0m.1-106.4h0m0 143.4h0m0-224.8h0m.1 164.3h0m.1-143.5h0m0 26.6h0m8.1 29.6h0m6-19.3h0m.1 26.4h0m.4 18.4h0m0-97.2h0m0 107.9h0m23.7 .8h0m.1 179.9h0m0-95.5h0m0-102.4h0m.1 64.3h0m0-16h0m.1 29.7h0m.1 47h0m.3-153.9h0m0 60.1h0m.1-44.3h0m0 168.3h0m20.1-213.4h0m.2 23h0m.1-46.6h0m.2-12.5h0m0-16.7h0m0 63.2h0m44.7-91.6h0m11.3 142.4h0m0-16.8h0m.1 28.6h0m38.2-23h0m.4 22.3h0m.1-81.6h0m.9 30.3h0m.3 98.7h0m0-159h0m0-38.5h0m.4 277.7h0m1-95.9h0m.2-146h0m.9 27h0m.2 69.1h0m.2-38.6h0m18.8-16.3h0m.4-57.4h0m16.2 97.8h0m.1 42.4h0m6.3 4.2h0m.1-87.8h0m0 59.9h0m1.1-82.6h0m.3 55.9h0m5.8-22.8h0m.6 68.3h0m.6-83.3h0m.4 90.5h0m.5 35h0m.4-93.1h0m.6 122.5h0m.3-87.1h0m1-106.5h0m.6 121.5h0m1.2-75.8h0m.4 36h0m.3-86.5h0m4.1 41.8h0m.4-44.5h0m.7 167.8h0m.3-59.1h0m.5 54.3h0m.7-119.7h0m.3 54h0m.8-104.8h0m19.4 196.3h0m.2-15.7h0m.1-124.6h0m0 165.8h0m0-85.9h0m.3 28.4h0m.1-14.5h0m34-161.6h0m.5 25.6h0m14.5 53.9h0m12.7 1.9h0m6.8-29.8h0m0 23.9h0m.1-39.4h0m.2 59.1h0m.2-32h0m0-39.7h0m.3-16.3h0m3.9 72.8h0m1.9-67.3h0m.1-32.2h0m.4 47.8h0m0 42.1h0m.1-20.8h0m.6-51.8h0m.5 38.5h0m1.9 161.5h0m2.9-179.4h0m.2-39.2h0m.5 16.5h0m.4 47.2h0m.1-21.9h0m3.6-6.8h0m.2-27.2h0m.6 52.6h0m38.2 117.2h0m12 8.3h0m28.4-59.6h0m146.9-17.7h0m.5-66.6h0"/><path id="HF3" d="M138.7 186.5h0m7 220.8h0m0-24.8h0m2.9-118.6h0m.9 158.8h0m4.1-4.2h0m4.1-167.6h0m18.1-45.7h0m.7-31.7h0m.3 66.6h0m1.2-.4h0m9.8 188.8h0m.1 60.2h0m5-303.5h0m34.1 66.1h0m6.6 323.5h0m.8-73.5h0m.1-11.6h0m0-15h0m.1-27.9h0m.4 91.3h0m.1-138h0m.3 57.3h0m0-23.3h0m.2 84.7h0m.1-102.1h0m2.8-45.2h0m.3-178.2h0m0 40.6h0m.1 64.3h0m0-48h0m.1-44.9h0m.2 13.2h0m0 50.8h0m.2 43.7h0m.1-26.3h0m13.4 79.1h0m.7-128.2h0m0 21.2h0m.4-47.5h0m.4 13h0m.5 36.9h0m4.5 5.9h0m.4 72.1h0m.2 132h0m0-118.6h0m.1 102.1h0m.2-76.9h0m0 47.1h0m.1-30.2h0m.4 48.2h0m0-118.9h0m0 85.2h0m.2-46.2h0m22.5-145.2h0m3.3 142.7h0m.1-153.2h0m58.5 205.1h0m.1-22.1h0m.4-20.5h0m.4 27h0m42.5 147.1h0m.1-189.4h0m0 82.3h0m.2-140h0m0-25.9h0m0 229.3h0m.1-317h0m0 291h0m0-143.2h0m.2-81.9h0m.1 134.1h0m.1 30.2h0m8.1-74.7h0m5.9-4.4h0m.4 29h0m0-104.9h0m.2 50.4h0m.1 43.8h0m23.6 94.8h0m0 53.9h0m.1-181.6h0m0 150.6h0m0-46.8h0m0-47h0m.3-42.7h0m.1 216.2h0m0-204.7h0m.1 17.9h0m0 46.2h0m0-15.8h0m20.2-157.7h0m.3 62h0m.1 12h0m.1-22.6h0m.1-35.7h0m.1 12.5h0m44.6-39.1h0m11 123.1h0m.2-14.2h0m.6 26.3h0m37.8 51.1h0m.2-100.8h0m.2 27.4h0m1-60.4h0m0-29.1h0m.2 110.8h0m0 135.2h0m.1-283.3h0m1.1 36.6h0m.2 24.6h0m.5 70.8h0m.3 48.3h0m.9-86.5h0m18.7-18.4h0m.1-53.2h0m16.4 93.2h0m.1 45h0m6.8-86.1h0m.1-22.9h0m.8 82.8h0m.4-25.7h0m.2 53.5h0m5.6-76.7h0m.2 69h0m1.2 42.1h0m.6-34.4h0m.1-60.1h0m.3-67.2h0m.2 35.3h0m.4 156h0m.6-88.2h0m1.2-24.6h0m1-83.3h0m.6 47.5h0m.5 80h0m3.6-134h0m.4 111.4h0m.3-67h0m.1 124.5h0m1.5-71.4h0m.4-54.2h0m.9-50.9h0m.2 173.2h0m19.7-8.7h0m.1 58.5h0m0-86.7h0m.1 44.4h0m0-30.9h0m.3-90.2h0m.1 137.1h0m33.9-207.4h0m.1 26.6h0m14.9 52.8h0m12.4 14.8h0m7.3-17.1h0m.2-70.9h0m0 44.8h0m.3-15h0m0-13.5h0m.1 39.8h0m.1 32.1h0m3.8-12.3h0m1.8-101.9h0m.4 89.3h0m0-33.6h0m.3-39.1h0m.2 52.3h0m.1-37.1h0m.9 15.4h0m2.3 169.4h0m2.4-216h0m.3 36.7h0m.6 2.7h0m.5 23.4h0m.1-48.8h0m3.6 44.7h0m.9-53.4h0m.3 27h0m34.5 152.2h0m15.3 10.6h0m28.2-51.1h0m147.1-37.4h0m.4-67h0"/><path id="HF4" d="M138.8 191.8h0m5.9 192.5h0m.6 26.3h0m4.3 12.5h0m.4-42.9h0m.4 38.8h0m3.8-163h0m22.4-15.5h0m.5-63.3h0m.1 29.9h0m.9 39.1h0m9.7 182.8h0m.5 68.6h0m4.7-304.4h0m33.9 58.5h0m7.1 340.5h0m.4-157.9h0m.1 41.5h0m.3-27.9h0m.4 71h0m.1-14.7h0m.3-14.2h0m0 48.6h0m.1-138.1h0m.1 16.5h0m.1 43.6h0m2.5-147.2h0m.1-61.7h0m.1-32h0m.5 50h0m.3-76.2h0m0 104.8h0m.4-63.6h0m0-28.3h0m0 80.4h0m1.4 93.8h0m12-168.1h0m.1 25.4h0m.3 136.3h0m.2-114.9h0m.6 4.5h0m1.9-36.6h0m3.9 97.6h0m.1 119.5h0m0-80.2h0m.1 31h0m.1 30h0m0-85.4h0m.2 13.1h0m0 119.9h0m.1-94.9h0m.2 77.7h0m.2-46.1h0m.6-127.1h0m22.8-54.7h0m2.4 135.6h0m1.5-152.9h0m56.7 202.3h0m.5-42.4h0m.1 20.6h0m.3 7.1h0m42.9 15.9h0m0 60.9h0m.1-203.7h0m0 231.8h0m0-117.2h0m0-29.3h0m.1-58.3h0m0 252.9h0m.1-301.2h0m0 82h0m.2-147h0m.1 252.7h0m8.2-93.5h0m6.2-80.9h0m.1 72.2h0m.1 17.9h0m0-36.6h0m0 47.4h0m23.7-.4h0m.2-29.3h0m0 59.4h0m0 108h0m0-124.6h0m0-30.4h0m0 210.8h0m.1-109.1h0m0-37.5h0m.1 59.8h0m.1-150.4h0m.1 104.5h0m20.2-172.9h0m.2 35.6h0m.2-50.9h0m.2 27.7h0m0 34.6h0m.1 11.1h0m55.5-143h0m.4 182.9h0m0 12.1h0m.5-27.1h0m38.1-86.2h0m.4 63.4h0m.3-33.8h0m.4 134.5h0m.3 81.7h0m.5-156.2h0m0-124.1h0m.2 151h0m.6 27.4h0m.5-143.2h0m.2 23h0m1 33.3h0m.2 37.9h0m18.7-106.6h0m.4 59.2h0m15.3 78.3h0m.1-45.9h0m7.1-7.6h0m.1-35.3h0m.2 60.6h0m1.3 27.8h0m.2-111.2h0m4.7 34.2h0m0 73.2h0m2.5-123h0m.7 127.8h0m.1 66.5h0m.2-159h0m0 32.5h0m.5 96.6h0m.6-62.5h0m1.5-23.9h0m.5-36.4h0m.3-44.6h0m0 124.5h0m4.6 37h0m.1-170.7h0m.4 46.8h0m.9 64.3h0m.6-63.5h0m.1 118.4h0m.7-170.8h0m0 103.1h0m20.5 30.2h0m.4 28.2h0m0 32.6h0m.2 28.2h0m.1-75.7h0m0 31.6h0m.1-120.2h0m33.9-43.8h0m.4-27.9h0m14.2 81.6h0m13.1 14.8h0m6.8-60.6h0m0 26.5h0m.1-55.9h0m0 16.3h0m.2 28h0m0 27.9h0m.5 15.5h0m3.9-12h0m1.7-46.3h0m.2-21h0m.6 54.5h0m0-20.3h0m.3-21.8h0m.1-29.7h0m.3-17.4h0m2.9 220.9h0m2.4-180.6h0m.2-39.5h0m.6 62.5h0m0-23.1h0m.5-25.8h0m4.7-8h0m.5 55.7h0m.2-29.3h0m36.2 155.4h0m12.9 9.6h0m28.3 25.6h0m147.4-181.3h0m.1 68.7h0"/><path id="HF5" d="M141.9 194.3h0m3.1 190.3h0m.8 27.6h0m3.4 16.5h0m.7-47.7h0m3.2 40.7h0m3.7-163.3h0m19.5-81.1h0m.3 30.7h0m.4 33.2h0m1.1 5.5h0m9.7 255.3h0m0-69.3h0m2.2-206.3h0m36.9 25.5h0m7.4 209.7h0m.2-13.6h0m.1 28.5h0m.1 13.7h0m.2-72.9h0m.3 19.3h0m.2 82.4h0m0-165.9h0m.5 47.9h0m.1 104.6h0m.5 37.6h0m2-244.7h0m0-46.5h0m.1-15.6h0m.1 34.3h0m.1-64.1h0m.6 80.3h0m.2-93.1h0m.2 26.5h0m0 93.4h0m1 68.9h0m12.2-143.7h0m.3 21.6h0m.2 118.8h0m.4-166.5h0m.9 52.6h0m.2-37.4h0m4.9 197.3h0m0-15.6h0m.1-84.7h0m.5 149.4h0m.1-29.8h0m.1-80.5h0m.2 14.4h0m.1-68.3h0m.1 43h0m.1 43.3h0m0 59.3h0m0-116h0m24-111.4h0m1 138.3h0m1.9-148.2h0m57.1 152.9h0m.1 41.3h0m.6-20h0m.4 6.2h0m42.4 78.7h0m0 25.3h0m0 55.1h0m.2-259.6h0m.2 115.6h0m.1-26.9h0m0-114.9h0m.1-86.6h0m.1 146.9h0m0 107.7h0m.2-189.4h0m.1 106.7h0m8.4-99.1h0m5.6 78.4h0m.5 27.6h0m.1-44.9h0m0-50.9h0m.1 85.5h0m23.5-7.3h0m0 154.8h0m.1-167.2h0m0 234.7h0m0-158h0m0 14.8h0m.1-31.8h0m.1 55.8h0m0-129.3h0m.2 45.7h0m.3 105.1h0m0-94.4h0m20-66.9h0m.2-21.6h0m.1-23.4h0m.2-13.1h0m.1 47.7h0m0-62.5h0m56 112.6h0m.1-31.3h0m.3 17.7h0m2.7-125h0m35.1 3.7h0m.8 98.6h0m.6-64.7h0m.3 90.7h0m.2-60h0m.1 233.3h0m.3-98.2h0m.1-47.1h0m.2-23.3h0m.7-33.9h0m.1 87h0m1-147.9h0m.4 27.1h0m18.8-39.1h0m.2 59h0m15.9 81.3h0m.5-47.3h0m6.3 43.9h0m1.2-52.2h0m0 25.3h0m.3-60.6h0m.4-23.8h0m4.8 108h0m.6-70.1h0m1 49.4h0m.2-33.7h0m0 61.8h0m.2-94.1h0m.8 157.5h0m.3-29.8h0m1-164.7h0m1.3 121.9h0m.1-79.5h0m.6-43.3h0m1.6 80h0m3.9-89.2h0m.2 44.9h0m.8 127.3h0m.1-62.4h0m.8-11.7h0m.6 68.6h0m.4-115.6h0m.5-57.5h0m19.7 161.7h0m0-28.8h0m.1-73.8h0m.2 87.6h0m0 47.1h0m.1-15.6h0m.3 43.6h0m34.3-235.4h0m.2 28.8h0m14.6 52.6h0m12.2 16.3h0m7.4-62.4h0m0-12.7h0m0 27.9h0m.2 44.6h0m0-89.4h0m.2 56.2h0m.2 16.4h0m3.6 4.3h0m2.3-84.8h0m.1 28.9h0m.5 22.6h0m.2 19.6h0m.2-54.4h0m.2 21.2h0m0-56.2h0m1.7 232.7h0m3.7-229.8h0m.1 38.7h0m0 22.2h0m.4-47.8h0m.6 24.1h0m3.8 22.4h0m.1-55.8h0m1.1 32.7h0m37.3 157.3h0m9.4 17.3h0m31.3 39.6h0m146.8-141.4h0m0-69.8h0"/><path id="HF6" d="M139.6 199.8h0m5.3 186h0m.2 26.5h0m4.3 19.5h0m.1-48.3h0m4.4 38.8h0m.2-156.6h0m21.5-87.3h0m1.2 64.1h0m.4-34.5h0m1.2 39h0m9.2 256.1h0m.4-66.8h0m4.8-179.2h0m33.9-3.5h0m7.4 165.4h0m.1 101.5h0m0-14.9h0m.3-28.4h0m.5-40.2h0m.1 24.7h0m.3-13.6h0m.1 42.6h0m.1-86.6h0m.3 142.6h0m1.9-183.8h0m.2 20.6h0m.2-69.8h0m.2-60.1h0m.1 45.5h0m0-11.6h0m.2-93h0m.1 26.4h0m.1 51h0m.1-65h0m.5 31.7h0m13.9-24.5h0m.3 48.9h0m.2-21.8h0m.3-12.7h0m.6 37.3h0m1.4-82.5h0m3.6 170.1h0m.1 25.6h0m.1 17.9h0m.3-56.7h0m.2 117.6h0m.1-47.7h0m.1 15.9h0m.1 48.9h0m0-149.9h0m.2 119.8h0m0-134.3h0m.3 54.8h0m23.5-134.8h0m1.4 142.3h0m.4-149.6h0m58.5 169.7h0m0-20.5h0m.3 40.3h0m1-13.5h0m42.4 78.8h0m.1 25h0m0-170.1h0m.2 81.2h0m.1-163h0m0 307h0m.1-199.8h0m.2 30.4h0m0 52h0m0-250.3h0m.1 114.1h0m0-32.3h0m8.6-2.2h0m5.5 68.1h0m.1 16.1h0m0-34.6h0m.1-50.6h0m.2 95.5h0m23.9 14.4h0m0-12.4h0m.1 83.4h0m0-54.6h0m0-74.4h0m0 185h0m.3-170.9h0m0 91.1h0m.2 46.9h0m.1-61.1h0m0-64.9h0m19.9-36.4h0m.1-21.8h0m.1-36.8h0m.1 13.5h0m0-27.9h0m.2 63.6h0m.2-80.6h0m55.8 130.5h0m.3-32.6h0m.2 18.4h0m2.3-123.8h0m35.8 36.8h0m.4-33.1h0m0 151.7h0m.4-87.9h0m.2 60.5h0m.6 74.2h0m.2 99.5h0m.1-201.2h0m.6-34.8h0m.6-28.6h0m.1 152.7h0m.5-92.4h0m.3 35.7h0m19.6-108.5h0m0 60h0m15.8 34.1h0m.1 52.8h0m6.9-37h0m.5-54.9h0m.1 81.8h0m.3-51.5h0m.6-59.7h0m6.3 39.8h0m0 70.3h0m1.1 9.1h0m.1-65.7h0m.4 33.9h0m.2 91.2h0m.1-25.8h0m.6-130.9h0m1.4-37.7h0m1.8 122.1h0m.2-43.1h0m.3-36.7h0m.2-38.7h0m4.7 32.7h0m0 126h0m.4-60.6h0m.1-111.1h0m.9 99.4h0m.4-47.6h0m0-57.8h0m.6 178.2h0m20.1-76.8h0m.2 44.5h0m.2 31h0m0-16.1h0m.1 32.1h0m0-60.4h0m.2 90.6h0m34-237.7h0m.2 31.3h0m14.6 51.9h0m12.8 14.9h0m6.9-19.8h0m.1-42.2h0m.1 14.4h0m.1 45h0m.1-72.7h0m.2-17.1h0m0 57.3h0m3.6 20.6h0m2.2-86h0m.4-17.6h0m.1 89.2h0m.6-19.9h0m.3-22.8h0m.2 10.3h0m.1-22.4h0m3.3 205.4h0m1.4-237.4h0m.1 40h0m1.2-25.9h0m.2 46.9h0m.4-21.8h0m3.9-33.9h0m.1 56.8h0m.2-25.2h0m38 158.5h0m11.5 18.3h0m28.8 60.9h0m146.8-165.1h0m.3-70.2h0"/><path id="HF7" d="M141.8 201.6h0m3.1 186.1h0m.5 27.1h0m4.1-30.5h0m.1 48h0m1.4-9.4h0m3.8-27.3h0m21.1-216.5h0m1.2 30h0m.6 34.5h0m6.1-49.8h0m3.8 243.2h0m.4 67.4h0m2.2-237.3h0m36.7-12.2h0m7.5 137.3h0m.1 131.7h0m.1-62.2h0m.2-24.7h0m.4 70.2h0m.1-87.9h0m.1 128.6h0m.1-70.4h0m.2 13.6h0m0-86h0m.1 43.4h0m2.5-160.3h0m.1 25.8h0m0-13.7h0m.4-79.4h0m.1 17.8h0m.1-31h0m.2-13.2h0m.1 77.9h0m.2-18.6h0m10.3-50.6h0m3.3 11h0m0 27.9h0m0 21.7h0m.9-66.4h0m.2 68.6h0m.3-36.6h0m5.6 197.2h0m0-72.9h0m.1 43.4h0m0 61h0m.1-92.4h0m.1 45.4h0m.5 63.9h0m.1-133.7h0m.1 103.5h0m.1-64.6h0m0-68.8h0m0 13.9h0m24.5-91.9h0m.7 141.9h0m1.5-149.7h0m57.6 169.3h0m.1-21.2h0m.4-24h0m0 50h0m43-95.1h0m0 53.9h0m0 120.2h0m.1-89.5h0m.1-115.8h0m.1 289.9h0m0-370.7h0m0 312h0m0-253.1h0m.1 162.6h0m0-79.1h0m0 105.7h0m9-170.4h0m5.2 94.5h0m0-92.6h0m.4 82.1h0m.2-34.4h0m0 18.3h0m23.8 57.6h0m0 110.2h0m.2-93h0m.1-90.8h0m.1 13.9h0m.1 140h0m0-129h0m0 79.3h0m0 23.9h0m.1-70.5h0m.1-13h0m20-99.4h0m.1 21.6h0m.1-50.8h0m0 63.4h0m0 9.3h0m.1-88.7h0m.3 30.3h0m55.8 84.5h0m.1 14.1h0m.6-31.7h0m2-102.4h0m35.8 35.9h0m.9 88.8h0m.8-25.3h0m0-33.4h0m.1 86.4h0m.1 147.9h0m.3-99.2h0m0-197.1h0m.3 29.3h0m.2 154.9h0m.1-58.1h0m1.1-68h0m.7 33.9h0m18.9-14.7h0m.4-57.9h0m15.4 91.4h0m.6 55.8h0m6.8-94.8h0m0 54.9h0m0-22.6h0m.4-59.9h0m1.1 110.4h0m4.9-67.6h0m.8 69.1h0m1.2 65.5h0m1.6-26.3h0m.2-163h0m0 64.1h0m.1-31.8h0m.9 67.8h0m.3 29.5h0m.8-130.5h0m.4 39.5h0m.3 78.3h0m.1-43.6h0m4.8 30.9h0m.4-69.9h0m.6-49.1h0m.1 172.3h0m1.4 .1h0m0-177.1h0m.4 113.1h0m.5-56.3h0m19.9 119.9h0m0-71.4h0m.1 55.5h0m.2 62.6h0m0-78.1h0m.3-13.7h0m0 59.6h0m34.1-205.9h0m.2 30.9h0m14.9 54.7h0m12.6 11.1h0m6.7-47.8h0m0 45.7h0m.1-72.4h0m0 55.1h0m.3-15.6h0m.2-57.2h0m.1 30h0m4 47.7h0m2-33.2h0m.2 19.3h0m0-71.3h0m1 38.2h0m.2-56.8h0m0 46.9h0m.2-12.4h0m4.5-29.6h0m.1 43.4h0m.5 193.1h0m.4-224.7h0m.6 25h0m.2 21.8h0m4.1-24.1h0m.3-31.7h0m.2 57.1h0m37.5 158.5h0m11.9 3h0m28.4 58.8h0m147.2-171.3h0m.4-67.4h0"/><path id="HF8" d="M141.9 204.6h0m3.1 183.9h0m.4 29.8h0m3.9 17h0m.4-47.1h0m.5 36.3h0m4.3-24.3h0m21-220h0m.4 30.3h0m1.2 33.4h0m7.4-43.7h0m3.2 240.8h0m.3 64.8h0m8-316.9h0m31.3 73.5h0m7.2 129.9h0m.3 14.3h0m.1 84.8h0m.1-71.9h0m.1 104.5h0m0-62.1h0m.3 45.4h0m.1-69h0m.1 11.2h0m0 103.2h0m.3-72.5h0m2.4-191.7h0m0-33.7h0m.1 59.9h0m.1-106.4h0m.4 13.3h0m.1 51.3h0m.1-78.3h0m.3 44.5h0m.3 61.5h0m7.8-57.3h0m5.5-.6h0m.1-26.9h0m.6 49.8h0m.5-67.1h0m.5 67.8h0m.2-35.7h0m5 180.6h0m0-29.7h0m.1 16.4h0m.1 77.3h0m.1-30.1h0m0 13.6h0m.3-104.9h0m.3 74.5h0m.2-62.3h0m.1-24.6h0m.1-15.8h0m.1-13.7h0m22.8-76h0m2.7-9.9h0m58.5 169.8h0m.4-21.6h0m.2-24.9h0m.2 1.6h0m.2 53.3h0m42.7 101.2h0m0-145.9h0m.1-164.5h0m0 58.7h0m0 228.1h0m.1 90.4h0m0-267h0m.1 141.4h0m.1-31.8h0m0-78.9h0m.1 54.6h0m0-116.9h0m8.5-.8h0m5.7 81.7h0m.1-79.1h0m.4 89.6h0m0-26.4h0m.1-17.4h0m23.7 74.7h0m0 31.6h0m0-13.7h0m.1-33.3h0m.1 125.8h0m.1-27.1h0m0-142.8h0m.1-14.1h0m.1 44.8h0m0 83.5h0m.1-102.9h0m20.2-45.9h0m.2-33.6h0m0 43.3h0m.1-72.9h0m.1 14.5h0m0-30.7h0m.1 67.2h0m56.1 61.5h0m.3-13.8h0m0-16.6h0m8.1-95.7h0m29.7 1.3h0m0 90.3h0m.9-61.8h0m.6 163.4h0m.1-134.6h0m.2 240.8h0m.4-181.9h0m.3 27h0m.2-117h0m0 155.3h0m.3-127.3h0m0 32.6h0m1.3 36.6h0m19.3-108.6h0m.1 60h0m16.1 32.2h0m.2 54.5h0m6.9-10.1h0m0-112.3h0m.2 83.2h0m0-55.7h0m.9 34.8h0m5.1-19.2h0m.9 69.5h0m.5-59.6h0m.3-28.6h0m.3 127.5h0m1.8-158.9h0m0 185.1h0m1.3-59.4h0m0-30.1h0m1 17.3h0m.8-79.2h0m.4-33.1h0m.2 70.7h0m4.4-41.6h0m.2 122.8h0m.3-171.7h0m.2 125.6h0m1.1-73.2h0m.3-55.7h0m0 175.7h0m.6-55.9h0m20.3 54.9h0m0-31.1h0m0-38.8h0m.1 118.4h0m.3-93.6h0m.1 60.4h0m0-29.8h0m34.3-144.9h0m.2-27.5h0m14.1 81.2h0m12.8 15.1h0m7.3-5.9h0m.1-17.3h0m.2-72.7h0m0 57h0m.2-27.4h0m0-12.1h0m0 27.1h0m3.5 33.3h0m2.9-47.3h0m.4-21.9h0m.1 55.9h0m.3-44h0m.4-47.1h0m0 20.2h0m.1 51.4h0m4.7-65.8h0m.1 44.5h0m.3-32.9h0m.2 46.5h0m.2-68.1h0m.4 45.9h0m3.9 .2h0m.8-34.1h0m.9 57.1h0m34.2 159h0m15 3.4h0m28.3 62.7h0m146.9-175.6h0m.1-60.9h0"/><path id="HF9" d="M139.2 207.1h0m4.9 183.2h0m1.9 28.3h0m3.5-30h0m1 37.7h0m.3-245.6h0m4.1 223.3h0m21.6-192.8h0m.4 36.2h0m.5-65.4h0m6.4 57h0m4.1 206.1h0m.3 66.1h0m10.8-324.2h0m28.1 75.6h0m7 261.8h0m0-74.5h0m0 103.4h0m0-88.8h0m.5-44h0m0 61.1h0m.5-74.5h0m.2 31.5h0m.1-46.2h0m.4 99.2h0m0 15.8h0m2.6-192.1h0m.1-75.7h0m.1 16.1h0m0-46.9h0m.1 91.8h0m0-27.3h0m.4-78.4h0m0 26.8h0m.5 67h0m7.6-10.7h0m5.9-62.2h0m.2 29.8h0m.4 20.3h0m.3-32.1h0m.7 32.6h0m.2-66.3h0m5 141.5h0m.1 12.7h0m.3 74.8h0m.2 46.4h0m0-149h0m.3 85.5h0m0-45.8h0m.1-54h0m.1 70.5h0m0 76.1h0m0-12.3h0m.2-47.4h0m22.2-159.8h0m4.2-4.5h0m57.4 161.1h0m.2-19.5h0m.5-26.8h0m.3 2.6h0m.5 53.2h0m42.4 100.6h0m0-21.6h0m.1-123.8h0m.2 220.2h0m.1-382h0m0 216.1h0m0-159.6h0m.3 80.9h0m0 110.9h0m0-173.1h0m.1 116.9h0m0-84.8h0m8.4-18.7h0m5.7 78.1h0m0-88h0m0 77.2h0m0-33.3h0m.3 17.6h0m23.9 58h0m.1 110.9h0m0-57.2h0m.1 30.1h0m0-112.9h0m.2-30.8h0m0 77.8h0m0 13.9h0m.2-106.5h0m0 59.5h0m.1-33.8h0m20.2-94.8h0m.1-14.5h0m0 63.1h0m.1-11.8h0m.1 23.1h0m.1-43.1h0m.1-45.1h0m56.1 126.3h0m.1-13.1h0m0-17.2h0m8.5-151.7h0m29.6 59h0m.4 26.8h0m.8 166.3h0m.2 121.3h0m.2-198.8h0m0-56.1h0m0 30.8h0m.2 53.5h0m.6-21.8h0m.1-35.5h0m.6 97.4h0m.2-131h0m.4-27.7h0m20-10.5h0m.2 62.5h0m15.3 97.4h0m.7-67.8h0m6.6 44.7h0m.1-28.9h0m.1-85.3h0m.4 28.4h0m.1 37.5h0m5.7 53.4h0m.2-70.8h0m1.6-23.2h0m1.8 153.4h0m0-26.9h0m0-61.4h0m.8-94.3h0m.2 57.4h0m0 66.4h0m1.7-90.2h0m.2-35.6h0m.4 72.1h0m.1 41.1h0m5-84h0m.5 76.3h0m.3-122h0m0 168.6h0m.6-52.2h0m.7-118.7h0m.5 170.9h0m.8-117.3h0m19.4 117.2h0m0-14.2h0m.2-31.6h0m.2-23.9h0m.1 38.3h0m.1 46.1h0m0 37.9h0m34-237.7h0m.1 25.1h0m15.3 55.8h0m12.5 18.2h0m6.7-43.7h0m.1-57.8h0m.2 44.7h0m.1 45.4h0m.1-13.9h0m.2-58.4h0m0 14.3h0m3.8 47.5h0m2.4-32h0m.2-16.7h0m.3-9.9h0m.3-12.1h0m.1-14.5h0m.2 71h0m.1-89h0m4.7 49.1h0m.5-45.2h0m.7 38.2h0m.2-27.2h0m.1 48.9h0m.1-67.7h0m3.7 67.1h0m.6-23.8h0m.6-33.5h0m40.6 146.1h0m5.6 103.5h0m31.7 33.7h0m147-177.4h0m.6-56.9h0"/><path id="HF10" d="M141.9 209.5h0m3.4 210.3h0m.6-28.6h0m3.6 3.3h0m1.4 33.1h0m.6-243.7h0m3.3 233.3h0m21.4-205.7h0m.1-29h0m.4 68.2h0m7.7-2.8h0m3.4 198.5h0m.5 66.2h0m10.5-312.9h0m28.3 69.5h0m7.1 255.5h0m.1-117.6h0m.1 43.3h0m.4 57.5h0m.1-68.4h0m.1-46.9h0m.3 28.6h0m.5 136.4h0m0-75.9h0m.1 10.9h0m0-27.6h0m2.9-191.4h0m.1-64.2h0m.1 13.5h0m0 17.6h0m.2-44.5h0m.4 92.7h0m.1 26.8h0m0-59.5h0m.1 46.7h0m7.3-21.6h0m6.2-63.8h0m.1 30.1h0m.6 19.6h0m0-65.4h0m.9 65h0m.1-32.6h0m4.9 79.6h0m0 146.3h0m.1-76.7h0m0 93.6h0m.2-29.8h0m.1-34.8h0m.1-57.9h0m.2-27h0m0 72h0m.1-57.6h0m.3 88.3h0m0-63.6h0m23.6-122.6h0m3.2-3.7h0m57.3 156h0m0-45.5h0m.2 26.2h0m.7 31h0m.2-51.4h0m42.4 150.5h0m.3 75.1h0m0-166.8h0m0-141h0m.2 118.1h0m0-52.9h0m.1 108.7h0m.2 36.4h0m.1-228.9h0m0 106.8h0m.1-163h0m0 107.9h0m8.6-16.2h0m5.5 63.9h0m.1-75.2h0m.2 41.9h0m.2 19.1h0m.2 25.5h0m23.6 62.7h0m.1 79.5h0m0-159.9h0m.2-25.7h0m0 45.1h0m.2 82.9h0m0 30.6h0m0-66.4h0m0-32.8h0m.1 16.7h0m0-61.6h0m20.1-98.7h0m.2 51.3h0m0-36.7h0m0 60h0m.1-41.9h0m.1 30.8h0m.1-75.8h0m56 95.2h0m.3 30.1h0m.1-13.4h0m9-138.4h0m29.4 28.4h0m.2 145.5h0m.4-84.8h0m.1-33.6h0m.6 166.9h0m.1 122.4h0m.2-199.1h0m.1-26.7h0m.8 93.8h0m.3-159.1h0m.2 27.9h0m1.3 33.9h0m.2 34.9h0m18.8-104.3h0m.1 60.7h0m15.7 30h0m.1 67h0m7-109.1h0m.6-28.5h0m.1 66.6h0m0 21.7h0m5.9-33.2h0m.5-82.3h0m.5 146h0m.8-62.6h0m.6 96.6h0m.1-156.8h0m.7 183.6h0m.1-60.3h0m.3-89.1h0m1.2 62.9h0m1.5 14.8h0m.8-42.3h0m.4-67.3h0m.1 31.4h0m4.6-49.2h0m.4 43.3h0m.1 75.3h0m.2 50.6h0m1.2-1.3h0m.1-115h0m0-57.2h0m.4 120.1h0m20.2 20.6h0m.2-40.8h0m.1 69.6h0m.1-14.1h0m0 67h0m0-98.7h0m.1 60.8h0m34-174.9h0m.1-25.1h0m15.1 82.9h0m12 19.5h0m7.3-87h0m.2-16.3h0m.1 32.6h0m.1 10.6h0m.1 13.7h0m0 17.7h0m.1 14.9h0m4.1-10.4h0m2.1-49.8h0m.6 16.8h0m0-71.2h0m.2 32.7h0m.4-13.9h0m.1 25.7h0m.2 44.8h0m4.6-39.9h0m.1-44.1h0m.7-9.3h0m.4 67.9h0m.5-21.7h0m.1-25.7h0m3.6 24.5h0m.6-35.3h0m.1 59.1h0m40.6 106.2h0m11.5-11.8h0m26.2 137.8h0m147.2-241.8h0m0 56.8h0"/><path id="HF11" d="M139.1 244.7h0m4.9 146.8h0m1.8 28.9h0m3.3-24.4h0m.9 31.6h0m.5-47.5h0m3.8 43.3h0m22-209.7h0m.7 39.5h0m.9-69.7h0m6.8 64.8h0m3.4 264.9h0m.2-66.4h0m10.6-231.7h0m28.5 57.5h0m6.7 253.1h0m.3-84.8h0m0 52.6h0m.4-86.4h0m.2 58.1h0m.2 99.4h0m.2-171.9h0m0 28.7h0m0 87.2h0m.1-58.1h0m.1 32.1h0m2.8-285.3h0m.1 92.5h0m.1-79.9h0m.2 64.5h0m.1-51.4h0m.3 92.6h0m.5-74.9h0m0 16.6h0m.1 46.3h0m10.1-9.2h0m3.2-26.2h0m.6-50.8h0m.1 30.4h0m.2-12.9h0m.8-33.1h0m.1 65.4h0m4.8 163h0m.2-101.6h0m0 40.8h0m.1 78.3h0m0-34.3h0m.1 46.6h0m.1-76.7h0m.2 93.7h0m.4-160.9h0m0 83.9h0m.2-57.9h0m.1 13.3h0m21.4-111.5h0m6.9 .4h0m55.9 106.8h0m.4 45.1h0m.1-18.2h0m.6 29.8h0m.1-49.6h0m42.3 152.6h0m.3 72.3h0m0-167.2h0m.1-74.8h0m0 51.6h0m.1 55.8h0m0-85.7h0m0-163.3h0m0 110h0m.1-53.6h0m0 228.9h0m.3-208.9h0m8.5 34.5h0m5.5-28.8h0m.1 59.3h0m0 27.4h0m0-46.2h0m.2 33.7h0m23.9-6.8h0m.2-11.2h0m0 114h0m.1-83.6h0m.1 63.9h0m.1-16.2h0m0-16.8h0m0-16.7h0m0-57.9h0m.1 157.6h0m0 26.4h0m20.3-255h0m.1 60.3h0m0-74.3h0m.2 63.3h0m.1-31h0m0-45.3h0m0 63.5h0m55.9 48.5h0m.4 14.1h0m.2-30.5h0m8.8-119.1h0m30.1 25.5h0m.2 118.3h0m.1-27.3h0m.2-63.4h0m.2 293h0m0-173.5h0m.1-84.6h0m.3 133.8h0m.3-169.6h0m.4 161.5h0m.3-63.4h0m.2-37h0m1.4-33.2h0m18.6-30.2h0m.6 53.9h0m15.5 97.7h0m.3-67.6h0m7.5-69.8h0m.3 67.1h0m.5-39.5h0m.4 59.9h0m4.6 32h0m.7-145.8h0m.3 82h0m.7-25.6h0m.3 88.8h0m.4 59.8h0m.9-123h0m.2 37.1h0m.1-92.3h0m1.2 151.5h0m.7-122.9h0m.9-30.5h0m1.1 112h0m.4-44.8h0m4.6-40.9h0m.2 125.1h0m.2-49.4h0m.1-121h0m.6 118.4h0m.9 54.8h0m0-120.1h0m.6-57.3h0m20.2 141h0m0 28.4h0m0 15.3h0m.1-80.8h0m0 53.2h0m0-32.9h0m33.9-152.2h0m.6 12.7h0m.1 28.5h0m14.6 55.3h0m12.2 18.5h0m7.3-28.9h0m.2 15.1h0m0-89.6h0m0 57.4h0m0-40.9h0m.3 16h0m0 10.6h0m4.2 36h0m1.6-59.4h0m.3 9.7h0m.8-20.6h0m.3-33.1h0m.1 90.6h0m.1-19.2h0m0-53.3h0m5 30.9h0m.1-44.2h0m.5 38.1h0m.9-45.2h0m0 65.3h0m.3-46.8h0m4 48.7h0m.2-58.9h0m.2 34.8h0m40 137.5h0m12 4h0m25.9 115.2h0m147.5-236.4h0m.1 54.7h0"/><path id="HF12" d="M138.8 245.8h0m5.5 146h0m1 29.1h0m4.6-20h0m.5 30.5h0m.3-45.5h0m3.9 44.2h0m21.5-246.3h0m.9 74.3h0m.1-39.2h0m7 40.9h0m3.9 188h0m.2 65.6h0m11.1-273.3h0m27.3 34.2h0m7.8 118.6h0m.6 133.4h0m.1 40.9h0m.2-83.3h0m.2-62h0m.1 29.6h0m0 13.7h0m.1 44.2h0m.2-15.7h0m0-86.5h0m.1 34h0m2.3-151.2h0m0-15.5h0m.1-50.3h0m.1 92.2h0m.2-75.5h0m.1 16.6h0m.1 46.4h0m.2-106.6h0m.6 12.9h0m10.2 164.6h0m3.8-106.4h0m.1-50.2h0m.2 30.5h0m.1 19h0m.6-65.5h0m.2 33.8h0m5 165.4h0m0-45h0m.2 91.5h0m.2-34.4h0m.1-96.5h0m.1 160h0m0-107.3h0m.1 90.5h0m.3-29.9h0m.2-101.1h0m.1 54.6h0m.1-41.3h0m22.6-94.8h0m2.5-2.1h0m59 156.1h0m0-23.3h0m.3-27h0m.4 9h0m.2 50.5h0m42.6 74.3h0m0-143.2h0m0 20.9h0m0-159.8h0m.1 73.1h0m0 321.4h0m.1-81.2h0m.2-206h0m.1-51.8h0m0 190.1h0m.2-55.8h0m0 24.3h0m8.5-85.2h0m5.5 24.1h0m.3-14.4h0m.3-19.3h0m0-36.6h0m.1 82.7h0m23.6 116.2h0m.1 24.9h0m0-171.1h0m0 97.1h0m.1-67.3h0m0-43.2h0m.3 74.8h0m0 53.1h0m.2-69.4h0m.1 32.5h0m0-65.9h0m20-109.7h0m0-13.9h0m.1 63.7h0m.4-17.6h0m.1 31.8h0m.1-50.4h0m44.5-73.9h0m11.7 159h0m0-16.9h0m0 30.3h0m26.3-183.8h0m12 207.1h0m.1-147.4h0m.1 118.6h0m.5 79.8h0m.3-169.5h0m.4 62.4h0m.1-26.6h0m.7 124.4h0m.5-100.6h0m.2-33.7h0m.1-26h0m.6 98.3h0m.3-181.6h0m19.4 133.4h0m.3-53.4h0m15.6 153.4h0m.1-67.4h0m7.4 15.6h0m.6-19.2h0m.3-41.1h0m.3-28.2h0m5.3 58.1h0m.6-72h0m1.1 44.6h0m.4-28.8h0m0 151.2h0m.6-32.4h0m.1 59h0m.8-245.7h0m.8 159h0m.2-35.7h0m1.3 10.5h0m.9-37.9h0m.4-29.9h0m.1 110.9h0m4 41.6h0m.7-170.4h0m.7 119.8h0m.1-67.5h0m.2-57.5h0m0 177.1h0m.8-54.3h0m.5-65.4h0m20 82.5h0m.2 43.4h0m0-60.3h0m.2-20.2h0m.1 53.3h0m.3 13.1h0m33.7-197.4h0m.1 11.5h0m.6 29.3h0m14.8 56.1h0m12 17h0m7.4-13.7h0m0-46.1h0m.1-10.6h0m.2-33.2h0m.1 76.5h0m.1-59.3h0m0 40.2h0m3.3 23.2h0m2.8-86.7h0m.2 54.8h0m.5-18h0m.2 36h0m0-46.8h0m.4-43.6h0m.1 33.1h0m4.8-26.8h0m.2 42.4h0m.4-5.6h0m.8-27h0m.2 46.7h0m.1-65.6h0m3.8 8.4h0m.5 35.8h0m.5 23.4h0m39.7 153.3h0m12.7-35.7h0m25.8-61.4h0m147-60.5h0m.2 58.2h0"/><path id="HF13" d="M142.2 175.8h0m2.9 245.7h0m.8-29.2h0m3.9 9.3h0m.2-13.4h0m3.3 44.1h0m1.7-1.1h0m21.6-211.6h0m.4 39.1h0m1-71.7h0m9.4-10.2h0m.3 337.4h0m.3-64.8h0m10.9-207.8h0m29.8 82.4h0m5.4 141.5h0m0 105.7h0m.3-163.3h0m.1 14.8h0m.1 89.6h0m0-71h0m.2 10.5h0m0 32.8h0m.8 42.1h0m.1-133.7h0m.1 101h0m2.5-296.5h0m0 27.2h0m0 50.1h0m.2-63.7h0m.1 31.4h0m.1 15.3h0m.4 59.7h0m.3-26.8h0m.1 13.8h0m13.4-111.1h0m.2 25.2h0m.4 31.2h0m0 21.3h0m.5-32.1h0m.1 29.4h0m.8-63.2h0m4.9 273.5h0m.1-29h0m.1-132.7h0m0 144.5h0m0-90.9h0m.2 13.4h0m0-54.3h0m.1 85.2h0m.1 16.6h0m.2-29.3h0m.2-59.3h0m.2 14h0m21.5-104.1h0m4.9-.1h0m57.6 100.7h0m0 50.9h0m.1-24.1h0m1.2 31.7h0m.1-51.3h0m42.5 244.7h0m0-211.5h0m.2-187.1h0m0 104.8h0m.1 204.9h0m0-66.3h0m.1 36.9h0m.1-69.7h0m0-158.1h0m.1 104.8h0m.1-21.9h0m0-62.3h0m8.4 54.9h0m5.7 7.1h0m.5-52.7h0m0 80h0m.2-12.7h0m0-32.7h0m23.5 93.2h0m.1-91h0m0 159.3h0m.1-84.9h0m.1-48.8h0m.1 32.2h0m.1 52.7h0m.1-97.8h0m0 173.6h0m0-143.4h0m.1 84.5h0m20-179.3h0m.3-19.6h0m.3-27.5h0m0 63.5h0m.1-49.8h0m.1 63.9h0m44.5-123.7h0m11.2 141.6h0m.2 17.1h0m0 13.4h0m26.1-182.9h0m12.5 270.2h0m.7-59.7h0m.9-123.1h0m.1-28.2h0m0 92h0m.1 26h0m.2-52.9h0m.4 123.8h0m.1-159.3h0m.3 58.5h0m1.6-93.2h0m0 60.2h0m.2 74.9h0m18.4-50.6h0m.5-53.3h0m15.7 153h0m.1-67.5h0m7.2-4.3h0m.2 19.4h0m.4-60.3h0m1-27.8h0m5.1-13.8h0m.4 74.7h0m1.7-58.2h0m.1 27.4h0m.2 30.3h0m.3 92.2h0m1-59.5h0m.3 86h0m.4-56.8h0m.1-188.7h0m.8 136.2h0m1.2-35.5h0m.3 78h0m.3-112.9h0m3.8 40h0m1 112.8h0m.3-170.4h0m.6 127h0m.7-132h0m.6 56.9h0m.3 121.2h0m.2-55.1h0m19.7 32.8h0m.1 13.6h0m.2-46.4h0m0 17.3h0m.1 43.7h0m.1-80h0m34.1-128.5h0m.2 7.3h0m0 29.6h0m15.1 57.3h0m12.8-31.8h0m6.7 21.5h0m0-33.8h0m.2-25.9h0m.1 39.4h0m.1-24.1h0m0 56.8h0m.1-88.2h0m3.9 79.5h0m2-61.5h0m0 10.7h0m.2-36.1h0m.9 57.3h0m.1-41.7h0m.1-33.9h0m.2 90.4h0m5-83.9h0m.1 42.6h0m.7-31.6h0m.3 26.6h0m0 20.4h0m.2-65.6h0m4.5 44.1h0m.2 24.2h0m.4-60.4h0m39.7 211.6h0m12.1 6.7h0m26.4-95.1h0m146.7-67.7h0m0 56.7h0"/><path id="HF14" d="M144.5 393.5h0m.2-181.3h0m.9 209.3h0m3.9-15.4h0m.9 27.6h0m.5-41.5h0m3.2 40.8h0m22.2-210.2h0m.7 39.1h0m.8-73.9h0m10 326.8h0m0-64.7h0m2-252.7h0m9 57.8h0m30.8 90.3h0m4.9 121.6h0m.2 18.5h0m.3 9.7h0m.2-53.8h0m.1 130.5h0m0-59.4h0m0-104.2h0m.1 14.9h0m.1 29h0m.1 74.7h0m.3-133.3h0m2.4-102.6h0m0-79.9h0m.2-13.5h0m.1 27h0m.5 18.9h0m0 61.1h0m0 15.1h0m.1-61.9h0m.6 16.9h0m13.2-78.5h0m.1 75.9h0m.2-21.8h0m.4-31.7h0m.4 21.9h0m.6 28h0m.3-61.9h0m4.7 151.4h0m.1 57.6h0m.3 34.5h0m0-45.8h0m.3 27.7h0m0-61.4h0m.2-27.7h0m0-25.8h0m.1 144.7h0m.4-77.8h0m.1 95.4h0m.1-149.6h0m21.1-76h0m4.1 4h0m58.4 96.9h0m.2 50.4h0m.8-24.3h0m.4-20.2h0m42.5 156.2h0m.1-152.2h0m.1 122.5h0m.1-331.7h0m0 104h0m.1 194.3h0m0 159.8h0m0-216.6h0m.4-187.9h0m0 133h0m0-30.4h0m0 108.8h0m.1-138.2h0m8.4 65.3h0m5.6-5h0m.3 15.3h0m.1-66.7h0m.2 78.1h0m.1-45.1h0m23.5 1.8h0m0 127.6h0m.2-115h0m0 46h0m.1 101.8h0m.2 26.7h0m0-76.5h0m.1-18.9h0m0-66h0m.1 49.6h0m0-31.6h0m20.1-128.4h0m.1 63.7h0m.2-76.3h0m.2 46.3h0m0 15.6h0m.1-36.2h0m44.7-71.8h0m11 157.6h0m.5-17.3h0m.1 30.2h0m26-179.6h0m12.4 175.9h0m.9-27.4h0m0 119.3h0m.3-146.4h0m0-36.6h0m.2-28.8h0m.3 152.5h0m.3-96.9h0m.3-55.8h0m.8 88.2h0m.1 44.8h0m.1-103h0m.2 161.6h0m19.6-103.6h0m0-59.3h0m15.9 155.5h0m.3-71.7h0m6.8-37.3h0m.5 54.2h0m.9-22.2h0m.3-67.5h0m5.6 62.5h0m.2-69.9h0m1.5 9.2h0m.1 151.6h0m.7-123.6h0m.5-90.7h0m.1 239.5h0m.5-55.9h0m.1-62.1h0m.5 32.7h0m1.5 19.9h0m.4-44h0m.9-35.9h0m.1-33.1h0m3.8 39h0m.7 113.9h0m.6-41.9h0m.1-128.4h0m.5 50.5h0m.3-55.6h0m.1 124.5h0m1.2 51.6h0m19.6-55.1h0m.2 61.3h0m.2-27.8h0m.1-50.8h0m.1 64.9h0m.2-30.1h0m33.7-165h0m.1 39.9h0m.3-31.8h0m14.4 87.3h0m13.4-7.6h0m6.6-24.1h0m.1 32.6h0m0-87.8h0m.2 42h0m.1-10.6h0m0-15.3h0m.2 59.8h0m3.4 4.4h0m2.5-72.5h0m.3 42.4h0m0-21.7h0m.5-10.8h0m.1-43.9h0m.1 18.3h0m.5 73.3h0m5-41.3h0m.3-42.9h0m.3 12.9h0m.5-21.4h0m.2 66.2h0m.2-19.2h0m3.7-38.2h0m1.5 35.4h0m13.2 28.2h0m26.8 149h0m12.1 30.9h0m25.6-61h0m147.3-125.1h0m0 57.2h0"/><path id="HF15" d="M144.9 394.2h0m.3-165.6h0m.1 193.9h0m4.3-16.4h0m.6-13.9h0m3.3 42.6h0m6.9-239.4h0m15.8 31h0m.1-38.2h0m1.1 77.3h0m9.9-42.9h0m.3 298.1h0m.4-66.2h0m10.9-190.9h0m30.6 110.3h0m4.8 204h0m.5-183.9h0m.1 133.3h0m0-103.9h0m.3 89.3h0m0-16.9h0m.2-10.1h0m.3-43.2h0m.2 10.6h0m0-43h0m0 57.4h0m2.4-174.4h0m.1 26.7h0m.2-61.9h0m.1-46.2h0m0-13.5h0m.9 26.6h0m.1 50.2h0m.1 31.1h0m0-62.4h0m13.3 29.5h0m.1-54.4h0m.1-20h0m.4 52h0m.6 17.8h0m.6-61.4h0m1.8 34.2h0m3.1 208.9h0m.2-91.4h0m.2 57.1h0m.2-98.6h0m0 53.7h0m.1 91.2h0m.1-132.3h0m.2 56.3h0m.1-43.1h0m.2 139.1h0m0-49.5h0m.2-27.7h0m21.3-129.3h0m6.6-12.8h0m56 142.5h0m.2-50.7h0m.4 26.3h0m.3-19.1h0m42.8 260.3h0m0-104h0m.1-97.6h0m.1 67.9h0m.1-120.9h0m0-210h0m.1 126.1h0m0-67.7h0m.2 126.5h0m0-83.1h0m0 137.5h0m0-81.4h0m.2 140.1h0m13.9-159.1h0m.1 27.7h0m.1 20.1h0m.2 13.9h0m0 11.5h0m.1-145.4h0m23.9 213.5h0m0-20.1h0m0 36.1h0m0-51.8h0m.1-48.8h0m.1-27h0m.2 190.8h0m0-132.1h0m.1-15.2h0m.1-30.3h0m.1 147.5h0m19.9-258.3h0m.3 46.8h0m.1 29.5h0m.2-49.2h0m.1 35.2h0m.1-48.2h0m44.5-59.8h0m11.1 170.7h0m.5-12.8h0m.2-17.8h0m25.7-149.3h0m12.4 209.8h0m.2-123.7h0m.1 35.4h0m.7 55.7h0m.3-118.2h0m.1 90.6h0m.4 128.5h0m.7-81.9h0m.3-52.3h0m.2-32.5h0m.3 139.2h0m.5-164.5h0m.7-27.6h0m18.7 85.6h0m.5-55.3h0m15.7 153.8h0m.1-73.6h0m7.2-38.2h0m.3 34.4h0m.3-69.6h0m.4 90.9h0m5.8-22.4h0m.1-75.7h0m1 67.4h0m0 33.9h0m.6 84.4h0m.4-236.7h0m.1 60.8h0m.3 150.4h0m.3-27.9h0m.9-95.4h0m1.7-24.8h0m.3 65h0m.1 43.1h0m1.3-77.1h0m4.3 4.3h0m.3 118.5h0m.3-170.2h0m.1 123.6h0m.8-78.9h0m.9 126.4h0m.2-56.5h0m.2-122.4h0m20 180.3h0m.1-29h0m.2-33.6h0m.3 48h0m.1-30.5h0m0-30.4h0m33.8-133.2h0m.3 6.7h0m.2 37.7h0m14.5 49.8h0m13 9.7h0m6.6-64.8h0m.2-15.2h0m.1 38.6h0m.1-55.1h0m.1 76.2h0m0 11.9h0m.2-46.3h0m3.5 38.9h0m2.3-30.1h0m.1-76.3h0m0 19h0m.2 35.6h0m.6 36.5h0m.3-47.2h0m.1-10.2h0m5.1 17.6h0m0-41.2h0m.7 35h0m.2-25.4h0m.2-21h0m.4 66.2h0m3.5-22.3h0m1.9-34.2h0m13.3 65.7h0m26.1 200.6h0m12.6-19h0m25.7-27h0m146.8-163h0m.1 59.9h0"/><path id="HF16" d="M144.5 394.9h0m.1 28.2h0m.5-186.9h0m4.1 170.8h0m1.6-13.6h0m.1 43.3h0m9.7-188.1h0m15.6-59.3h0m.9 39.8h0m.1 37.7h0m10.7 255.3h0m.2-62.8h0m1.7-197h0m37.2-41.2h0m2 153.1h0m5.2 79.3h0m.1-9.9h0m.2 42.2h0m.3-91.7h0m.2 74h0m.2 59.5h0m.4-31.7h0m0-71.3h0m.1 88.4h0m.3-102.8h0m.2 168.5h0m2.1-320.4h0m.3-13.9h0m0 63.4h0m.2-96.1h0m.1 63.9h0m.2-77.3h0m.1 27.3h0m.1 67.6h0m1.5 29.7h0m12.3-48.6h0m.1-74.7h0m.2 19.3h0m.1 32.6h0m.7-44.3h0m.6 63.5h0m0-27.6h0m5 189.7h0m.1-27.4h0m.2-46.1h0m.1 11.9h0m.3-27h0m0-12.8h0m.1 120.5h0m0-64.8h0m.1 95.8h0m.3-65h0m.1-100.4h0m.1 145.6h0m23.5-181.7h0m2.1-17.1h0m58.1 91.4h0m.6 49.8h0m.1-23.9h0m.5-18h0m42.8 157.9h0m.1-31.2h0m0-146.9h0m.1 283.6h0m.1-229.7h0m0 59.3h0m0-295h0m.1 99h0m.1 161.7h0m.1-105.4h0m0-94.2h0m.1 61.6h0m0 83.6h0m14.1-23.3h0m.1-46.5h0m.1 75h0m.2-48.7h0m0-99.6h0m.2 133.5h0m23.6 96.1h0m.1-114.6h0m0 14.2h0m.1 133.4h0m.1-100.7h0m.1-59.7h0m0 190.4h0m.1-79.3h0m0-68.2h0m.1 48.1h0m0-15.8h0m20.3-111.2h0m0-47.7h0m0 33.3h0m.1-47.2h0m0 76.1h0m.4-49.7h0m44.6-70.7h0m11.6 138.4h0m.2 17.5h0m.1 13h0m25.6-179.7h0m12.1 279.3h0m.1-191.9h0m0 122h0m1-59.2h0m.1 27.1h0m0-55.3h0m.6-62.7h0m.8 137.7h0m.3-51.2h0m0 107.9h0m.5-164.9h0m.2 29.2h0m.4-59.3h0m19.7 87.9h0m.3-56.7h0m15.5 155.8h0m.7-74.3h0m7.3-5.3h0m.4 21.3h0m.2-89h0m.3 32.6h0m5.2-42.7h0m.1 75.9h0m1.3-65.4h0m.7 176.3h0m.1-237.7h0m1 212.5h0m.2-60.6h0m.6 32.4h0m.6-96.6h0m0 31.7h0m.7-56.1h0m.6 110.5h0m.4-78.2h0m.6 34.4h0m4 87.2h0m.6-43.5h0m.3-125.6h0m.3 51h0m1.2 119.3h0m0-126.8h0m.9 72.1h0m.1-123.8h0m20 116.3h0m.1-12.4h0m.2 47h0m.2 28.3h0m.1-14.7h0m.2-30.5h0m33.6-154.8h0m.2 39.9h0m0-41.6h0m14.7 90.8h0m13.4 15.4h0m6.6-105.3h0m0 54.3h0m.1 33.7h0m0-12.4h0m.3-44.5h0m0 10.4h0m.3-25.7h0m3.5 64.8h0m2.5-87.2h0m0 57.1h0m.2-42.9h0m.1 57h0m.6-36.6h0m.1-53.1h0m.5 42.6h0m4.7-32h0m.2 41.2h0m.3-53h0m.4 44.8h0m.5-23.1h0m.1 44.5h0m4.4-52.1h0m.7 29h0m13.8 40.6h0m29.1 57.5h0m14.3-89.9h0m20.6 178.2h0m146.8-93.6h0m.4-70.4h0"/><path id="HF17" d="M144.7 395.2h0m.6-132.2h0m.4 162.9h0m3.3-17.7h0m1.2 29.7h0m3.1-44.4h0m6.7-127.4h0m16.5-36.4h0m.1-35.9h0m.7 73.1h0m10.2 287.7h0m.5-252.6h0m.1 157.9h0m38.9-238h0m1.8 152.9h0m5.7 205h0m.3-94h0m.1 43.1h0m0-118.1h0m.1 85.4h0m.3-27.9h0m0-74.1h0m.1 60.5h0m0-11h0m.1-18.3h0m.3 88.2h0m2.4-205.8h0m.1-49.3h0m.2 17.9h0m.1 17.2h0m.5-95h0m.3 27.7h0m.2 18.5h0m0-32.2h0m2 116h0m11.6-127.8h0m.2 53h0m.4-34.2h0m.2 54.8h0m.4-67.1h0m0 63.6h0m1.7-27.7h0m3.7 190.8h0m.1 29.9h0m.1-11.9h0m0-64.7h0m.1 30.6h0m.1-73.4h0m.1 15.8h0m0 45.6h0m.3 77.6h0m.1-165.9h0m0 53.7h0m.2-39.1h0m23.7-38.1h0m2.5-27.9h0m58.1 139.8h0m.3-49.8h0m.3 25.4h0m.7-17.1h0m42.3 157.4h0m.2 110.8h0m0-347h0m0 60.4h0m.1 146h0m0-33.6h0m.1-59.9h0m0-80.7h0m0 104.6h0m.1-197.8h0m.1-62.8h0m.2 98.9h0m.1 108.3h0m14-23.4h0m.3-20h0m0 54.7h0m0-21.7h0m0-133.5h0m.4 74h0m23.6 155.9h0m.1 64.8h0m0-192h0m0 76.2h0m.1 14.4h0m0 22.5h0m.2-52.5h0m.2-32.5h0m0 132.9h0m0-118.9h0m.1-29.2h0m19.9-34.9h0m.1-49.1h0m.4-26.8h0m0 61.8h0m0-48h0m.2 35.4h0m44.6-89.9h0m11.7 152h0m.1 14h0m0-30.9h0m26.4-148h0m12.4 90.4h0m.2 89.1h0m.8 99.6h0m0-69.7h0m.1-150.1h0m.3 60.8h0m0 28.8h0m.5-90.2h0m.2 201.7h0m.2-64.4h0m.6-108h0m0 56.5h0m.1-27.5h0m19.8-28.5h0m.3 57.4h0m15.5 101.7h0m.5-76.8h0m6.7 14.7h0m.3-86.2h0m.5 64.7h0m.1-33.4h0m5.9-42.4h0m.2 76.8h0m.7-41.3h0m.8 150.7h0m.3-118.1h0m.4 92.5h0m1.1-61.6h0m.6 35.2h0m.4-184.4h0m.2 61.6h0m.3-.7h0m.9 74h0m1.2 37.7h0m.2-79.3h0m3.8 8.5h0m.6 117.4h0m.7-166.3h0m.1 123.5h0m2-15.3h0m.2-71.1h0m0 128h0m.1-178.7h0m19.6 149.2h0m.1-17.2h0m0 31.4h0m.4 14.3h0m.2-73.4h0m0 10.2h0m33.7-129.3h0m.1-8.5h0m.6 48.2h0m14.4 43.2h0m19.7-106h0m0 14.8h0m.2 75.1h0m.1-59.8h0m0 15.7h0m.1 58h0m.1-34.4h0m.1-13h0m3.9 38.9h0m1.9-16.2h0m.2-47.2h0m.1-9.8h0m.6-32.9h0m.8 75.6h0m0-56.6h0m.2 34.6h0m4.9 4.4h0m0-46h0m.1 11.8h0m.1-24.9h0m.6 45.7h0m.2 21.2h0m4.4-23.4h0m.1-29.4h0m14.6 0h0m29.2 134.7h0m14.2-68.7h0m20.6 164h0m146.8-108.4h0m0-67.3h0"/><path id="HF18" d="M144.6 395.3h0m.3 31.5h0m.1-125.8h0m4 107.4h0m1.9-11.8h0m5.9-218.1h0m3.2 122.5h0m16.2-105.7h0m1.6 34.6h0m.6-63.7h0m9.5 393.3h0m.1-184.5h0m.1 87.1h0m38.6-239.7h0m5.1 101h0m2.2 87.8h0m.2 102.6h0m0-70.1h0m.1 26.1h0m.2-15h0m0-59.7h0m.4 91.1h0m.3 43.1h0m.3 51.1h0m.2-83.6h0m.2-71.1h0m2.3-149.1h0m.4-31.6h0m.1 91.4h0m.6-109.8h0m.3 81.4h0m0-108.8h0m0 59.4h0m.1 35.3h0m0-80.3h0m13.6-11.9h0m.1 18.6h0m0 54.2h0m.4-20.6h0m.9-9.5h0m0-35.1h0m.1 64.4h0m4.9 190.3h0m.3-92.4h0m.1 34.7h0m.1-61.3h0m.2-12.8h0m.1 28.2h0m0 123.3h0m.2-30.5h0m.1-135.6h0m.1 116.7h0m.2-16.2h0m.1-30.7h0m24.2-86.7h0m3.6-30.9h0m56 87.8h0m.1 49.2h0m.2-23h0m.8-17.7h0m42.6 126.2h0m.2-145.6h0m.1-182.1h0m0 468.8h0m.1-208.6h0m.2-53.9h0m.1 153.2h0m0-121.9h0m.1-141.2h0m0 59.8h0m.1-95.2h0m0 61h0m.1 173.5h0m13.9-160.6h0m.1 59.5h0m.2-31.2h0m0 20.5h0m.1 50.7h0m.3-173.7h0m23.7 264.4h0m.1-84.7h0m0-63.1h0m.1 100.4h0m0-22h0m.1-31.1h0m.1 134h0m0-66.2h0m0-98.5h0m0 11.8h0m.2-41.1h0m20.1-72.2h0m.1-26.6h0m.1 61.5h0m.1-47.9h0m.2 62.4h0m.1-27h0m44.7-84.5h0m11.1 147.3h0m.2-17.3h0m.1 30.7h0m26.1-173.5h0m12.1 117.7h0m.2 56.6h0m.6 31.3h0m.5-61.2h0m.1 129.5h0m.3-187.6h0m0-32.4h0m1.1 58.4h0m.2-28.9h0m.5 108.7h0m.1 64.1h0m.3-115.9h0m.2-85.5h0m19.8 28.1h0m.2 58.8h0m15.4 102.3h0m.2-74.6h0m7.3-43.5h0m.3-32.2h0m.6 64.9h0m.4 24.2h0m5-95.2h0m.3 72.8h0m1.4 58.4h0m.4 53.1h0m.2-119.6h0m.5-108.3h0m.9 50h0m.4 89.3h0m.1-64.8h0m.1 125.2h0m1-117.2h0m.6-29.3h0m.4 110.3h0m.8-39.6h0m4.2 84.5h0m.2-167h0m1.1 124.3h0m.4-74.9h0m.2 116h0m1.1-178.4h0m.7 123.4h0m0-72.1h0m19.6 80.1h0m0-16.1h0m.2 33.4h0m.1 28.5h0m.2-14.1h0m.2-59.4h0m33.7-119h0m.3 41.1h0m.1-46h0m14.4 97.4h0m20.2-84.9h0m.1-16h0m0 54.7h0m.1 20.3h0m.1-33.3h0m0-56.6h0m.1 47h0m0 57.6h0m4.1-6.6h0m2-18.7h0m.6-57.2h0m.2 20.9h0m.2 22h0m0-56.3h0m0-17.8h0m.1 41.2h0m5 15h0m0-44.2h0m1.4-14.9h0m0 67h0m.3-19.4h0m.2-22.5h0m3.1 19.6h0m1.5-26.8h0m14.4 40.6h0m29.1 91.4h0m11.2 9.9h0m23.4 88.2h0m147.3-174.8h0m.1 69.8h0"/><path id="HF19" d="M144.8 376.1h0m.5 53.9h0m.4-32.8h0m4.1 11.4h0m.9-10.3h0m3.5-197.5h0m8.8 11.1h0m12.8 18.2h0m.2-34.7h0m2-20.2h0m8.4 397.5h0m1.7-110.3h0m.1-57.6h0m38.9-176.8h0m5.2 98.5h0m1.7 159.8h0m.2 104.9h0m.7-164.4h0m.2 28.1h0m.1-58.6h0m.3 74h0m.1-59h0m0 102.7h0m.1-17.2h0m0-53.1h0m0 86.7h0m2.6-303.5h0m.1 51.1h0m.4-18.7h0m.2-60h0m.1 95.5h0m.1 13.9h0m.1-94.7h0m.3 31h0m1.1 94.5h0m12.5-118.7h0m.4 57h0m0-23.3h0m.1-51h0m.3 42.5h0m.1-36.5h0m.2 67.1h0m5.6 177.1h0m.2-47.3h0m.1 28.3h0m.2-62.4h0m0-26.8h0m.2 15.1h0m0 104.4h0m.2-132.2h0m.2 54.9h0m.2-70h0m.1 101h0m.8-247.2h0m20.4 141.4h0m7-41.2h0m55.6 135.6h0m.3-23.2h0m.6-24.3h0m.1 9h0m42.6 157.3h0m0-65.1h0m.4-139.9h0m0-93.2h0m.1 196.9h0m0-137.6h0m0 116.4h0m.1-32.6h0m0 121.8h0m0-231.7h0m.1 87h0m.2-181.9h0m8.1 83.7h0m5.9 109.2h0m.3-30.6h0m.1 98.5h0m.1-78.7h0m0-47.4h0m0-73.4h0m23.9 114.4h0m0 47.4h0m.2 69.6h0m0-38.4h0m.1-50h0m0-11.9h0m.2 133.8h0m.1-87.4h0m0 37.6h0m.1 80.7h0m0-193.8h0m20.1-22.6h0m0-14.8h0m0-61.1h0m.1 14.9h0m0 11.9h0m.4 22h0m44.3-82.9h0m11.9 129.8h0m.1 16h0m.1 13h0m26.1-165.8h0m11.8 79.5h0m.3-32.2h0m.5 224h0m0-104.6h0m0 31.8h0m.9-87.6h0m.4 26.6h0m.3-33h0m0 150.5h0m.1-122.3h0m.9-56.4h0m.3 109h0m1-136.1h0m18.7 26.6h0m.5 59.1h0m15.4 103.7h0m.5-76.5h0m7.1-10.9h0m.6-65.1h0m.1 89.1h0m.7-54h0m5-38.6h0m1 70.3h0m.2-40.8h0m1.2 126.5h0m.1-91.5h0m.5-110.2h0m.4 174.7h0m.4 53.9h0m.7-89.7h0m.6-89.5h0m.6 116.7h0m0-82.9h0m.3 42.6h0m1.4-72.3h0m4.5-11.8h0m.3 50.2h0m.7 73.4h0m.5-79.9h0m.3 120.9h0m.2-223.6h0m.3 53.8h0m.4 116.4h0m20 23.7h0m0 16.1h0m.1-47.9h0m0-13.4h0m.5 27.8h0m.1 46.2h0m33.6-191.1h0m.3 39.4h0m.3-46.1h0m14.9 106h0m19.4-67.6h0m0 13.1h0m.1-22.1h0m.2-15.1h0m.2-30.5h0m0 87.8h0m.2-72.6h0m3.8 82.3h0m.1-28h0m2.3 8.3h0m.2-56.3h0m.5 8.9h0m.2-23.4h0m0-17.9h0m0 74h0m.3-22.4h0m4.9-38.7h0m.2 46.6h0m.2-15.1h0m.9 19.5h0m.2-66.8h0m.1 26.3h0m3.6-6.7h0m.8 25.5h0m14.5 31.1h0m29.5 74.9h0m11.2 9.6h0m23.3 95.3h0m146.8-173.9h0m0 63.9h0"/><path id="HF20" d="M144 397.5h0m.5-21.2h0m.8 55h0m4.1-21.7h0m3.7-10h0m4-197.4h0m5.7 12.9h0m13.7 15.4h0m.2-32.6h0m1.5-20.4h0m8.2 395.8h0m1.8-167.7h0m.1 62h0m39-238.9h0m4.5 108.8h0m2.5 176.7h0m.4-70.3h0m.1 147.7h0m0-195h0m.3 135.4h0m.1-77h0m.3 16.1h0m.1-44.3h0m0 59.8h0m.1-73.7h0m0 85.4h0m2.8-188h0m.1-15.2h0m.1-49.6h0m.1-16.7h0m0 49.2h0m.6-77.5h0m.1 14.1h0m.2 45.1h0m1.5 80.1h0m9.2-113.7h0m2.6 28.5h0m.2-50.9h0m.8 74.4h0m.5-30.8h0m0-35h0m.4 66.1h0m4.8 96.4h0m.1-28.9h0m0 41.9h0m.5 65.9h0m0-47.1h0m0-45.6h0m.3-42.7h0m.2 15.5h0m.2 132.6h0m0-47.1h0m.3 15.5h0m3.9-235h0m20.4 113.4h0m4.3-39.9h0m55.3 134.7h0m.1-47.7h0m.2 24.3h0m.7-13.6h0m42.4 122.1h0m.3-30.4h0m0-114.6h0m.1 56h0m.1 21.2h0m.1-136.8h0m.2 239.4h0m0-361h0m.1 154.2h0m0-56.7h0m.1 107.1h0m0-140.6h0m8.1 31.8h0m6 85.9h0m0 10.8h0m.1-119.9h0m0 61.7h0m.2 27.8h0m23.9 76.4h0m.1-34.4h0m.1-41.2h0m.2 91h0m0-62.2h0m.1 139.6h0m0-39.2h0m.1-16.1h0m0-141.1h0m0 223.9h0m.1-183.3h0m0 47.2h0m20-108.3h0m.2-49.1h0m0 75.2h0m.4-60.3h0m0 46.5h0m0-35.8h0m44.4-56.6h0m11.7 142.8h0m0 11.9h0m.4-28.9h0m25.7-136.3h0m12.3 166.2h0m.6 35h0m.6 77.1h0m.2-197.8h0m.1 57.3h0m.1-88.5h0m.3 62h0m1.3-62.4h0m.1 206.2h0m.3-70.4h0m.5-51.6h0m.3-29.4h0m.1-27.9h0m19.4 64.5h0m0-53.6h0m16.1 76.7h0m6.4 11.2h0m0-22.9h0m.4-92.3h0m.6 26.7h0m.7 36.2h0m5.6-39.8h0m.1 70.2h0m1.5-66.9h0m.3 25.9h0m.2 64.1h0m.1 65h0m.7-93.6h0m0 117.7h0m.2-227.6h0m.2 173.9h0m2-120.4h0m.5 29.1h0m1.2 49.2h0m4.4-30.2h0m.6 65.4h0m.3-181.8h0m.1 55.6h0m.4 114.3h0m.2-119.8h0m.1 52.4h0m.4 118h0m.1-223.5h0m20.5 162.5h0m0 59.9h0m.1-12.8h0m0-61.3h0m.1 45.4h0m.2-17.3h0m34-140.3h0m.2 50.8h0m.4-61.8h0m27.3 47h0m7.2-33.2h0m.1-14.9h0m0 53h0m0 19.5h0m0-87.5h0m.1 44.9h0m.1 8.7h0m3.8 44.6h0m.1-29.3h0m2-47.9h0m.1 9.2h0m.1 32.5h0m.4-22.7h0m.3-50.6h0m.3 17h0m.3 70.4h0m4.7-75.1h0m.6 46.8h0m.1 4.5h0m.5-66.9h0m.2 47h0m.5-21h0m3.4-7.1h0m1.1 26.6h0m14.5 35.4h0m29.2 101.8h0m11.5 26.2h0m23.1 75.7h0m147-201.7h0m0 62.3h0"/><path id="HF21" d="M144 378.6h0m.2 55.3h0m.5-33.7h0m5.2 9.8h0m.5-2.2h0m3.9-192h0m9.3 1.7h0m12.3-17.7h0m.1 31.5h0m2.3-29.2h0m8.1 382.9h0m1.2-115.3h0m.2-61.4h0m39-173.3h0m5.2 116.1h0m2 147.8h0m.3-72h0m.2 17.6h0m.4 148h0m0-137.4h0m.1 77h0m.1-134.4h0m.1 15.4h0m.1 73.8h0m.2-15.7h0m.1 43.4h0m2.6-299.9h0m.6 50.3h0m0-64.3h0m.4 109.6h0m.2-14.6h0m.1-50.1h0m.2 32.6h0m0-45.8h0m1.6 109h0m11.8-137.3h0m.2 24.1h0m.1 51h0m.1-24.5h0m1.2-41.9h0m0 34.5h0m.3 31.8h0m4.8 109.7h0m.1 46.8h0m.1-74h0m.1-41.6h0m.4 133.7h0m.1-32.8h0m0-13.2h0m0 59.6h0m.3-92.4h0m0-41.1h0m.2 13.2h0m1.4-113.1h0m22.2 79.9h0m4.7-30.6h0m55.9 125.1h0m.3-23.2h0m0-21.3h0m.9 8.4h0m42.4 91h0m.1-174.4h0m.2 206.5h0m.1-172.7h0m0-90.4h0m0 116.4h0m.1 179.4h0m.1-358.7h0m.1 96h0m0 139.3h0m0 21.5h0m.1-53.7h0m8-108.2h0m5.9 65.1h0m.1-27.7h0m.3 58.5h0m.1-10.1h0m0-109.3h0m23.8 258h0m.3-196.8h0m0 141.7h0m0-100.9h0m.1 119.5h0m0-40.8h0m.1-31.5h0m0 15.8h0m.2 120.3h0m0-167.3h0m.1-27.8h0m0 41.4h0m20-114.5h0m.3-10.7h0m0-14.5h0m0 75.1h0m.1-13.3h0m.1-12.1h0m44.5-80.3h0m11.4 142.5h0m.4 13.3h0m.2-29.5h0m25.6-133.8h0m12.6 77.3h0m.4 200.7h0m.5-230.7h0m.1 60.6h0m.5 92.4h0m.3-37.7h0m.2-26.6h0m.1 132h0m.1-193.8h0m.2 108.6h0m.1-81.9h0m.8 32.2h0m.8-87.5h0m19.4 37.5h0m.3 58.6h0m15.7 20.4h0m6.6-78.6h0m.2 35.6h0m.4 30.4h0m.4 21.7h0m.8-113.9h0m4.7 21.4h0m.3 72.4h0m1.4 21.1h0m.4-89.2h0m.1 64.6h0m.7 113.9h0m.3-53.8h0m1.1-174.1h0m.3 74.4h0m.2 129h0m1.1-149.9h0m.2 78.4h0m.4-49.3h0m5.5-39.5h0m.6-56.8h0m.5 118.1h0m.4 63.4h0m.1-131.5h0m.1 53.7h0m.6 71.5h0m.9 44.7h0m.1-219.4h0m19.6 205.5h0m.2-31.8h0m0 44.3h0m.1-73.3h0m.2 44.3h0m.2-29.7h0m33.8-109.3h0m.3 36h0m.3-65.4h0m26.9 50.9h0m7.3-36.7h0m.2-15.4h0m0 38.6h0m.2 14.4h0m0-67.4h0m.1 86.9h0m.1-42.6h0m3.5 25.2h0m.3 28.3h0m2-58.1h0m.2 23.1h0m.2-42.1h0m1-30.3h0m.2 86h0m.1-45.6h0m0-24.9h0m4.8-4.7h0m.2 53h0m.2 .1h0m.5-42.5h0m.7 20.8h0m.1-47.1h0m3.5 47.3h0m1.7-27.6h0m30.9 167.2h0m12.3 29h0m11.8 17.1h0m22.7 61.6h0m146.5-210.3h0m.5 61h0"/><path id="HF22" d="M145 400.4h0m.1 35.9h0m.6-57.6h0m3.3 34.2h0m4.3-5h0m3.8-183.3h0m5.8 3.2h0m12.9 3.6h0m1.5-29.6h0m.9 18h0m9.3 372.8h0m.1-121.3h0m.1-57.5h0m39.1-175.7h0m5.5 113.9h0m1.9 45.9h0m.2 57.6h0m0 16.6h0m.2 43.1h0m.1-86.3h0m.2 58.7h0m.1 109.7h0m.3-98.3h0m0-54.4h0m.3 88.2h0m0-119.2h0m2.7-70.7h0m.1-141.8h0m.1 78.7h0m.1 31h0m.1-78.2h0m.1 33h0m.3-18.8h0m.6-30.1h0m0 79.3h0m13.3-15.8h0m.4-23.8h0m.2-51.1h0m.2 24.7h0m.6 19.1h0m.2 30.3h0m.3-63.7h0m4.8 118.4h0m.5 14.4h0m0 13.6h0m.1 45.7h0m0 27.9h0m0-60.6h0m.5-54.7h0m.1 69.3h0m.2 31.3h0m0 47.1h0m0-14.4h0m23.7-259.8h0m.1 134.5h0m2.3-31h0m57.9 111.8h0m.1-23.8h0m0-21h0m.8 8.8h0m43 32.6h0m.1 90.3h0m.1-321.7h0m0 202.1h0m.2 90.9h0m0 62.5h0m0-103.3h0m0-103.8h0m.1-83.1h0m.1 50.5h0m0 59.5h0m.1-84.1h0m8.1 28.9h0m5.8-48.7h0m.1 114.3h0m0-57.4h0m.1 47.8h0m.5-19.3h0m23.7 28.2h0m.1 62h0m0-90.4h0m0 167.8h0m.1-108.2h0m.1 54.5h0m.1-72.2h0m0 91.1h0m.1-121h0m0 183.1h0m.2-120.3h0m0-103.7h0m20-69.4h0m0 50.1h0m.2 12.7h0m.1 13.3h0m0-60.8h0m.1 10.6h0m44.8-53.7h0m11.7 123.6h0m0 29.6h0m.2-13.5h0m25.8-141.7h0m12 192.2h0m.5-37.6h0m.2-23.8h0m.2-31h0m0 170.4h0m.6-230.2h0m.3 29.6h0m.7 105.6h0m.2-108.8h0m.1 59.3h0m.8-87.1h0m.1 224.9h0m1.1-170.3h0m18.8 46.4h0m0-60.9h0m15.8 81.3h0m7 3.9h0m.3-52.9h0m.4 30.2h0m.8-65.8h0m.3-26.2h0m5.7 95.4h0m.5-73.7h0m.2 94.1h0m1 35h0m.1 30.2h0m1.4-204.1h0m.1 114.2h0m0-36.4h0m.6 149.6h0m0-178.5h0m2 3.7h0m.4 29.4h0m.3 49.1h0m3.9-139.3h0m.1 176.2h0m.2-125.6h0m.1 65.2h0m1.7 101.1h0m1.1-219.7h0m.2 103.1h0m.5 69.9h0m0-126.5h0m19.8 156.3h0m.1-61.2h0m0 29.6h0m0 15.9h0m0-30.3h0m.3 61.4h0m33.8-150.8h0m.4 16.1h0m.3-63.5h0m26.7 49.8h0m7.4-53.4h0m0 53h0m.3-36.7h0m0 56.4h0m.1-42.6h0m.1-44.4h0m.1 52.9h0m4.1 16.9h0m1.7-29.1h0m.1-67h0m.4 47.2h0m.5-30.6h0m.4 15.7h0m.1 56.8h0m.1-32.2h0m0 46.7h0m4.8-75.8h0m.4 54.4h0m.5-43.9h0m.3-25.5h0m.1 67.8h0m.4-19.5h0m4.3-29.6h0m.1 27.6h0m34.6 102.7h0m9 114.1h0m12.4-18.6h0m22.5 51.5h0m146.8-209.8h0m.1 88.2h0"/><path id="HF23" d="M144.3 379.4h0m0 57.7h0m.4-36h0m4.5 16.2h0m4.5-8.2h0m3.8-182.1h0m5.5 11.7h0m14.3-35.7h0m.7 28.9h0m.4-9.4h0m8.1 371.6h0m1.2-180h0m.5 61.3h0m38.4-235.9h0m5.9 139.7h0m1.5 35.4h0m.1 30.4h0m.1 90.1h0m.3-35.9h0m.3 16.1h0m.3 83.2h0m.2-142.7h0m.1-57.8h0m.3 74.4h0m.2 15.2h0m0-57.7h0m2.6-196.9h0m.1 119h0m.1-85h0m.1-65.6h0m0 16.3h0m0 93.8h0m.4-15h0m.3-49.3h0m.1 32.8h0m10.4 72.1h0m.3-121.8h0m2.9 26.4h0m.4-50.7h0m1 12.3h0m.3 63.5h0m0-30.3h0m4.8 216.9h0m.2-147h0m0 28h0m.2 104.8h0m.1-15h0m.2-63.2h0m.2-13.9h0m.1 60h0m.2-84.8h0m.3 70.7h0m.1-17.9h0m22-187.1h0m2.6 125.5h0m2-29.3h0m57 112h0m.4-46.1h0m.2 23h0m.9-7.3h0m42.3 150h0m.2-123.5h0m.1 61.3h0m0-294.1h0m.3 91.4h0m0 230.4h0m0-172.5h0m.1-32.4h0m0 139.5h0m.2-52.7h0m0-28.5h0m.1-107.3h0m8.2 52.6h0m5.7-44.2h0m0 80.8h0m.5 28.6h0m.1-57.4h0m.2 47.8h0m23.5 40.6h0m.1-16.8h0m0 48.3h0m.1-79.5h0m0 183.3h0m.1-26.9h0m.2-197.3h0m0 103.9h0m.1-74.9h0m0 133.1h0m0-104.3h0m.2 85.5h0m20-184.5h0m.2-12.7h0m0 48.1h0m0-12.8h0m.1 25.1h0m.4-75.7h0m44.9-58.6h0m10.8 171.7h0m.6-17.1h0m.1 29.3h0m25.5-155.2h0m12.3 193.2h0m.3 77.5h0m.3-116.3h0m.6-22.6h0m.3-31.1h0m.3-60.7h0m.1 32.4h0m.6 193.9h0m.7-138h0m.1-34.2h0m0 81.4h0m.6-136.4h0m.5 27.7h0m19.2 11.8h0m.1 62.7h0m15.9 19.3h0m7.7-82.7h0m.3 63.5h0m.4 24.7h0m0-52.7h0m.2-62.8h0m5.2 30.9h0m.3 65h0m1.7-37.6h0m.7 57.7h0m.3 63.5h0m0-194.4h0m.2 164.2h0m1.3-124.8h0m.5 66.7h0m0-144.6h0m1.6 160.2h0m.6-48.1h0m.1-30.2h0m3.9-7.8h0m.1 123.6h0m.2-171.9h0m.8 113.3h0m1.9 51.7h0m.2-123.6h0m.2 62.2h0m.3-110.3h0m19.6 186.6h0m.4-30.6h0m.1-104h0m0 165.5h0m0-15.9h0m.1-60.3h0m.1 28.5h0m33.6-103.9h0m.2 16.7h0m.6-63.3h0m26.8 55.1h0m7.2-20.4h0m0-52.2h0m.3 29.6h0m.1 36.8h0m.2-53.3h0m0 72.8h0m.2-42.1h0m3.3 26.7h0m2.5-8.7h0m.5 15.3h0m.1-56.8h0m.1 9.1h0m.2 11.6h0m.2-51.7h0m.4 15.9h0m.2-32.1h0m4.9 27.5h0m0 178.2h0m.3-192.2h0m0 47.5h0m.1 19.1h0m.6-41.3h0m5 20.6h0m.7-27.7h0m33.8 136.9h0m15-8.2h0m8.8 94.4h0m20.2 56.1h0m146.7-211.1h0m1 182.8h0"/></defs><rect width="1231" height="2486" fill="#fff"/><g class="pt"><g transform="matrix(1,0,0,1,0,0)" stroke="#458B00" stroke-opacity="0.2" stroke-width="10.8"><use href="#AT0"/><use href="#AT1"/><use href="#AT2"/><use href="#AT3"/><use href="#AT4"/><use href="#AT5"/><use href="#AT6"/><use href="#AT7"/><use href="#AT8"/><use href="#AT9"/><use href="#AT10"/><use href="#AT11"/><use href="#AT12"/><use href="#AT13"/><use href="#AT14"/><use href="#AT15"/><use href="#AT16"/><use href="#AT17"/><use href="#AT18"/><use href="#AT19"/><use href="#AT20"/><use href="#AT21"/><use href="#AT22"/><use href="#AT23"/></g><g transform="matrix(1,0,0,1,0,0)" stroke="#458B00" stroke-opacity="0.2" stroke-width="10.8"><use href="#AF0"/><use href="#AF1"/><use href="#AF2"/><use href="#AF3"/><use href="#AF4"/><use href="#AF5"/><use href="#AF6"/><use href="#AF7"/><use href="#AF8"/><use href="#AF9"/><use href="#AF10"/><use href="#AF11"/><use href="#AF12"/><use href="#AF13"/><use href="#AF14"/><use href="#AF15"/><use href="#AF16"/><use href="#AF17"/><use href="#AF18"/><use href="#AF19"/><use href="#AF20"/><use href="#AF21"/><use href="#AF22"/><use href="#AF23"/></g><g transform="matrix(1,0,0,1,0,0)" stroke="#D2691E" stroke-opacity="0.2" stroke-width="10.8"><use href="#HT0"/><use href="#HT1"/><use href="#HT2"/><use href="#HT3"/><use href="#HT4"/><use href="#HT5"/><use href="#HT6"/><use href="#HT7"/><use href="#HT8"/><use href="#HT9"/><use href="#HT10"/><use href="#HT11"/><use href="#HT12"/><use href="#HT13"/><use href="#HT14"/><use href="#HT15"/><use href="#HT16"/><use href="#HT17"/><use href="#HT18"/><use href="#HT19"/><use href="#HT20"/><use href="#HT21"/><use href="#HT22"/><use href="#HT23"/></g><g transform="matrix(1,0,0,1,0,0)" stroke="#D2691E" stroke-opacity="0.2" stroke-width="10.8"><use href="#HF0"/><use href="#HF1"/><use href="#HF2"/><use href="#HF3"/><use href="#HF4"/><use href="#HF5"/><use href="#HF6"/><use href="#HF7"/><use href="#HF8"/><use href="#HF9"/><use href="#HF10"/><use href="#HF11"/><use href="#HF12"/><use href="#HF13"/><use href="#HF14"/><use href="#HF15"/><use href="#HF16"/><use href="#HF17"/><use href="#HF18"/><use href="#HF19"/><use href="#HF20"/><use href="#HF21"/><use href="#HF22"/><use href="#HF23"/></g><g transform="matrix(1,0,0,0.93083,0,891.71)" stroke="#CD9B1D" stroke-opacity="0.2" stroke-width="10.8"><use href="#AT0"/><use href="#AT1"/><use href="#AT2"/><use href="#AT3"/><use href="#AT4"/><use href="#AT5"/><use href="#AT6"/><use href="#AT7"/><use href="#AT8"/><use href="#AT9"/><use href="#AT10"/><use href="#AT11"/><use href="#AT12"/><use href="#AT13"/><use href="#AT14"/><use href="#AT15"/><use href="#AT16"/><use href="#AT17"/><use href="#AT18"/><use href="#AT19"/><use href="#AT20"/><use href="#AT21"/><use href="#AT22"/><use href="#AT23"/></g><g transform="matrix(1,0,0,0.93083,0,891.71)" stroke="#CD9B1D" stroke-opacity="0.2" stroke-width="10.8"><use href="#HT0"/><use href="#HT1"/><use href="#HT2"/><use href="#HT3"/><use href="#HT4"/><use href="#HT5"/><use href="#HT6"/><use href="#HT7"/><use href="#HT8"/><use href="#HT9"/><use href="#HT10"/><use href="#HT11"/><use href="#HT12"/><use href="#HT13"/><use href="#HT14"/><use href="#HT15"/><use href="#HT16"/><use href="#HT17"/><use href="#HT18"/><use href="#HT19"/><use href="#HT20"/><use href="#HT21"/><use href="#HT22"/><use href="#HT23"/></g><g transform="matrix(1,0,0,0.93083,0,891.71)" stroke="#00CED1" stroke-opacity="0.2" stroke-width="10.8"><use href="#AF0"/><use href="#AF1"/><use href="#AF2"/><use href="#AF3"/><use href="#AF4"/><use href="#AF5"/><use href="#AF6"/><use href="#AF7"/><use href="#AF8"/><use href="#AF9"/><use href="#AF10"/><use href="#AF11"/><use href="#AF12"/><use href="#AF13"/><use href="#AF14"/><use href="#AF15"/><use href="#AF16"/><use href="#AF17"/><use href="#AF18"/><use href="#AF19"/><use href="#AF20"/><use href="#AF21"/><use href="#AF22"/><use href="#AF23"/></g><g transform="matrix(1,0,0,0.93083,0,891.71)" stroke="#00CED1" stroke-opacity="0.2" stroke-width="10.8"><use href="#HF0"/><use href="#HF1"/><use href="#HF2"/><use href="#HF3"/><use href="#HF4"/><use href="#HF5"/><use href="#HF6"/><use href="#HF7"/><use href="#HF8"/><use href="#HF9"/><use href="#HF10"/><use href="#HF11"/><use href="#HF12"/><use href="#HF13"/><use href="#HF14"/><use href="#HF15"/><use href="#HF16"/><use href="#HF17"/><use href="#HF18"/><use href="#HF19"/><use href="#HF20"/><use href="#HF21"/><use href="#HF22"/><use href="#HF23"/></g><g transform="matrix(0.49241,0,0,0.93083,42.188,1733.11)" stroke="#008B8B" stroke-opacity="0.3" stroke-width="11.8"><use href="#HF0"/><use href="#HF1"/><use href="#HF2"/><use href="#HF3"/><use href="#HF4"/><use href="#HF5"/><use href="#HF6"/><use href="#HF7"/><use href="#HF8"/><use href="#HF9"/><use href="#HF10"/><use href="#HF11"/><use href="#HF12"/><use href="#HF13"/><use href="#HF14"/><use href="#HF15"/><use href="#HF16"/><use href="#HF17"/><use href="#HF18"/><use href="#HF19"/><use href="#HF20"/><use href="#HF21"/><use href="#HF22"/><use href="#HF23"/></g><g transform="matrix(0.49241,0,0,0.93083,42.188,1733.11)" stroke="#00FFFF" stroke-opacity="0.3" stroke-width="11.8"><use href="#AF0"/><use href="#AF1"/><use href="#AF2"/><use href="#AF3"/><use href="#AF4"/><use href="#AF5"/><use href="#AF6"/><use href="#AF7"/><use href="#AF8"/><use href="#AF9"/><use href="#AF10"/><use href="#AF11"/><use href="#AF12"/><use href="#AF13"/><use href="#AF14"/><use href="#AF15"/><use href="#AF16"/><use href="#AF17"/><use href="#AF18"/><use href="#AF19"/><use href="#AF20"/><use href="#AF21"/><use href="#AF22"/><use href="#AF23"/></g><g transform="matrix(0.49241,0,0,0.93083,571.788,1733.11)" stroke="#FFC125" stroke-opacity="0.3" stroke-width="11.8"><use href="#AT0"/><use href="#AT1"/><use href="#AT2"/><use href="#AT3"/><use href="#AT4"/><use href="#AT5"/><use href="#AT6"/><use href="#AT7"/><use href="#AT8"/><use href="#AT9"/><use href="#AT10"/><use href="#AT11"/><use href="#AT12"/><use href="#AT13"/><use href="#AT14"/><use href="#AT15"/><use href="#AT16"/><use href="#AT17"/><use href="#AT18"/><use href="#AT19"/><use href="#AT20"/><use href="#AT21"/><use href="#AT22"/><use href="#AT23"/></g><g transform="matrix(0.49241,0,0,0.93083,571.788,1733.11)" stroke="#8B6914" stroke-opacity="0.3" stroke-width="11.8"><use href="#HT0"/><use href="#HT1"/><use href="#HT2"/><use href="#HT3"/><use href="#HT4"/><use href="#HT5"/><use href="#HT6"/><use href="#HT7"/><use href="#HT8"/><use href="#HT9"/><use href="#HT10"/><use href="#HT11"/><use href="#HT12"/><use href="#HT13"/><use href="#HT14"/><use href="#HT15"/><use href="#HT16"/><use href="#HT17"/><use href="#HT18"/><use href="#HT19"/><use href="#HT20"/><use href="#HT21"/><use href="#HT22"/><use href="#HT23"/></g></g><line x1="129.7" y1="580.5" x2="1080.5" y2="503.5" stroke="#458B00" stroke-width="6"/><line x1="129.7" y1="389" x2="1080.5" y2="367" stroke="#D2691E" stroke-width="6.2" stroke-dasharray="6.24 18.72"/><line x1="129.7" y1="1369.3" x2="1080.5" y2="1305.7" stroke="#CD9B1D" stroke-width="6"/><line x1="129.7" y1="1316.8" x2="1080.5" y2="1288.2" stroke="#00CED1" stroke-width="6.2" stroke-dasharray="6.24 18.72"/><line x1="105.4" y1="2074.1" x2="562.5" y2="2070.8" stroke="#008B8B" stroke-width="6.2" stroke-dasharray="6.24 18.72"/><line x1="105.3" y1="2242.6" x2="562.5" y2="2190.3" stroke="#00FFFF" stroke-width="6.2" stroke-dasharray="6.24 18.72"/><line x1="636.3" y1="2304" x2="1104.6" y2="2216.5" stroke="#FFC125" stroke-width="6"/><line x1="636.3" y1="2117.5" x2="1104.6" y2="2079.3" stroke="#8B6914" stroke-width="6.2" stroke-dasharray="6.24 18.72"/><line x1="83" y1="-0.5" x2="83" y2="733.4" stroke="#000" stroke-width="3.6"/><line x1="1127.3" y1="-0.5" x2="1127.3" y2="733.4" stroke="#000" stroke-width="3.6"/><line x1="81.2" y1="731.6" x2="1129.1" y2="731.6" stroke="#000" stroke-width="3.6"/><line x1="130.2" y1="731.6" x2="130.2" y2="740.4" stroke="#333" stroke-width="3.3"/><text x="130.2" y="764.9" text-anchor="middle" class="tk" textLength="14.2" lengthAdjust="spacingAndGlyphs">0</text><line x1="367.4" y1="731.6" x2="367.4" y2="740.4" stroke="#333" stroke-width="3.3"/><text x="367.4" y="764.9" text-anchor="middle" class="tk" textLength="28.5" lengthAdjust="spacingAndGlyphs">20</text><line x1="604.6" y1="731.6" x2="604.6" y2="740.4" stroke="#333" stroke-width="3.3"/><text x="604.6" y="764.9" text-anchor="middle" class="tk" textLength="28.5" lengthAdjust="spacingAndGlyphs">40</text><line x1="841.8" y1="731.6" x2="841.8" y2="740.4" stroke="#333" stroke-width="3.3"/><text x="841.8" y="764.9" text-anchor="middle" class="tk" textLength="28.5" lengthAdjust="spacingAndGlyphs">60</text><line x1="1079.0" y1="731.6" x2="1079.0" y2="740.4" stroke="#333" stroke-width="3.3"/><text x="1079.0" y="764.9" text-anchor="middle" class="tk" textLength="28.5" lengthAdjust="spacingAndGlyphs">80</text><line x1="74.4" y1="698.5" x2="83" y2="698.5" stroke="#333" stroke-width="3.3"/><text x="67.7" y="707.6" text-anchor="end" class="tk" textLength="29.2" lengthAdjust="spacingAndGlyphs">−8</text><line x1="74.4" y1="603.4" x2="83" y2="603.4" stroke="#333" stroke-width="3.3"/><text x="67.7" y="612.5" text-anchor="end" class="tk" textLength="29.2" lengthAdjust="spacingAndGlyphs">−7</text><line x1="74.4" y1="508.2" x2="83" y2="508.2" stroke="#333" stroke-width="3.3"/><text x="67.7" y="517.3" text-anchor="end" class="tk" textLength="29.2" lengthAdjust="spacingAndGlyphs">−6</text><line x1="74.4" y1="413.1" x2="83" y2="413.1" stroke="#333" stroke-width="3.3"/><text x="67.7" y="422.2" text-anchor="end" class="tk" textLength="29.2" lengthAdjust="spacingAndGlyphs">−5</text><line x1="74.4" y1="318.0" x2="83" y2="318.0" stroke="#333" stroke-width="3.3"/><text x="67.7" y="327.1" text-anchor="end" class="tk" textLength="29.2" lengthAdjust="spacingAndGlyphs">−4</text><line x1="74.4" y1="222.9" x2="83" y2="222.9" stroke="#333" stroke-width="3.3"/><text x="67.7" y="232.0" text-anchor="end" class="tk" textLength="29.2" lengthAdjust="spacingAndGlyphs">−3</text><line x1="74.4" y1="127.7" x2="83" y2="127.7" stroke="#333" stroke-width="3.3"/><text x="67.7" y="136.8" text-anchor="end" class="tk" textLength="29.2" lengthAdjust="spacingAndGlyphs">−2</text><line x1="1127.3" y1="698.5" x2="1135.9" y2="698.5" stroke="#333" stroke-width="3.3"/><text x="1141.1" y="707.6" class="tk" textLength="35.6" lengthAdjust="spacingAndGlyphs">0.0</text><line x1="1127.3" y1="603.4" x2="1135.9" y2="603.4" stroke="#333" stroke-width="3.3"/><text x="1141.1" y="612.5" class="tk" textLength="35.6" lengthAdjust="spacingAndGlyphs">0.1</text><line x1="1127.3" y1="508.2" x2="1135.9" y2="508.2" stroke="#333" stroke-width="3.3"/><text x="1141.1" y="517.3" class="tk" textLength="35.6" lengthAdjust="spacingAndGlyphs">0.2</text><line x1="1127.3" y1="413.1" x2="1135.9" y2="413.1" stroke="#333" stroke-width="3.3"/><text x="1141.1" y="422.2" class="tk" textLength="35.6" lengthAdjust="spacingAndGlyphs">0.7</text><line x1="1127.3" y1="318.0" x2="1135.9" y2="318.0" stroke="#333" stroke-width="3.3"/><text x="1141.1" y="327.1" class="tk" textLength="35.6" lengthAdjust="spacingAndGlyphs">1.8</text><line x1="1127.3" y1="222.9" x2="1135.9" y2="222.9" stroke="#333" stroke-width="3.3"/><text x="1141.1" y="232.0" class="tk" textLength="35.6" lengthAdjust="spacingAndGlyphs">4.7</text><line x1="1127.3" y1="127.7" x2="1135.9" y2="127.7" stroke="#333" stroke-width="3.3"/><text x="1141.1" y="136.8" class="tk" textLength="47.9" lengthAdjust="spacingAndGlyphs">11.9</text><line x1="83" y1="891.2" x2="83" y2="1574.6" stroke="#000" stroke-width="3.6"/><line x1="1127.3" y1="891.2" x2="1127.3" y2="1574.6" stroke="#000" stroke-width="3.6"/><line x1="81.2" y1="1572.8" x2="1129.1" y2="1572.8" stroke="#000" stroke-width="3.6"/><line x1="130.2" y1="1572.8" x2="130.2" y2="1581.6" stroke="#333" stroke-width="3.3"/><text x="130.2" y="1606.1" text-anchor="middle" class="tk" textLength="14.2" lengthAdjust="spacingAndGlyphs">0</text><line x1="367.4" y1="1572.8" x2="367.4" y2="1581.6" stroke="#333" stroke-width="3.3"/><text x="367.4" y="1606.1" text-anchor="middle" class="tk" textLength="28.5" lengthAdjust="spacingAndGlyphs">20</text><line x1="604.6" y1="1572.8" x2="604.6" y2="1581.6" stroke="#333" stroke-width="3.3"/><text x="604.6" y="1606.1" text-anchor="middle" class="tk" textLength="28.5" lengthAdjust="spacingAndGlyphs">40</text><line x1="841.8" y1="1572.8" x2="841.8" y2="1581.6" stroke="#333" stroke-width="3.3"/><text x="841.8" y="1606.1" text-anchor="middle" class="tk" textLength="28.5" lengthAdjust="spacingAndGlyphs">60</text><line x1="1079.0" y1="1572.8" x2="1079.0" y2="1581.6" stroke="#333" stroke-width="3.3"/><text x="1079.0" y="1606.1" text-anchor="middle" class="tk" textLength="28.5" lengthAdjust="spacingAndGlyphs">80</text><line x1="74.4" y1="1541.9" x2="83" y2="1541.9" stroke="#333" stroke-width="3.3"/><text x="67.7" y="1551.0" text-anchor="end" class="tk" textLength="29.2" lengthAdjust="spacingAndGlyphs">−8</text><line x1="74.4" y1="1453.4" x2="83" y2="1453.4" stroke="#333" stroke-width="3.3"/><text x="67.7" y="1462.5" text-anchor="end" class="tk" textLength="29.2" lengthAdjust="spacingAndGlyphs">−7</text><line x1="74.4" y1="1364.8" x2="83" y2="1364.8" stroke="#333" stroke-width="3.3"/><text x="67.7" y="1373.9" text-anchor="end" class="tk" textLength="29.2" lengthAdjust="spacingAndGlyphs">−6</text><line x1="74.4" y1="1276.2" x2="83" y2="1276.2" stroke="#333" stroke-width="3.3"/><text x="67.7" y="1285.3" text-anchor="end" class="tk" textLength="29.2" lengthAdjust="spacingAndGlyphs">−5</text><line x1="74.4" y1="1187.7" x2="83" y2="1187.7" stroke="#333" stroke-width="3.3"/><text x="67.7" y="1196.8" text-anchor="end" class="tk" textLength="29.2" lengthAdjust="spacingAndGlyphs">−4</text><line x1="74.4" y1="1099.2" x2="83" y2="1099.2" stroke="#333" stroke-width="3.3"/><text x="67.7" y="1108.2" text-anchor="end" class="tk" textLength="29.2" lengthAdjust="spacingAndGlyphs">−3</text><line x1="74.4" y1="1010.6" x2="83" y2="1010.6" stroke="#333" stroke-width="3.3"/><text x="67.7" y="1019.7" text-anchor="end" class="tk" textLength="29.2" lengthAdjust="spacingAndGlyphs">−2</text><line x1="1127.3" y1="1541.9" x2="1135.9" y2="1541.9" stroke="#333" stroke-width="3.3"/><text x="1141.1" y="1551.0" class="tk" textLength="35.6" lengthAdjust="spacingAndGlyphs">0.0</text><line x1="1127.3" y1="1453.4" x2="1135.9" y2="1453.4" stroke="#333" stroke-width="3.3"/><text x="1141.1" y="1462.5" class="tk" textLength="35.6" lengthAdjust="spacingAndGlyphs">0.1</text><line x1="1127.3" y1="1364.8" x2="1135.9" y2="1364.8" stroke="#333" stroke-width="3.3"/><text x="1141.1" y="1373.9" class="tk" textLength="35.6" lengthAdjust="spacingAndGlyphs">0.2</text><line x1="1127.3" y1="1276.2" x2="1135.9" y2="1276.2" stroke="#333" stroke-width="3.3"/><text x="1141.1" y="1285.3" class="tk" textLength="35.6" lengthAdjust="spacingAndGlyphs">0.7</text><line x1="1127.3" y1="1187.7" x2="1135.9" y2="1187.7" stroke="#333" stroke-width="3.3"/><text x="1141.1" y="1196.8" class="tk" textLength="35.6" lengthAdjust="spacingAndGlyphs">1.8</text><line x1="1127.3" y1="1099.2" x2="1135.9" y2="1099.2" stroke="#333" stroke-width="3.3"/><text x="1141.1" y="1108.2" class="tk" textLength="35.6" lengthAdjust="spacingAndGlyphs">4.7</text><line x1="1127.3" y1="1010.6" x2="1135.9" y2="1010.6" stroke="#333" stroke-width="3.3"/><text x="1141.1" y="1019.7" class="tk" textLength="47.9" lengthAdjust="spacingAndGlyphs">11.9</text><line x1="83" y1="1731.2" x2="83" y2="2416.1000000000004" stroke="#000" stroke-width="3.6"/><line x1="1127.3" y1="1731.2" x2="1127.3" y2="2416.1000000000004" stroke="#000" stroke-width="3.6"/><line x1="81.2" y1="2414.3" x2="596.7" y2="2414.3" stroke="#000" stroke-width="3.6"/><line x1="106.3" y1="2414.3" x2="106.3" y2="2423.1" stroke="#333" stroke-width="3.3"/><text x="106.3" y="2447.6" text-anchor="middle" class="tk" textLength="14.2" lengthAdjust="spacingAndGlyphs">0</text><line x1="223.1" y1="2414.3" x2="223.1" y2="2423.1" stroke="#333" stroke-width="3.3"/><text x="223.1" y="2447.6" text-anchor="middle" class="tk" textLength="28.5" lengthAdjust="spacingAndGlyphs">20</text><line x1="339.9" y1="2414.3" x2="339.9" y2="2423.1" stroke="#333" stroke-width="3.3"/><text x="339.9" y="2447.6" text-anchor="middle" class="tk" textLength="28.5" lengthAdjust="spacingAndGlyphs">40</text><line x1="456.7" y1="2414.3" x2="456.7" y2="2423.1" stroke="#333" stroke-width="3.3"/><text x="456.7" y="2447.6" text-anchor="middle" class="tk" textLength="28.5" lengthAdjust="spacingAndGlyphs">60</text><line x1="573.5" y1="2414.3" x2="573.5" y2="2423.1" stroke="#333" stroke-width="3.3"/><text x="573.5" y="2447.6" text-anchor="middle" class="tk" textLength="28.5" lengthAdjust="spacingAndGlyphs">80</text><line x1="612.9" y1="2414.3" x2="1129.1" y2="2414.3" stroke="#000" stroke-width="3.6"/><line x1="635.9" y1="2414.3" x2="635.9" y2="2423.1" stroke="#333" stroke-width="3.3"/><text x="635.9" y="2447.6" text-anchor="middle" class="tk" textLength="14.2" lengthAdjust="spacingAndGlyphs">0</text><line x1="752.7" y1="2414.3" x2="752.7" y2="2423.1" stroke="#333" stroke-width="3.3"/><text x="752.7" y="2447.6" text-anchor="middle" class="tk" textLength="28.5" lengthAdjust="spacingAndGlyphs">20</text><line x1="869.5" y1="2414.3" x2="869.5" y2="2423.1" stroke="#333" stroke-width="3.3"/><text x="869.5" y="2447.6" text-anchor="middle" class="tk" textLength="28.5" lengthAdjust="spacingAndGlyphs">40</text><line x1="986.3" y1="2414.3" x2="986.3" y2="2423.1" stroke="#333" stroke-width="3.3"/><text x="986.3" y="2447.6" text-anchor="middle" class="tk" textLength="28.5" lengthAdjust="spacingAndGlyphs">60</text><line x1="1103.1" y1="2414.3" x2="1103.1" y2="2423.1" stroke="#333" stroke-width="3.3"/><text x="1103.1" y="2447.6" text-anchor="middle" class="tk" textLength="28.5" lengthAdjust="spacingAndGlyphs">80</text><line x1="74.4" y1="2383.3" x2="83" y2="2383.3" stroke="#333" stroke-width="3.3"/><text x="67.7" y="2392.4" text-anchor="end" class="tk" textLength="29.2" lengthAdjust="spacingAndGlyphs">−8</text><line x1="74.4" y1="2294.8" x2="83" y2="2294.8" stroke="#333" stroke-width="3.3"/><text x="67.7" y="2303.8" text-anchor="end" class="tk" textLength="29.2" lengthAdjust="spacingAndGlyphs">−7</text><line x1="74.4" y1="2206.2" x2="83" y2="2206.2" stroke="#333" stroke-width="3.3"/><text x="67.7" y="2215.3" text-anchor="end" class="tk" textLength="29.2" lengthAdjust="spacingAndGlyphs">−6</text><line x1="74.4" y1="2117.7" x2="83" y2="2117.7" stroke="#333" stroke-width="3.3"/><text x="67.7" y="2126.8" text-anchor="end" class="tk" textLength="29.2" lengthAdjust="spacingAndGlyphs">−5</text><line x1="74.4" y1="2029.1" x2="83" y2="2029.1" stroke="#333" stroke-width="3.3"/><text x="67.7" y="2038.2" text-anchor="end" class="tk" textLength="29.2" lengthAdjust="spacingAndGlyphs">−4</text><line x1="74.4" y1="1940.6" x2="83" y2="1940.6" stroke="#333" stroke-width="3.3"/><text x="67.7" y="1949.7" text-anchor="end" class="tk" textLength="29.2" lengthAdjust="spacingAndGlyphs">−3</text><line x1="74.4" y1="1852.0" x2="83" y2="1852.0" stroke="#333" stroke-width="3.3"/><text x="67.7" y="1861.1" text-anchor="end" class="tk" textLength="29.2" lengthAdjust="spacingAndGlyphs">−2</text><line x1="1127.3" y1="2383.3" x2="1135.9" y2="2383.3" stroke="#333" stroke-width="3.3"/><text x="1141.1" y="2392.4" class="tk" textLength="35.6" lengthAdjust="spacingAndGlyphs">0.0</text><line x1="1127.3" y1="2294.8" x2="1135.9" y2="2294.8" stroke="#333" stroke-width="3.3"/><text x="1141.1" y="2303.8" class="tk" textLength="35.6" lengthAdjust="spacingAndGlyphs">0.1</text><line x1="1127.3" y1="2206.2" x2="1135.9" y2="2206.2" stroke="#333" stroke-width="3.3"/><text x="1141.1" y="2215.3" class="tk" textLength="35.6" lengthAdjust="spacingAndGlyphs">0.2</text><line x1="1127.3" y1="2117.7" x2="1135.9" y2="2117.7" stroke="#333" stroke-width="3.3"/><text x="1141.1" y="2126.8" class="tk" textLength="35.6" lengthAdjust="spacingAndGlyphs">0.7</text><line x1="1127.3" y1="2029.1" x2="1135.9" y2="2029.1" stroke="#333" stroke-width="3.3"/><text x="1141.1" y="2038.2" class="tk" textLength="35.6" lengthAdjust="spacingAndGlyphs">1.8</text><line x1="1127.3" y1="1940.6" x2="1135.9" y2="1940.6" stroke="#333" stroke-width="3.3"/><text x="1141.1" y="1949.7" class="tk" textLength="35.6" lengthAdjust="spacingAndGlyphs">4.7</text><line x1="1127.3" y1="1852.0" x2="1135.9" y2="1852.0" stroke="#333" stroke-width="3.3"/><text x="1141.1" y="1861.1" class="tk" textLength="47.9" lengthAdjust="spacingAndGlyphs">11.9</text><rect x="83.8" y="1683.8" width="511.4" height="47.2" fill="#fff" stroke="#000" stroke-width="3.6"/><rect x="614" y="1683.8" width="513.3" height="47.2" fill="#fff" stroke="#000" stroke-width="3.6"/><text x="340.5" y="1716.6" text-anchor="middle" class="st" textLength="180.5" lengthAdjust="spacingAndGlyphs">FRESHWATER</text><text x="869.6" y="1716.6" text-anchor="middle" class="st" textLength="180.5" lengthAdjust="spacingAndGlyphs">TERRESTRIAL</text><circle cx="375" cy="35.4" r="5.9" fill="#458B00"/><circle cx="619" cy="35.4" r="5.9" fill="#D2691E"/><text x="416.8" y="45.8" class="lg" textLength="162.2" lengthAdjust="spacingAndGlyphs">AUTOTROPH</text><text x="659.5" y="45.8" class="lg" textLength="200.9" lengthAdjust="spacingAndGlyphs">HETEROTROPH</text><circle cx="375" cy="925" r="5.9" fill="#00CED1"/><circle cx="637.5" cy="925" r="5.9" fill="#CD9B1D"/><text x="417.5" y="935.3" class="lg" textLength="178.9" lengthAdjust="spacingAndGlyphs">FRESHWATER</text><text x="680.4" y="935.3" class="lg" textLength="178.6" lengthAdjust="spacingAndGlyphs">TERRESTRIAL</text><circle cx="355.7" cy="1775" r="5.9" fill="#00FFFF"/><circle cx="355.7" cy="1825.6" r="5.9" fill="#008B8B"/><circle cx="638.3" cy="1775" r="5.9" fill="#FFC125"/><circle cx="638.3" cy="1825.6" r="5.9" fill="#8B6914"/><text x="397.8" y="1785.3" class="lg" textLength="162.2" lengthAdjust="spacingAndGlyphs">AUTOTROPH</text><text x="396.5" y="1835.9" class="lg" textLength="200.9" lengthAdjust="spacingAndGlyphs">HETEROTROPH</text><text x="679.4" y="1785.3" class="lg" textLength="162.2" lengthAdjust="spacingAndGlyphs">AUTOTROPH</text><text x="678.3" y="1835.9" class="lg" textLength="200.9" lengthAdjust="spacingAndGlyphs">HETEROTROPH</text><text x="117.5" y="44" class="tg">A</text><text x="119" y="934.2" class="tg">B</text><text x="94.5" y="1774.5" class="tg">C</text><text transform="translate(24.2,365.5) rotate(-90)" text-anchor="middle" class="ti">logit(P)</text><text transform="translate(1207.3,363.6) rotate(90)" text-anchor="middle" class="ti" textLength="217.1" lengthAdjust="spacingAndGlyphs">P (% dry mass)</text><text transform="translate(24.2,1232) rotate(-90)" text-anchor="middle" class="ti">logit(P)</text><text transform="translate(1207.3,1230.1) rotate(90)" text-anchor="middle" class="ti" textLength="217.1" lengthAdjust="spacingAndGlyphs">P (% dry mass)</text><text transform="translate(24.2,2072.7) rotate(-90)" text-anchor="middle" class="ti">logit(P)</text><text transform="translate(1207.3,2070.8) rotate(90)" text-anchor="middle" class="ti" textLength="217.1" lengthAdjust="spacingAndGlyphs">P (% dry mass)</text><text x="605" y="2484.6" text-anchor="middle" class="ti">Absolute latitude</text></svg></body></html>
